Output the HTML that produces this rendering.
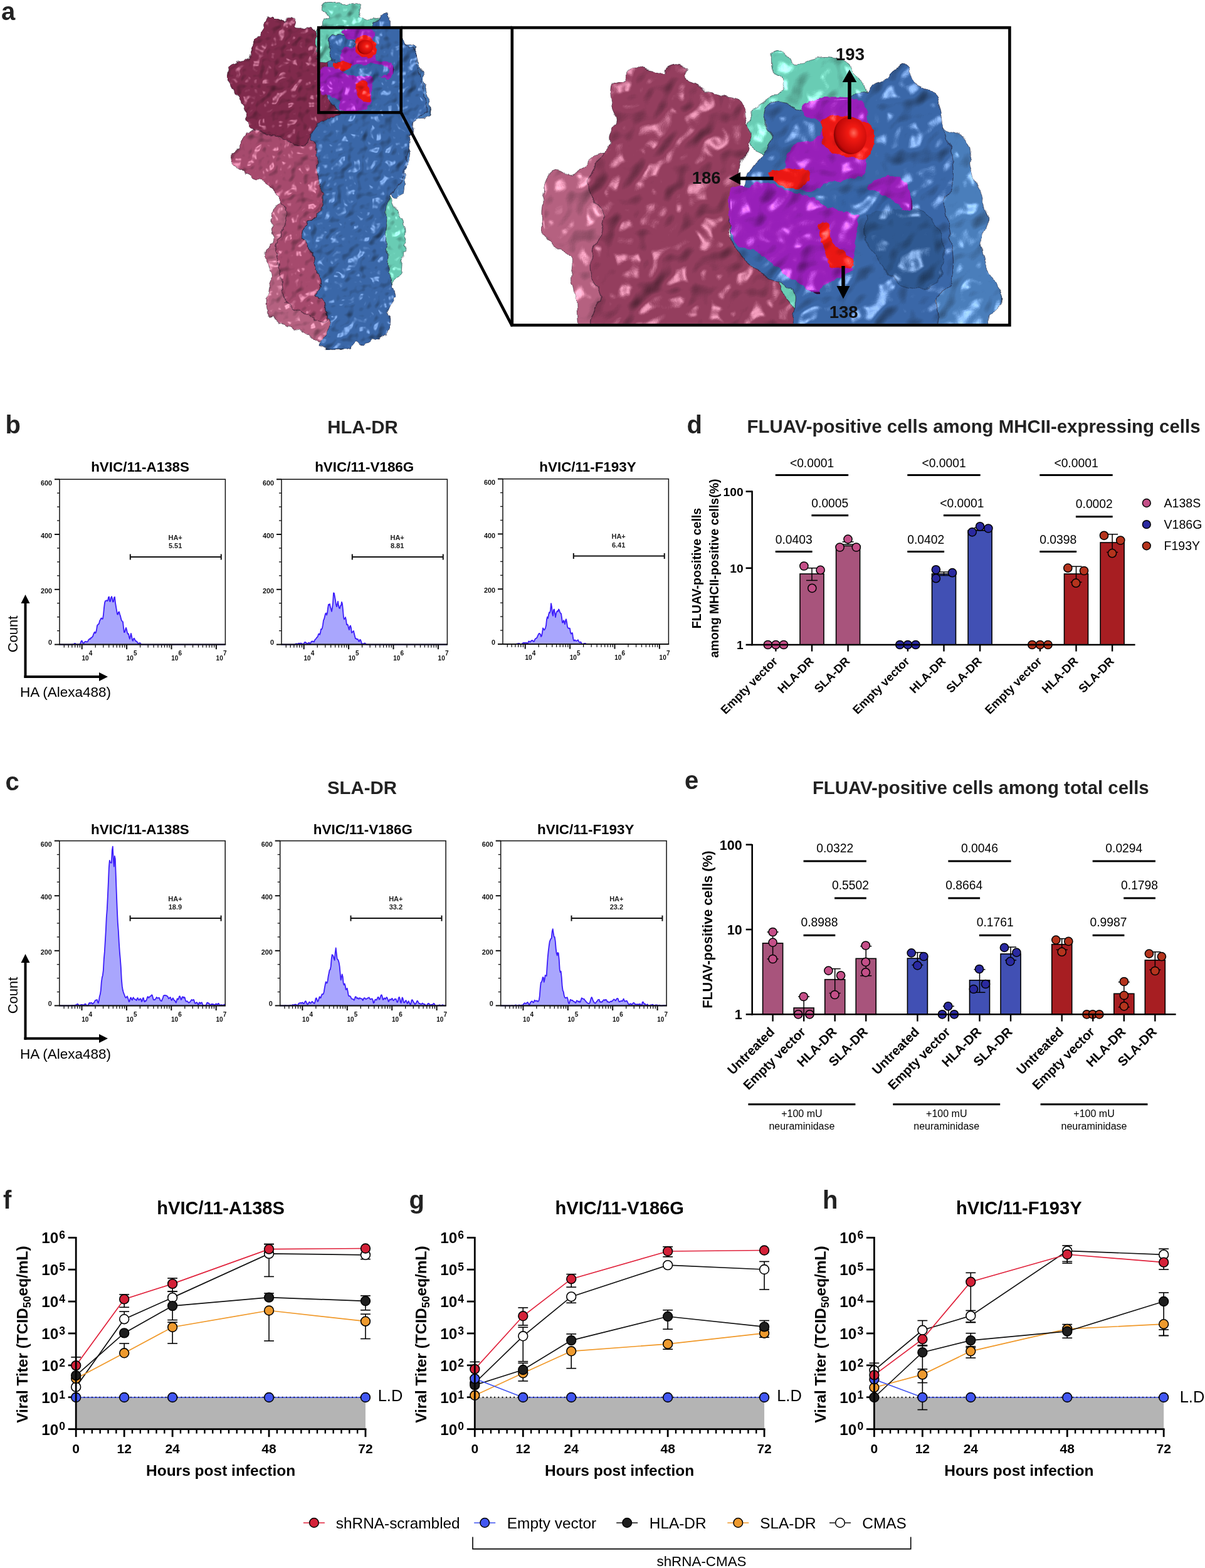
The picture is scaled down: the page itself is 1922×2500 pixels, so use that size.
<!DOCTYPE html>
<html><head><meta charset="utf-8"><title>Figure</title>
<style>html,body{margin:0;padding:0;background:#fff;overflow:hidden}svg{display:block}</style></head>
<body><svg width="1922" height="2500" viewBox="0 0 1922 2500" font-family="'Liberation Sans', sans-serif">
<rect width="1922" height="2500" fill="#fff"/>
<defs>
<filter id="bump" x="-10%" y="-10%" width="120%" height="120%" color-interpolation-filters="sRGB">
  <feTurbulence type="fractalNoise" baseFrequency="0.09" numOctaves="2" seed="4" result="t"/>
  <feDisplacementMap in="SourceGraphic" in2="t" scale="9" xChannelSelector="R" yChannelSelector="G"/>
</filter>
<filter id="bump2" x="-10%" y="-10%" width="120%" height="120%" color-interpolation-filters="sRGB">
  <feTurbulence type="fractalNoise" baseFrequency="0.05" numOctaves="2" seed="7" result="t"/>
  <feDisplacementMap in="SourceGraphic" in2="t" scale="12" xChannelSelector="R" yChannelSelector="G"/>
</filter>
<filter id="shadeS" x="0" y="0" width="100%" height="100%" color-interpolation-filters="sRGB">
  <feTurbulence type="fractalNoise" baseFrequency="0.05" numOctaves="2" seed="11" result="n"/>
  <feGaussianBlur in="n" stdDeviation="1.3" result="nb"/>
  <feDiffuseLighting in="nb" surfaceScale="4.5" diffuseConstant="1.32" lighting-color="#fff" result="diff">
    <feDistantLight azimuth="225" elevation="55"/>
  </feDiffuseLighting>
  <feSpecularLighting in="nb" surfaceScale="4.5" specularConstant="0.9" specularExponent="100" lighting-color="#fff" result="spec">
    <feDistantLight azimuth="225" elevation="55"/>
  </feSpecularLighting>
  <feComposite in="SourceGraphic" in2="diff" operator="arithmetic" k1="0.98" k2="0" k3="0" k4="0" result="lit"/>
  <feComposite in="spec" in2="lit" operator="arithmetic" k1="0" k2="0.38" k3="1" k4="0" result="l2"/>
  <feComposite in="l2" in2="SourceAlpha" operator="in"/>
</filter>
<filter id="shadeL" x="0" y="0" width="100%" height="100%" color-interpolation-filters="sRGB">
  <feTurbulence type="fractalNoise" baseFrequency="0.024" numOctaves="2" seed="12" result="n"/>
  <feGaussianBlur in="n" stdDeviation="2.8" result="nb"/>
  <feDiffuseLighting in="nb" surfaceScale="9" diffuseConstant="1.32" lighting-color="#fff" result="diff">
    <feDistantLight azimuth="225" elevation="55"/>
  </feDiffuseLighting>
  <feSpecularLighting in="nb" surfaceScale="9" specularConstant="0.9" specularExponent="90" lighting-color="#fff" result="spec">
    <feDistantLight azimuth="225" elevation="55"/>
  </feSpecularLighting>
  <feComposite in="SourceGraphic" in2="diff" operator="arithmetic" k1="0.98" k2="0" k3="0" k4="0" result="lit"/>
  <feComposite in="spec" in2="lit" operator="arithmetic" k1="0" k2="0.45" k3="1" k4="0" result="l2"/>
  <feComposite in="l2" in2="SourceAlpha" operator="in"/>
</filter>
<radialGradient id="redball" cx="0.62" cy="0.45" r="0.65">
  <stop offset="0" stop-color="#ff6a5a"/>
  <stop offset="0.25" stop-color="#f21a12"/>
  <stop offset="0.8" stop-color="#c00808"/>
  <stop offset="1" stop-color="#6a0000"/>
</radialGradient>
<clipPath id="insetclip"><rect x="819" y="46.5" width="789" height="469.5"/></clipPath>
</defs>
<text x="2.00" y="31.50" font-size="40" font-weight="bold" fill="#222">a</text>
<g filter="url(#shadeS)">
<path d="M516.7,6.3 C518.8,4.0 521.8,2.9 527.0,3.1 C532.2,3.3 541.7,7.0 548.0,7.3 C554.3,7.6 560.3,5.0 564.6,5.2 C568.9,5.4 572.3,6.0 574.0,8.3 C575.7,10.6 575.5,15.7 575.0,18.8 C574.5,21.9 569.8,25.3 570.8,27.0 C571.8,28.7 577.5,28.3 581.0,29.0 C584.5,29.7 587.5,31.3 591.7,31.3 C595.9,31.3 601.3,27.6 606.0,29.0 C610.7,30.4 621.0,33.2 620.0,40.0 C619.0,46.8 610.0,63.3 600.0,70.0 C590.0,76.7 574.2,75.8 560.0,80.0 C545.8,84.2 523.7,98.3 515.0,95.0 C506.3,91.7 508.1,69.9 508.0,60.0 C507.9,50.1 512.1,41.2 514.6,35.4 C517.1,29.6 523.0,28.1 523.0,25.0 C523.0,21.9 515.6,19.8 514.6,16.7 C513.6,13.6 514.6,8.6 516.7,6.3 Z" fill="#66CBB3" stroke="#1b1020" stroke-width="1.3" filter="url(#bump)" stroke-opacity="0.55"/>
<path d="M600.0,300.0 C603.8,288.7 616.2,307.3 621.0,312.0 C625.8,316.7 625.9,322.5 629.0,328.0 C632.1,333.5 636.8,339.0 639.6,345.0 C642.4,351.0 644.8,357.1 645.8,364.0 C646.8,370.9 645.8,380.9 645.8,386.7 C645.8,392.5 646.5,394.1 645.8,399.0 C645.1,403.9 642.7,409.7 641.7,416.0 C640.7,422.3 641.7,431.9 639.6,436.7 C637.5,441.5 631.4,441.5 629.0,445.0 C626.6,448.5 627.3,453.3 625.0,457.5 C622.7,461.7 619.2,467.9 615.0,470.0 C610.8,472.1 602.8,485.0 600.0,470.0 C597.2,455.0 598.0,408.3 598.0,380.0 C598.0,351.7 596.2,311.3 600.0,300.0 Z" fill="#66CBB3" stroke="#1b1020" stroke-width="1.3" filter="url(#bump)" stroke-opacity="0.55"/>
<path d="M495.0,165.0 C501.7,158.3 519.2,158.3 530.0,160.0 C540.8,161.7 554.2,167.5 560.0,175.0 C565.8,182.5 567.5,197.5 565.0,205.0 C562.5,212.5 555.0,216.7 545.0,220.0 C535.0,223.3 514.2,228.3 505.0,225.0 C495.8,221.7 491.7,210.0 490.0,200.0 C488.3,190.0 488.3,171.7 495.0,165.0 Z" fill="#66CBB3" stroke="#1b1020" stroke-width="1.3" filter="url(#bump)" stroke-opacity="0.55"/>
<path d="M437.5,330.0 C431.3,337.3 433.0,355.2 433.0,364.0 C433.0,372.8 438.8,377.3 437.5,382.5 C436.2,387.7 427.4,390.8 425.0,395.0 C422.6,399.2 422.3,402.3 423.0,407.5 C423.7,412.7 427.3,420.4 429.0,426.0 C430.7,431.6 433.0,435.8 433.0,441.0 C433.0,446.2 430.3,451.3 429.0,457.5 C427.7,463.7 425.3,471.8 425.0,478.0 C424.7,484.2 424.9,489.7 427.0,495.0 C429.1,500.3 432.3,505.4 437.5,509.6 C442.7,513.8 451.8,517.3 458.0,520.0 C464.2,522.7 468.7,523.2 475.0,526.0 C481.3,528.8 489.8,533.5 496.0,536.7 C502.2,539.9 507.7,545.7 512.5,545.0 C517.3,544.3 522.2,538.0 525.0,532.5 C527.8,527.0 529.8,530.5 529.0,511.7 C528.2,492.9 524.8,448.6 520.0,420.0 C515.2,391.4 508.3,356.7 500.0,340.0 C491.7,323.3 480.4,321.7 470.0,320.0 C459.6,318.3 443.7,322.7 437.5,330.0 Z" fill="#B45E7E" stroke="#1b1020" stroke-width="1.3" filter="url(#bump)" stroke-opacity="0.55"/>
<path d="M368.8,245.8 C370.0,241.7 375.1,242.6 379.0,237.5 C382.9,232.4 383.5,221.9 392.0,215.0 C400.5,208.1 417.0,198.8 430.0,196.0 C443.0,193.2 457.5,196.5 470.0,198.0 C482.5,199.5 498.7,191.3 505.0,205.0 C511.3,218.7 506.4,262.6 508.0,280.0 C509.6,297.4 513.9,300.9 514.6,309.6 C515.4,318.4 514.9,325.9 512.5,332.5 C510.1,339.1 504.5,344.5 500.0,349.0 C495.5,353.5 488.2,354.8 485.4,359.6 C482.6,364.4 482.2,372.8 483.3,378.0 C484.4,383.2 488.9,386.1 491.7,391.0 C494.5,395.9 497.9,401.3 500.0,407.5 C502.1,413.7 501.9,421.1 504.0,428.0 C506.1,434.9 512.5,442.0 512.5,449.0 C512.5,456.0 503.6,465.2 504.0,470.0 C504.4,474.8 511.8,473.2 514.6,478.0 C517.4,482.8 519.8,493.3 521.0,499.0 C522.2,504.7 524.7,509.8 522.0,512.0 C519.3,514.2 511.2,514.0 505.0,512.0 C498.8,510.0 491.7,503.7 485.0,500.0 C478.3,496.3 470.5,495.0 465.0,490.0 C459.5,485.0 455.2,480.0 452.0,470.0 C448.8,460.0 448.0,442.5 446.0,430.0 C444.0,417.5 439.0,405.8 440.0,395.0 C441.0,384.2 449.0,374.0 452.0,365.0 C455.0,356.0 458.3,347.8 458.0,341.0 C457.7,334.2 453.4,329.9 450.0,324.0 C446.6,318.1 442.0,310.9 437.5,305.4 C433.0,299.9 428.9,294.8 423.0,291.0 C417.1,287.2 408.3,285.7 402.0,282.5 C395.7,279.3 390.4,275.4 385.4,272.0 C380.4,268.6 374.8,266.4 372.0,262.0 C369.2,257.6 367.6,249.9 368.8,245.8 Z" fill="#A4466A" stroke="#1b1020" stroke-width="1.3" filter="url(#bump)" stroke-opacity="0.55"/>
<path d="M418.8,47.9 C420.2,44.4 421.5,34.6 425.0,31.3 C428.5,28.0 434.7,27.8 439.6,28.1 C444.5,28.4 450.4,33.1 454.2,33.3 C458.0,33.5 459.7,29.2 462.5,29.2 C465.3,29.2 469.4,30.9 470.8,33.3 C472.2,35.7 467.3,41.9 470.8,43.8 C474.3,45.7 486.1,44.1 491.7,44.8 C497.3,45.5 500.3,45.7 504.2,47.9 C508.1,50.1 512.0,51.0 515.0,58.0 C518.0,65.0 519.5,79.7 522.0,90.0 C524.5,100.3 527.8,110.0 530.0,120.0 C532.2,130.0 533.3,141.3 535.0,150.0 C536.7,158.7 538.3,166.2 540.0,172.0 C541.7,177.8 545.4,181.2 545.0,185.0 C544.6,188.8 540.5,192.8 537.5,195.0 C534.5,197.2 530.5,195.8 527.0,198.0 C523.5,200.2 519.9,206.3 516.7,208.0 C513.5,209.7 511.5,206.9 508.0,208.0 C504.5,209.1 498.5,211.8 495.8,214.6 C493.1,217.4 493.8,221.9 491.7,225.0 C489.6,228.1 487.5,232.3 483.3,233.0 C479.1,233.7 472.2,231.0 466.7,229.0 C461.1,227.0 455.6,223.1 450.0,221.0 C444.4,218.9 439.2,218.9 433.0,216.7 C426.8,214.5 418.7,210.8 412.5,208.0 C406.3,205.2 399.3,205.2 395.8,200.0 C392.3,194.8 394.2,184.0 391.7,177.0 C389.2,170.0 385.2,165.3 381.0,158.0 C376.8,150.7 370.1,138.8 366.7,133.0 C363.3,127.2 360.8,127.2 360.4,123.0 C360.0,118.8 361.2,112.2 364.6,108.0 C368.0,103.8 375.4,100.7 381.0,98.0 C386.6,95.3 394.2,96.6 398.0,91.7 C401.8,86.8 400.9,75.4 404.0,68.8 C407.1,62.2 414.2,55.5 416.7,52.0 C419.2,48.5 417.4,51.4 418.8,47.9 Z" fill="#7D2648" stroke="#1b1020" stroke-width="1.3" filter="url(#bump)" stroke-opacity="0.55"/>
<path d="M600.0,120.0 C605.0,88.3 622.4,68.5 630.0,60.0 C637.6,51.5 640.4,66.3 645.8,68.8 C651.2,71.3 659.4,70.8 662.5,75.0 C665.6,79.2 662.5,86.8 664.6,93.8 C666.7,100.8 672.9,110.2 675.0,116.7 C677.1,123.2 674.9,122.6 677.0,133.0 C679.1,143.4 686.8,169.9 687.5,179.0 C688.2,188.1 685.2,185.4 681.0,187.5 C676.8,189.6 666.3,188.3 662.5,191.7 C658.7,195.1 660.1,201.8 658.0,208.0 C655.9,214.2 650.7,222.7 650.0,229.0 C649.3,235.3 654.3,239.5 654.0,245.8 C653.7,252.1 649.4,259.2 648.0,266.7 C646.6,274.2 646.8,283.9 645.8,291.0 C644.8,298.1 645.2,306.1 641.7,309.6 C638.2,313.1 632.0,321.9 625.0,312.0 C618.0,302.1 604.2,282.0 600.0,250.0 C595.8,218.0 595.0,151.7 600.0,120.0 Z" fill="#4275B5" stroke="#1b1020" stroke-width="1.3" filter="url(#bump)" stroke-opacity="0.55"/>
<path d="M531.0,58.0 C534.5,55.5 540.0,55.3 548.0,54.0 C556.0,52.7 571.4,52.0 579.0,50.0 C586.6,48.0 588.6,46.2 593.8,41.7 C599.0,37.2 605.9,25.3 610.4,22.9 C614.9,20.4 618.7,23.9 620.8,27.0 C622.9,30.1 620.2,38.6 623.0,41.7 C625.8,44.8 633.7,41.3 637.5,45.8 C641.3,50.3 641.7,63.1 645.8,68.8 C649.9,74.5 659.0,74.8 662.0,80.0 C665.0,85.2 662.3,92.5 664.0,100.0 C665.7,107.5 670.0,116.7 672.0,125.0 C674.0,133.3 674.7,141.2 676.0,150.0 C677.3,158.8 682.3,171.3 680.0,178.0 C677.7,184.7 666.2,183.8 662.0,190.0 C657.8,196.2 657.3,205.0 655.0,215.0 C652.7,225.0 650.2,238.3 648.0,250.0 C645.8,261.7 646.5,274.3 642.0,285.0 C637.5,295.7 625.6,304.7 621.0,314.0 C616.4,323.3 615.3,333.4 614.6,341.0 C613.9,348.6 616.7,352.7 616.7,359.6 C616.7,366.5 614.2,375.3 614.6,382.5 C615.0,389.7 618.1,395.4 618.8,403.0 C619.5,410.6 617.8,420.3 618.8,428.0 C619.8,435.7 623.0,442.0 625.0,449.0 C627.0,456.0 630.7,465.2 631.0,470.0 C631.3,474.8 629.0,473.2 627.0,478.0 C625.0,482.8 619.5,493.7 618.8,499.0 C618.1,504.3 623.0,504.4 623.0,509.6 C623.0,514.8 622.6,524.8 618.8,530.0 C615.0,535.2 606.6,537.8 600.0,541.0 C593.4,544.2 584.2,548.3 579.0,549.0 C573.8,549.7 572.3,543.9 568.8,545.0 C565.3,546.1 565.0,553.3 558.0,555.4 C551.0,557.5 534.9,558.2 527.0,557.5 C519.1,556.8 512.5,553.8 510.4,551.0 C508.3,548.2 511.8,546.2 514.6,541.0 C517.4,535.8 525.9,527.0 527.0,520.0 C528.1,513.0 523.1,506.0 521.0,499.0 C518.9,492.0 517.4,482.8 514.6,478.0 C511.8,473.2 504.4,474.8 504.0,470.0 C503.6,465.2 512.5,456.0 512.5,449.0 C512.5,442.0 506.1,434.9 504.0,428.0 C501.9,421.1 502.1,413.7 500.0,407.5 C497.9,401.3 494.5,395.9 491.7,391.0 C488.9,386.1 484.4,383.2 483.3,378.0 C482.2,372.8 482.6,364.4 485.4,359.6 C488.2,354.8 495.5,353.5 500.0,349.0 C504.5,344.5 510.1,339.1 512.5,332.5 C514.9,325.9 515.4,316.5 514.6,309.6 C513.9,302.7 509.4,297.6 508.0,291.0 C506.6,284.4 506.7,279.3 506.0,270.0 C505.3,260.7 505.7,243.6 504.0,235.4 C502.3,227.2 496.5,225.4 495.8,220.8 C495.1,216.2 496.5,212.8 500.0,208.0 C503.5,203.2 508.4,196.5 516.7,191.7 C525.0,186.9 546.6,182.1 550.0,179.0 C553.4,175.9 542.5,178.5 537.0,173.0 C531.5,167.5 520.4,152.5 516.7,145.8 C513.0,139.1 513.6,138.6 514.6,133.0 C515.6,127.5 521.6,118.0 523.0,112.5 C524.4,107.0 521.3,104.2 523.0,100.0 C524.7,95.8 532.3,92.7 533.0,87.5 C533.7,82.3 527.3,73.7 527.0,68.8 C526.7,63.9 527.5,60.5 531.0,58.0 Z" fill="#3664A6" stroke="#1b1020" stroke-width="1.3" filter="url(#bump)" stroke-opacity="0.55"/>
</g>
<g filter="url(#shadeS)">
<path d="M506.0,45.0 C510.0,37.0 521.7,42.2 530.0,42.0 C538.3,41.8 551.0,41.0 556.0,44.0 C561.0,47.0 561.3,55.7 560.0,60.0 C558.7,64.3 552.2,66.3 548.0,70.0 C543.8,73.7 538.0,77.8 535.0,82.0 C532.0,86.2 533.3,92.0 530.0,95.0 C526.7,98.0 519.0,100.8 515.0,100.0 C511.0,99.2 507.5,99.2 506.0,90.0 C504.5,80.8 502.0,53.0 506.0,45.0 Z" fill="#66CBB3" stroke="#1b1020" stroke-width="1.3" filter="url(#bump)" stroke-opacity="0.55"/>
<path d="M525.0,62.0 C526.8,57.5 532.8,55.7 538.0,55.0 C543.2,54.3 551.2,55.8 556.0,58.0 C560.8,60.2 566.3,64.7 567.0,68.0 C567.7,71.3 563.2,75.7 560.0,78.0 C556.8,80.3 550.5,78.8 548.0,82.0 C545.5,85.2 548.0,94.5 545.0,97.0 C542.0,99.5 533.0,99.5 530.0,97.0 C527.0,94.5 527.8,87.8 527.0,82.0 C526.2,76.2 523.2,66.5 525.0,62.0 Z" fill="#3664A6" stroke="#1b1020" stroke-width="1.3" filter="url(#bump)" stroke-opacity="0.55"/>
<path d="M549.0,47.0 C552.8,44.2 567.3,44.0 575.0,44.0 C582.7,44.0 591.2,44.7 595.0,47.0 C598.8,49.3 598.8,55.2 598.0,58.0 C597.2,60.8 594.7,63.2 590.0,64.0 C585.3,64.8 576.3,63.5 570.0,63.0 C563.7,62.5 555.5,63.7 552.0,61.0 C548.5,58.3 545.2,49.8 549.0,47.0 Z" fill="#9A1EBA" filter="url(#bump)" stroke-opacity="0.55"/>
<path d="M544.0,80.0 C546.3,75.2 552.3,75.5 560.0,75.0 C567.7,74.5 583.5,74.5 590.0,77.0 C596.5,79.5 597.7,85.3 599.0,90.0 C600.3,94.7 601.2,101.8 598.0,105.0 C594.8,108.2 586.3,108.0 580.0,109.0 C573.7,110.0 565.7,111.8 560.0,111.0 C554.3,110.2 548.7,109.2 546.0,104.0 C543.3,98.8 541.7,84.8 544.0,80.0 Z" fill="#9A1EBA" filter="url(#bump)" stroke-opacity="0.55"/>
<path d="M594.0,100.0 C596.0,96.3 606.5,96.5 612.0,97.0 C617.5,97.5 624.3,99.5 627.0,103.0 C629.7,106.5 629.2,114.3 628.0,118.0 C626.8,121.7 624.7,124.8 620.0,125.0 C615.3,125.2 604.3,123.2 600.0,119.0 C595.7,114.8 592.0,103.7 594.0,100.0 Z" fill="#9A1EBA" filter="url(#bump)" stroke-opacity="0.55"/>
<path d="M511.0,110.0 C514.0,103.0 524.3,105.8 530.0,106.0 C535.7,106.2 540.0,109.3 545.0,111.0 C550.0,112.7 554.5,114.5 560.0,116.0 C565.5,117.5 572.3,119.2 578.0,120.0 C583.7,120.8 591.2,116.0 594.0,121.0 C596.8,126.0 595.7,142.5 595.0,150.0 C594.3,157.5 592.5,161.7 590.0,166.0 C587.5,170.3 585.0,174.0 580.0,176.0 C575.0,178.0 565.8,178.0 560.0,178.0 C554.2,178.0 548.7,179.0 545.0,176.0 C541.3,173.0 541.3,164.0 538.0,160.0 C534.7,156.0 529.3,154.0 525.0,152.0 C520.7,150.0 514.3,155.0 512.0,148.0 C509.7,141.0 508.0,117.0 511.0,110.0 Z" fill="#9A1EBA" filter="url(#bump)" stroke-opacity="0.55"/>
<path d="M550.0,113.0 C552.5,110.3 561.7,105.8 570.0,104.0 C578.3,102.2 591.3,100.7 600.0,102.0 C608.7,103.3 620.0,108.8 622.0,112.0 C624.0,115.2 616.5,119.5 612.0,121.0 C607.5,122.5 601.7,121.0 595.0,121.0 C588.3,121.0 578.7,121.2 572.0,121.0 C565.3,120.8 558.7,121.3 555.0,120.0 C551.3,118.7 547.5,115.7 550.0,113.0 Z" fill="#3664A6" filter="url(#bump)" stroke-opacity="0.55"/>
<path d="M568.0,62.0 C570.8,58.2 580.2,57.7 585.0,58.0 C589.8,58.3 594.5,60.3 597.0,64.0 C599.5,67.7 600.7,75.7 600.0,80.0 C599.3,84.3 597.0,88.2 593.0,90.0 C589.0,91.8 580.2,92.5 576.0,91.0 C571.8,89.5 569.3,85.8 568.0,81.0 C566.7,76.2 565.2,65.8 568.0,62.0 Z" fill="#EE1510" filter="url(#bump)" stroke-opacity="0.55"/>
<path d="M533.0,100.0 C535.3,98.3 544.0,97.7 548.0,98.0 C552.0,98.3 555.7,100.0 557.0,102.0 C558.3,104.0 558.5,108.3 556.0,110.0 C553.5,111.7 545.7,112.3 542.0,112.0 C538.3,111.7 535.5,110.0 534.0,108.0 C532.5,106.0 530.7,101.7 533.0,100.0 Z" fill="#EE1510" filter="url(#bump)" stroke-opacity="0.55"/>
<path d="M568.0,133.0 C569.5,129.5 576.5,129.8 580.0,131.0 C583.5,132.2 587.2,135.5 589.0,140.0 C590.8,144.5 592.5,154.2 591.0,158.0 C589.5,161.8 583.3,164.0 580.0,163.0 C576.7,162.0 573.0,157.0 571.0,152.0 C569.0,147.0 566.5,136.5 568.0,133.0 Z" fill="#EE1510" filter="url(#bump)" stroke-opacity="0.55"/>
</g>
<ellipse cx="582.5" cy="75" rx="12.5" ry="11.5" fill="url(#redball)"/>
<g clip-path="url(#insetclip)"><g filter="url(#shadeL)">
<path d="M866.0,318.0 C867.2,308.8 867.4,294.9 871.0,287.0 C874.6,279.1 880.9,271.7 887.6,270.5 C894.3,269.3 903.5,281.6 911.4,280.0 C919.3,278.4 927.9,266.6 935.0,261.0 C942.1,255.4 948.4,248.4 954.0,246.7 C959.6,245.0 965.1,242.1 968.6,251.0 C972.1,259.9 974.8,278.5 975.0,300.0 C975.2,321.5 972.5,355.0 970.0,380.0 C967.5,405.0 961.3,425.0 960.0,450.0 C958.7,475.0 967.7,516.7 962.0,530.0 C956.3,543.3 932.9,539.5 925.7,530.0 C918.5,520.5 921.0,486.5 918.6,473.0 C916.2,459.5 912.2,459.0 911.4,449.0 C910.6,439.0 915.8,420.9 913.8,413.0 C911.8,405.1 903.9,404.1 899.5,401.4 C895.1,398.7 892.8,400.7 887.6,396.7 C882.5,392.7 872.6,386.7 868.6,377.6 C864.6,368.5 864.2,351.9 863.8,342.0 C863.4,332.1 864.8,327.2 866.0,318.0 Z" fill="#B45E7E" stroke="#1b1020" stroke-width="1.3" filter="url(#bump2)" stroke-opacity="0.55"/>
<path d="M1229.8,88.8 C1231.1,83.6 1235.6,81.4 1240.0,81.0 C1244.4,80.6 1251.2,82.3 1256.0,86.2 C1260.8,90.1 1263.3,102.8 1269.0,104.5 C1274.7,106.2 1282.2,98.9 1290.0,96.7 C1297.8,94.5 1308.2,91.9 1316.0,91.4 C1323.8,91.0 1330.8,92.2 1337.0,94.0 C1343.2,95.8 1349.5,98.9 1353.0,102.0 C1356.5,105.1 1353.7,106.3 1358.0,112.4 C1362.3,118.5 1373.7,127.3 1379.0,138.6 C1384.3,149.9 1398.2,164.8 1390.0,180.0 C1381.8,195.2 1353.3,216.7 1330.0,230.0 C1306.7,243.3 1270.7,258.7 1250.0,260.0 C1229.3,261.3 1215.0,244.3 1206.0,238.0 C1197.0,231.7 1197.9,228.5 1195.7,222.4 C1193.5,216.3 1192.1,209.3 1193.0,201.4 C1193.9,193.5 1195.8,182.4 1201.0,175.0 C1206.2,167.6 1217.1,162.2 1224.5,157.0 C1231.9,151.8 1241.6,148.6 1245.5,143.8 C1249.4,139.0 1250.2,133.2 1248.0,128.0 C1245.8,122.8 1235.0,118.9 1232.0,112.4 C1229.0,105.9 1228.5,94.0 1229.8,88.8 Z" fill="#66CBB3" stroke="#1b1020" stroke-width="1.3" filter="url(#bump2)" stroke-opacity="0.55"/>
<path d="M1230.0,440.0 C1235.8,435.0 1250.0,436.7 1260.0,440.0 C1270.0,443.3 1284.2,445.0 1290.0,460.0 C1295.8,475.0 1303.3,518.3 1295.0,530.0 C1286.7,541.7 1251.7,540.0 1240.0,530.0 C1228.3,520.0 1226.7,485.0 1225.0,470.0 C1223.3,455.0 1224.2,445.0 1230.0,440.0 Z" fill="#66CBB3" stroke="#1b1020" stroke-width="1.3" filter="url(#bump2)" stroke-opacity="0.55"/>
<path d="M973.0,139.5 C974.2,133.2 979.0,134.4 983.0,132.4 C987.0,130.4 994.2,130.8 997.0,127.6 C999.8,124.4 996.7,116.9 999.5,113.3 C1002.3,109.7 1005.5,105.6 1013.8,106.0 C1022.1,106.4 1042.0,113.7 1049.5,115.7 C1057.0,117.7 1057.0,119.2 1059.0,118.0 C1061.0,116.8 1058.2,111.2 1061.4,108.6 C1064.6,106.0 1072.4,102.6 1078.0,102.6 C1083.6,102.6 1092.0,104.4 1094.8,108.6 C1097.6,112.8 1092.4,123.2 1094.8,127.6 C1097.2,132.0 1100.7,130.8 1109.0,134.8 C1117.3,138.8 1136.8,148.2 1144.8,151.4 C1152.8,154.6 1151.2,152.6 1156.7,153.8 C1162.2,155.0 1173.3,156.6 1178.0,158.6 C1182.7,160.6 1183.0,161.0 1185.0,165.7 C1187.0,170.4 1188.0,179.1 1190.0,187.0 C1192.0,194.9 1196.7,203.1 1197.0,213.0 C1197.3,222.9 1194.8,239.1 1192.0,246.7 C1189.2,254.3 1182.8,251.5 1180.5,258.6 C1178.2,265.7 1177.2,279.6 1178.0,289.5 C1178.8,299.4 1184.2,309.2 1185.0,318.0 C1185.8,326.8 1186.5,334.1 1183.0,342.0 C1179.5,349.9 1166.2,359.0 1163.8,365.7 C1161.4,372.4 1164.2,376.4 1168.6,382.4 C1173.0,388.3 1183.3,394.3 1190.0,401.4 C1196.7,408.5 1202.2,419.1 1209.0,425.0 C1215.8,430.9 1224.5,431.2 1230.5,437.0 C1236.5,442.8 1240.9,444.5 1245.0,460.0 C1249.1,475.5 1301.8,518.3 1255.0,530.0 C1208.2,541.7 1013.3,539.5 964.0,530.0 C914.7,520.5 962.2,488.5 959.0,473.0 C955.8,457.5 947.2,448.9 944.8,437.0 C942.4,425.1 943.3,409.7 944.8,401.4 C946.3,393.1 951.6,392.9 954.0,387.0 C956.4,381.1 957.3,373.2 959.0,365.7 C960.7,358.2 965.2,348.8 964.0,342.0 C962.8,335.2 956.0,331.0 952.0,325.0 C948.0,319.0 941.7,313.9 940.0,306.0 C938.3,298.1 938.7,286.9 942.0,277.6 C945.3,268.3 954.8,257.5 960.0,250.0 C965.2,242.5 970.8,238.6 973.0,232.4 C975.2,226.2 971.3,219.7 973.0,213.0 C974.7,206.3 982.5,199.1 983.0,192.0 C983.5,184.9 977.4,179.2 975.7,170.5 C974.0,161.8 971.8,145.8 973.0,139.5 Z" fill="#923A5B" stroke="#1b1020" stroke-width="1.3" filter="url(#bump2)" stroke-opacity="0.55"/>
<path d="M1489.0,206.7 C1491.7,162.1 1501.3,204.1 1510.0,206.7 C1518.7,209.3 1534.9,216.3 1541.4,222.4 C1548.0,228.5 1548.0,235.2 1549.3,243.0 C1550.6,250.8 1545.8,256.3 1549.3,269.5 C1552.8,282.7 1565.2,308.9 1570.0,322.0 C1574.8,335.1 1577.5,341.5 1578.0,348.0 C1578.5,354.5 1575.2,354.0 1573.0,361.0 C1570.8,368.0 1565.0,379.1 1565.0,390.0 C1565.0,400.9 1567.8,414.0 1573.0,426.7 C1578.2,439.4 1592.6,456.4 1596.5,466.0 C1600.4,475.6 1599.6,477.5 1596.5,484.0 C1593.4,490.5 1582.8,497.3 1578.0,505.0 C1573.2,512.7 1583.9,525.8 1567.6,530.0 C1551.3,534.2 1492.3,539.3 1480.0,530.0 C1467.7,520.7 1492.5,527.9 1494.0,474.0 C1495.5,420.1 1486.3,251.2 1489.0,206.7 Z" fill="#467BBA" stroke="#1b1020" stroke-width="1.3" filter="url(#bump2)" stroke-opacity="0.55"/>
<path d="M1222.0,170.0 C1225.1,164.3 1230.2,162.4 1237.6,162.0 C1245.0,161.6 1258.5,165.2 1266.4,167.4 C1274.3,169.6 1274.2,176.2 1284.8,175.0 C1295.4,173.8 1314.3,164.8 1330.0,160.0 C1345.7,155.2 1369.1,150.4 1379.0,146.4 C1388.9,142.4 1383.4,139.5 1389.5,136.0 C1395.6,132.5 1410.5,129.0 1415.7,125.5 C1421.0,122.0 1417.1,118.9 1421.0,115.0 C1424.9,111.1 1433.8,102.9 1439.0,102.0 C1444.2,101.1 1449.7,105.0 1452.4,109.8 C1455.1,114.6 1448.9,124.2 1455.0,130.7 C1461.1,137.2 1481.6,142.4 1489.0,149.0 C1496.4,155.6 1496.8,160.8 1499.5,170.0 C1502.2,179.2 1501.9,191.8 1505.0,204.0 C1508.1,216.2 1515.4,228.6 1518.0,243.0 C1520.6,257.4 1522.3,277.3 1520.5,290.5 C1518.7,303.7 1508.7,310.2 1507.4,322.0 C1506.1,333.8 1510.4,345.7 1512.6,361.0 C1514.8,376.3 1520.1,398.3 1520.5,413.6 C1520.9,428.9 1519.4,442.9 1515.0,453.0 C1510.6,463.1 1500.5,461.2 1494.0,474.0 C1487.5,486.8 1511.7,520.7 1476.0,530.0 C1440.3,539.3 1314.3,540.0 1280.0,530.0 C1245.7,520.0 1278.3,484.2 1270.0,470.0 C1261.7,455.8 1243.3,453.3 1230.0,445.0 C1216.7,436.7 1200.8,432.5 1190.0,420.0 C1179.2,407.5 1168.3,385.0 1165.0,370.0 C1161.7,355.0 1166.7,340.2 1170.0,330.0 C1173.3,319.8 1181.6,316.7 1185.0,308.8 C1188.4,300.9 1187.0,290.9 1190.5,282.6 C1194.0,274.3 1200.3,266.4 1206.0,259.0 C1211.7,251.6 1220.1,245.0 1224.5,238.0 C1228.9,231.0 1233.3,224.0 1232.4,217.0 C1231.5,210.0 1220.7,203.8 1219.0,196.0 C1217.3,188.2 1218.9,175.7 1222.0,170.0 Z" fill="#3664A6" stroke="#1b1020" stroke-width="1.3" filter="url(#bump2)" stroke-opacity="0.55"/>
<path d="M1385.0,335.0 C1391.7,325.0 1407.5,320.8 1420.0,320.0 C1432.5,319.2 1447.5,323.3 1460.0,330.0 C1472.5,336.7 1487.5,348.3 1495.0,360.0 C1502.5,371.7 1504.2,386.7 1505.0,400.0 C1505.8,413.3 1504.2,430.0 1500.0,440.0 C1495.8,450.0 1490.0,457.5 1480.0,460.0 C1470.0,462.5 1450.0,458.3 1440.0,455.0 C1430.0,451.7 1426.7,447.5 1420.0,440.0 C1413.3,432.5 1406.7,420.0 1400.0,410.0 C1393.3,400.0 1382.5,392.5 1380.0,380.0 C1377.5,367.5 1378.3,345.0 1385.0,335.0 Z" fill="#2B5690" stroke="#101828" stroke-width="1.3" filter="url(#bump2)" stroke-opacity="0.35"/>
</g>
<g filter="url(#shadeL)">
<path d="M1279.5,170.0 C1281.7,165.6 1290.1,162.1 1298.0,159.5 C1305.9,156.9 1315.9,154.7 1326.7,154.3 C1337.5,153.9 1353.8,154.4 1363.0,157.0 C1372.2,159.6 1378.2,165.2 1381.7,170.0 C1385.2,174.8 1382.7,179.6 1384.0,185.7 C1385.3,191.8 1388.2,199.7 1389.5,206.7 C1390.8,213.7 1392.9,220.6 1392.0,227.6 C1391.1,234.6 1386.2,240.3 1384.0,248.6 C1381.8,256.9 1385.1,270.8 1379.0,277.4 C1372.9,284.0 1357.2,285.8 1347.6,288.0 C1338.0,290.2 1328.4,288.3 1321.4,290.5 C1314.4,292.7 1310.9,298.4 1305.7,301.0 C1300.5,303.6 1295.7,306.2 1290.0,306.2 C1284.3,306.2 1276.9,303.6 1271.7,301.0 C1266.5,298.4 1261.7,295.8 1258.6,290.5 C1255.5,285.2 1253.7,277.4 1253.3,269.5 C1252.9,261.6 1252.9,250.3 1256.0,243.3 C1259.1,236.3 1264.7,231.1 1271.7,227.6 C1278.7,224.1 1291.5,225.9 1298.0,222.4 C1304.5,218.9 1309.7,211.9 1311.0,206.7 C1312.3,201.5 1310.1,194.5 1305.7,191.0 C1301.3,187.5 1289.2,189.2 1284.8,185.7 C1280.4,182.2 1277.3,174.4 1279.5,170.0 Z" fill="#9A1EBA" filter="url(#bump)" stroke-opacity="0.55"/>
<path d="M1165.0,300.0 C1169.6,291.3 1182.8,299.6 1190.5,298.0 C1198.2,296.4 1204.4,291.3 1211.4,290.5 C1218.4,289.7 1224.5,290.4 1232.4,293.0 C1240.3,295.6 1249.0,303.1 1258.6,306.2 C1268.2,309.3 1281.3,308.8 1290.0,311.4 C1298.7,314.0 1304.9,318.5 1311.0,322.0 C1317.1,325.5 1317.1,332.4 1326.7,332.4 C1336.3,332.4 1361.6,319.4 1368.6,322.0 C1375.6,324.6 1369.5,334.9 1368.6,348.0 C1367.7,361.1 1364.8,386.5 1363.0,400.5 C1361.2,414.5 1364.0,424.1 1358.0,432.0 C1352.0,439.9 1334.5,443.3 1326.7,447.6 C1318.9,451.9 1315.0,454.5 1311.0,458.0 C1307.0,461.5 1307.4,468.6 1303.0,468.6 C1298.6,468.6 1292.2,462.4 1284.8,458.0 C1277.4,453.6 1267.3,448.5 1258.6,442.4 C1249.9,436.3 1241.2,428.4 1232.4,421.4 C1223.6,414.4 1215.6,405.7 1206.0,400.5 C1196.4,395.3 1182.2,398.4 1175.0,390.0 C1167.8,381.6 1164.7,365.0 1163.0,350.0 C1161.3,335.0 1160.4,308.7 1165.0,300.0 Z" fill="#9A1EBA" filter="url(#bump)" stroke-opacity="0.55"/>
<path d="M1384.0,295.7 C1388.4,290.5 1406.0,281.3 1415.7,280.0 C1425.4,278.7 1435.5,281.0 1442.0,288.0 C1448.5,295.0 1453.3,313.7 1455.0,322.0 C1456.7,330.3 1455.5,335.9 1452.4,337.6 C1449.4,339.3 1442.8,335.9 1436.7,332.4 C1430.6,328.9 1423.6,320.2 1415.7,316.7 C1407.8,313.2 1394.8,314.9 1389.5,311.4 C1384.2,307.9 1379.6,300.9 1384.0,295.7 Z" fill="#9A1EBA" filter="url(#bump)" stroke-opacity="0.55"/>
<path d="M1300.0,318.0 C1301.7,314.7 1326.7,315.0 1340.0,312.0 C1353.3,309.0 1366.7,299.0 1380.0,300.0 C1393.3,301.0 1410.0,312.7 1420.0,318.0 C1430.0,323.3 1443.3,328.7 1440.0,332.0 C1436.7,335.3 1411.3,336.3 1400.0,338.0 C1388.7,339.7 1383.7,343.0 1372.0,342.0 C1360.3,341.0 1342.0,336.0 1330.0,332.0 C1318.0,328.0 1298.3,321.3 1300.0,318.0 Z" fill="#3664A6" filter="url(#bump)" stroke-opacity="0.55"/>
<path d="M1313.6,190.0 C1319.1,185.2 1332.3,184.3 1345.0,186.0 C1357.7,187.7 1381.7,191.8 1389.5,200.0 C1397.3,208.2 1393.6,226.0 1392.0,235.0 C1390.4,244.0 1387.0,251.3 1380.0,253.8 C1373.0,256.3 1360.3,252.6 1350.0,250.0 C1339.7,247.4 1324.3,243.8 1318.0,238.0 C1311.7,232.2 1312.7,223.0 1312.0,215.0 C1311.3,207.0 1308.1,194.8 1313.6,190.0 Z" fill="#EE1510" filter="url(#bump)" stroke-opacity="0.55"/>
<path d="M1227.0,274.8 C1230.5,271.3 1248.1,270.0 1258.6,269.5 C1269.1,269.0 1285.6,267.6 1290.0,272.0 C1294.4,276.4 1290.0,290.9 1284.8,295.7 C1279.6,300.5 1266.5,301.9 1258.6,301.0 C1250.7,300.1 1242.9,294.9 1237.6,290.5 C1232.3,286.1 1223.5,278.3 1227.0,274.8 Z" fill="#EE1510" filter="url(#bump)" stroke-opacity="0.55"/>
<path d="M1305.7,358.6 C1307.9,354.7 1317.9,351.2 1321.4,356.0 C1324.9,360.8 1322.3,380.0 1326.7,387.4 C1331.1,394.8 1341.5,394.8 1347.6,400.5 C1353.7,406.2 1362.9,417.0 1363.3,421.4 C1363.7,425.8 1356.1,425.8 1350.0,426.7 C1343.9,427.6 1332.3,431.1 1326.7,426.7 C1321.1,422.3 1319.3,408.4 1316.2,400.5 C1313.1,392.6 1310.0,386.5 1308.3,379.5 C1306.5,372.5 1303.5,362.5 1305.7,358.6 Z" fill="#EE1510" filter="url(#bump)" stroke-opacity="0.55"/>
</g></g>
<ellipse cx="1356" cy="216" rx="26" ry="30" fill="url(#redball)" transform="rotate(-10 1356 216)"/>
<line x1="1355.00" y1="190.00" x2="1355.00" y2="128.00" stroke="#000" stroke-width="5.5"/>
<path d="M1343.7,131 L1355,111 L1366.3,131 Z" fill="#000" stroke="none" stroke-width="1.5"/>
<text x="1356.00" y="95.50" font-size="27.5" font-weight="bold" text-anchor="middle" fill="#111">193</text>
<line x1="1345.00" y1="424.00" x2="1345.00" y2="458.00" stroke="#000" stroke-width="5.5"/>
<path d="M1334.5,456 L1345,476.4 L1355.5,456 Z" fill="#000" stroke="none" stroke-width="1.5"/>
<text x="1345.60" y="506.60" font-size="27.5" font-weight="bold" text-anchor="middle" fill="#111">138</text>
<line x1="1233.70" y1="284.50" x2="1178.00" y2="284.50" stroke="#000" stroke-width="5.5"/>
<path d="M1181,274.5 L1162.5,284.5 L1181,294.5 Z" fill="#000" stroke="none" stroke-width="1.5"/>
<text x="1126.60" y="292.50" font-size="27.5" font-weight="bold" text-anchor="middle" fill="#111">186</text>
<rect x="508.20" y="44.10" width="131.50" height="135.30" fill="none" stroke="#000" stroke-width="4.6"/>
<rect x="816.80" y="44.10" width="793.60" height="474.30" fill="none" stroke="#000" stroke-width="4.6"/>
<line x1="639.70" y1="44.10" x2="816.80" y2="44.10" stroke="#000" stroke-width="4.6"/>
<line x1="639.70" y1="179.40" x2="816.20" y2="518.40" stroke="#000" stroke-width="4.6" stroke-linecap="round"/>
<text x="8.50" y="691.00" font-size="40" font-weight="bold" fill="#222">b</text>
<text x="578.50" y="690.50" font-size="29.4" font-weight="bold" text-anchor="middle" fill="#222">HLA-DR</text>
<text x="223.60" y="752.00" font-size="22.4" font-weight="bold" text-anchor="middle">hVIC/11-A138S</text>
<path d="M95.0,1027.6 L95.0,1027.6 L96.0,1027.6 L97.0,1027.6 L98.0,1027.6 L99.0,1027.6 L100.0,1027.6 L101.0,1027.6 L102.0,1027.6 L103.0,1027.6 L104.0,1027.6 L105.0,1027.6 L106.0,1027.6 L107.0,1027.6 L108.0,1027.6 L109.0,1027.6 L110.0,1027.6 L111.0,1027.6 L112.0,1027.6 L113.0,1027.6 L114.0,1027.6 L115.0,1027.3 L116.0,1027.4 L117.0,1027.2 L118.0,1026.7 L119.0,1026.0 L120.0,1025.8 L121.0,1027.0 L122.0,1027.5 L123.0,1027.6 L124.0,1027.2 L125.0,1027.6 L126.0,1027.4 L127.0,1027.2 L128.0,1026.2 L129.0,1023.5 L130.0,1021.6 L131.0,1022.0 L132.0,1024.8 L133.0,1025.6 L134.0,1025.1 L135.0,1023.4 L136.0,1022.8 L137.0,1022.8 L138.0,1023.4 L139.0,1023.3 L140.0,1023.0 L141.0,1020.3 L142.0,1019.4 L143.0,1018.4 L144.0,1019.1 L145.0,1016.9 L146.0,1016.9 L147.0,1015.5 L148.0,1014.7 L149.0,1011.4 L150.0,1009.3 L151.0,1007.6 L152.0,1009.5 L153.0,1008.2 L154.0,1004.1 L155.0,997.5 L156.0,996.0 L157.0,995.3 L158.0,994.1 L159.0,989.9 L160.0,988.1 L161.0,986.1 L162.0,985.5 L163.0,986.9 L164.0,986.4 L165.0,979.8 L166.0,968.9 L167.0,961.1 L168.0,958.1 L169.0,957.9 L170.0,957.1 L171.0,958.2 L172.0,957.6 L173.0,952.3 L174.0,951.6 L175.0,958.9 L176.0,958.8 L177.0,953.1 L178.0,951.1 L179.0,954.1 L180.0,959.5 L181.0,959.4 L182.0,952.9 L183.0,951.8 L184.0,961.1 L185.0,967.1 L186.0,973.2 L187.0,979.2 L188.0,979.7 L189.0,976.0 L190.0,975.4 L191.0,979.3 L192.0,982.0 L193.0,986.4 L194.0,989.5 L195.0,990.6 L196.0,991.4 L197.0,1000.6 L198.0,1008.1 L199.0,1007.8 L200.0,1003.9 L201.0,1000.8 L202.0,1003.9 L203.0,1008.7 L204.0,1010.8 L205.0,1010.4 L206.0,1016.0 L207.0,1018.6 L208.0,1014.1 L209.0,1010.0 L210.0,1014.5 L211.0,1020.2 L212.0,1021.7 L213.0,1018.7 L214.0,1017.6 L215.0,1019.7 L216.0,1021.7 L217.0,1022.4 L218.0,1022.5 L219.0,1024.0 L220.0,1025.6 L221.0,1026.5 L222.0,1025.4 L223.0,1025.0 L224.0,1025.7 L225.0,1027.3 L226.0,1027.6 L227.0,1027.6 L228.0,1027.6 L229.0,1027.6 L230.0,1027.6 L231.0,1027.6 L232.0,1027.6 L233.0,1027.6 L234.0,1027.6 L235.0,1027.6 L236.0,1027.6 L237.0,1027.6 L238.0,1027.6 L239.0,1027.6 L240.0,1027.6 L241.0,1027.6 L242.0,1027.6 L243.0,1027.6 L244.0,1027.6 L245.0,1027.6 L246.0,1027.6 L247.0,1027.6 L248.0,1027.6 L249.0,1027.6 L250.0,1027.6 L251.0,1027.6 L252.0,1027.6 L253.0,1027.6 L254.0,1027.6 L255.0,1027.6 L256.0,1027.6 L257.0,1027.6 L258.0,1027.6 L259.0,1027.6 L260.0,1027.6 L261.0,1027.6 L262.0,1027.6 L263.0,1027.6 L264.0,1027.6 L265.0,1027.6 L266.0,1027.6 L267.0,1027.6 L268.0,1027.6 L269.0,1027.6 L270.0,1027.6 L271.0,1027.6 L272.0,1027.6 L273.0,1027.6 L274.0,1027.6 L275.0,1027.6 L276.0,1027.6 L277.0,1027.6 L278.0,1027.6 L279.0,1027.6 L280.0,1027.6 L281.0,1027.6 L282.0,1027.6 L283.0,1027.6 L284.0,1027.6 L285.0,1027.6 L286.0,1027.6 L287.0,1027.6 L288.0,1027.6 L289.0,1027.6 L290.0,1027.6 L291.0,1027.6 L292.0,1027.6 L293.0,1027.6 L294.0,1027.6 L295.0,1027.6 L296.0,1027.6 L297.0,1027.6 L298.0,1027.6 L299.0,1027.6 L300.0,1027.6 L301.0,1027.6 L302.0,1027.6 L303.0,1027.6 L304.0,1027.6 L305.0,1027.6 L306.0,1027.6 L307.0,1027.6 L308.0,1027.6 L309.0,1027.6 L310.0,1027.6 L311.0,1027.6 L312.0,1027.6 L313.0,1027.6 L314.0,1027.6 L315.0,1027.6 L316.0,1027.6 L317.0,1027.6 L318.0,1027.6 L319.0,1027.6 L320.0,1027.6 L321.0,1027.6 L322.0,1027.6 L323.0,1027.6 L324.0,1027.6 L325.0,1027.6 L326.0,1027.6 L327.0,1027.6 L328.0,1027.6 L329.0,1027.6 L330.0,1027.6 L331.0,1027.6 L332.0,1027.6 L333.0,1027.6 L334.0,1027.6 L335.0,1027.6 L336.0,1027.6 L337.0,1027.6 L338.0,1027.6 L339.0,1027.6 L340.0,1027.6 L341.0,1027.6 L342.0,1027.6 L343.0,1027.6 L344.0,1027.6 L345.0,1027.6 L346.0,1027.6 L347.0,1027.6 L348.0,1027.6 L349.0,1027.6 L350.0,1027.6 L351.0,1027.6 L352.0,1027.6 L353.0,1027.6 L354.0,1027.6 L355.0,1027.6 L356.0,1027.6 L357.0,1027.6 L358.0,1027.6 L359.0,1027.6 L359.4,1027.6 Z" fill="#A9A6FD" stroke="none" stroke-width="1.5"/>
<path d="M95.0,1027.6 L96.0,1027.6 L97.0,1027.6 L98.0,1027.6 L99.0,1027.6 L100.0,1027.6 L101.0,1027.6 L102.0,1027.6 L103.0,1027.6 L104.0,1027.6 L105.0,1027.6 L106.0,1027.6 L107.0,1027.6 L108.0,1027.6 L109.0,1027.6 L110.0,1027.6 L111.0,1027.6 L112.0,1027.6 L113.0,1027.6 L114.0,1027.6 L115.0,1027.3 L116.0,1027.4 L117.0,1027.2 L118.0,1026.7 L119.0,1026.0 L120.0,1025.8 L121.0,1027.0 L122.0,1027.5 L123.0,1027.6 L124.0,1027.2 L125.0,1027.6 L126.0,1027.4 L127.0,1027.2 L128.0,1026.2 L129.0,1023.5 L130.0,1021.6 L131.0,1022.0 L132.0,1024.8 L133.0,1025.6 L134.0,1025.1 L135.0,1023.4 L136.0,1022.8 L137.0,1022.8 L138.0,1023.4 L139.0,1023.3 L140.0,1023.0 L141.0,1020.3 L142.0,1019.4 L143.0,1018.4 L144.0,1019.1 L145.0,1016.9 L146.0,1016.9 L147.0,1015.5 L148.0,1014.7 L149.0,1011.4 L150.0,1009.3 L151.0,1007.6 L152.0,1009.5 L153.0,1008.2 L154.0,1004.1 L155.0,997.5 L156.0,996.0 L157.0,995.3 L158.0,994.1 L159.0,989.9 L160.0,988.1 L161.0,986.1 L162.0,985.5 L163.0,986.9 L164.0,986.4 L165.0,979.8 L166.0,968.9 L167.0,961.1 L168.0,958.1 L169.0,957.9 L170.0,957.1 L171.0,958.2 L172.0,957.6 L173.0,952.3 L174.0,951.6 L175.0,958.9 L176.0,958.8 L177.0,953.1 L178.0,951.1 L179.0,954.1 L180.0,959.5 L181.0,959.4 L182.0,952.9 L183.0,951.8 L184.0,961.1 L185.0,967.1 L186.0,973.2 L187.0,979.2 L188.0,979.7 L189.0,976.0 L190.0,975.4 L191.0,979.3 L192.0,982.0 L193.0,986.4 L194.0,989.5 L195.0,990.6 L196.0,991.4 L197.0,1000.6 L198.0,1008.1 L199.0,1007.8 L200.0,1003.9 L201.0,1000.8 L202.0,1003.9 L203.0,1008.7 L204.0,1010.8 L205.0,1010.4 L206.0,1016.0 L207.0,1018.6 L208.0,1014.1 L209.0,1010.0 L210.0,1014.5 L211.0,1020.2 L212.0,1021.7 L213.0,1018.7 L214.0,1017.6 L215.0,1019.7 L216.0,1021.7 L217.0,1022.4 L218.0,1022.5 L219.0,1024.0 L220.0,1025.6 L221.0,1026.5 L222.0,1025.4 L223.0,1025.0 L224.0,1025.7 L225.0,1027.3 L226.0,1027.6 L227.0,1027.6 L228.0,1027.6 L229.0,1027.6 L230.0,1027.6 L231.0,1027.6 L232.0,1027.6 L233.0,1027.6 L234.0,1027.6 L235.0,1027.6 L236.0,1027.6 L237.0,1027.6 L238.0,1027.6 L239.0,1027.6 L240.0,1027.6 L241.0,1027.6 L242.0,1027.6 L243.0,1027.6 L244.0,1027.6 L245.0,1027.6 L246.0,1027.6 L247.0,1027.6 L248.0,1027.6 L249.0,1027.6 L250.0,1027.6 L251.0,1027.6 L252.0,1027.6 L253.0,1027.6 L254.0,1027.6 L255.0,1027.6 L256.0,1027.6 L257.0,1027.6 L258.0,1027.6 L259.0,1027.6 L260.0,1027.6 L261.0,1027.6 L262.0,1027.6 L263.0,1027.6 L264.0,1027.6 L265.0,1027.6 L266.0,1027.6 L267.0,1027.6 L268.0,1027.6 L269.0,1027.6 L270.0,1027.6 L271.0,1027.6 L272.0,1027.6 L273.0,1027.6 L274.0,1027.6 L275.0,1027.6 L276.0,1027.6 L277.0,1027.6 L278.0,1027.6 L279.0,1027.6 L280.0,1027.6 L281.0,1027.6 L282.0,1027.6 L283.0,1027.6 L284.0,1027.6 L285.0,1027.6 L286.0,1027.6 L287.0,1027.6 L288.0,1027.6 L289.0,1027.6 L290.0,1027.6 L291.0,1027.6 L292.0,1027.6 L293.0,1027.6 L294.0,1027.6 L295.0,1027.6 L296.0,1027.6 L297.0,1027.6 L298.0,1027.6 L299.0,1027.6 L300.0,1027.6 L301.0,1027.6 L302.0,1027.6 L303.0,1027.6 L304.0,1027.6 L305.0,1027.6 L306.0,1027.6 L307.0,1027.6 L308.0,1027.6 L309.0,1027.6 L310.0,1027.6 L311.0,1027.6 L312.0,1027.6 L313.0,1027.6 L314.0,1027.6 L315.0,1027.6 L316.0,1027.6 L317.0,1027.6 L318.0,1027.6 L319.0,1027.6 L320.0,1027.6 L321.0,1027.6 L322.0,1027.6 L323.0,1027.6 L324.0,1027.6 L325.0,1027.6 L326.0,1027.6 L327.0,1027.6 L328.0,1027.6 L329.0,1027.6 L330.0,1027.6 L331.0,1027.6 L332.0,1027.6 L333.0,1027.6 L334.0,1027.6 L335.0,1027.6 L336.0,1027.6 L337.0,1027.6 L338.0,1027.6 L339.0,1027.6 L340.0,1027.6 L341.0,1027.6 L342.0,1027.6 L343.0,1027.6 L344.0,1027.6 L345.0,1027.6 L346.0,1027.6 L347.0,1027.6 L348.0,1027.6 L349.0,1027.6 L350.0,1027.6 L351.0,1027.6 L352.0,1027.6 L353.0,1027.6 L354.0,1027.6 L355.0,1027.6 L356.0,1027.6 L357.0,1027.6 L358.0,1027.6 L359.0,1027.6" fill="none" stroke="#3C1EFA" stroke-width="1.8" stroke-linejoin="round"/>
<rect x="95.00" y="764.20" width="264.40" height="263.40" fill="none" stroke="#111" stroke-width="1.5"/>
<line x1="94.25" y1="1027.60" x2="360.15" y2="1027.60" stroke="#111" stroke-width="2.0"/>
<line x1="87.00" y1="1027.60" x2="95.00" y2="1027.60" stroke="#111" stroke-width="2.0"/>
<line x1="91.00" y1="1005.65" x2="95.00" y2="1005.65" stroke="#111" stroke-width="1.3"/>
<line x1="91.00" y1="983.70" x2="95.00" y2="983.70" stroke="#111" stroke-width="1.3"/>
<line x1="91.00" y1="961.75" x2="95.00" y2="961.75" stroke="#111" stroke-width="1.3"/>
<line x1="87.00" y1="939.80" x2="95.00" y2="939.80" stroke="#111" stroke-width="2.0"/>
<line x1="91.00" y1="917.85" x2="95.00" y2="917.85" stroke="#111" stroke-width="1.3"/>
<line x1="91.00" y1="895.90" x2="95.00" y2="895.90" stroke="#111" stroke-width="1.3"/>
<line x1="91.00" y1="873.95" x2="95.00" y2="873.95" stroke="#111" stroke-width="1.3"/>
<line x1="87.00" y1="852.00" x2="95.00" y2="852.00" stroke="#111" stroke-width="2.0"/>
<line x1="91.00" y1="830.05" x2="95.00" y2="830.05" stroke="#111" stroke-width="1.3"/>
<line x1="91.00" y1="808.10" x2="95.00" y2="808.10" stroke="#111" stroke-width="1.3"/>
<line x1="91.00" y1="786.15" x2="95.00" y2="786.15" stroke="#111" stroke-width="1.3"/>
<line x1="87.00" y1="764.20" x2="95.00" y2="764.20" stroke="#111" stroke-width="2.0"/>
<text x="83.00" y="1028.40" font-size="10.8" font-weight="bold" text-anchor="end" fill="#111">0</text>
<text x="83.00" y="945.90" font-size="10.8" font-weight="bold" text-anchor="end" fill="#111">200</text>
<text x="83.00" y="858.10" font-size="10.8" font-weight="bold" text-anchor="end" fill="#111">400</text>
<text x="83.00" y="773.80" font-size="10.8" font-weight="bold" text-anchor="end" fill="#111">600</text>
<line x1="102.29" y1="1027.60" x2="102.29" y2="1032.40" stroke="#111" stroke-width="1.3"/>
<line x1="109.21" y1="1027.60" x2="109.21" y2="1032.40" stroke="#111" stroke-width="1.3"/>
<line x1="114.86" y1="1027.60" x2="114.86" y2="1032.40" stroke="#111" stroke-width="1.3"/>
<line x1="119.64" y1="1027.60" x2="119.64" y2="1032.40" stroke="#111" stroke-width="1.3"/>
<line x1="123.78" y1="1027.60" x2="123.78" y2="1032.40" stroke="#111" stroke-width="1.3"/>
<line x1="127.43" y1="1027.60" x2="127.43" y2="1032.40" stroke="#111" stroke-width="1.3"/>
<line x1="130.70" y1="1027.60" x2="130.70" y2="1035.20" stroke="#111" stroke-width="2.0"/>
<line x1="152.19" y1="1027.60" x2="152.19" y2="1032.40" stroke="#111" stroke-width="1.3"/>
<line x1="164.77" y1="1027.60" x2="164.77" y2="1032.40" stroke="#111" stroke-width="1.3"/>
<line x1="173.69" y1="1027.60" x2="173.69" y2="1032.40" stroke="#111" stroke-width="1.3"/>
<line x1="180.61" y1="1027.60" x2="180.61" y2="1032.40" stroke="#111" stroke-width="1.3"/>
<line x1="186.26" y1="1027.60" x2="186.26" y2="1032.40" stroke="#111" stroke-width="1.3"/>
<line x1="191.04" y1="1027.60" x2="191.04" y2="1032.40" stroke="#111" stroke-width="1.3"/>
<line x1="195.18" y1="1027.60" x2="195.18" y2="1032.40" stroke="#111" stroke-width="1.3"/>
<line x1="198.83" y1="1027.60" x2="198.83" y2="1032.40" stroke="#111" stroke-width="1.3"/>
<line x1="202.10" y1="1027.60" x2="202.10" y2="1035.20" stroke="#111" stroke-width="2.0"/>
<line x1="223.59" y1="1027.60" x2="223.59" y2="1032.40" stroke="#111" stroke-width="1.3"/>
<line x1="236.17" y1="1027.60" x2="236.17" y2="1032.40" stroke="#111" stroke-width="1.3"/>
<line x1="245.09" y1="1027.60" x2="245.09" y2="1032.40" stroke="#111" stroke-width="1.3"/>
<line x1="252.01" y1="1027.60" x2="252.01" y2="1032.40" stroke="#111" stroke-width="1.3"/>
<line x1="257.66" y1="1027.60" x2="257.66" y2="1032.40" stroke="#111" stroke-width="1.3"/>
<line x1="262.44" y1="1027.60" x2="262.44" y2="1032.40" stroke="#111" stroke-width="1.3"/>
<line x1="266.58" y1="1027.60" x2="266.58" y2="1032.40" stroke="#111" stroke-width="1.3"/>
<line x1="270.23" y1="1027.60" x2="270.23" y2="1032.40" stroke="#111" stroke-width="1.3"/>
<line x1="273.50" y1="1027.60" x2="273.50" y2="1035.20" stroke="#111" stroke-width="2.0"/>
<line x1="294.99" y1="1027.60" x2="294.99" y2="1032.40" stroke="#111" stroke-width="1.3"/>
<line x1="307.57" y1="1027.60" x2="307.57" y2="1032.40" stroke="#111" stroke-width="1.3"/>
<line x1="316.49" y1="1027.60" x2="316.49" y2="1032.40" stroke="#111" stroke-width="1.3"/>
<line x1="323.41" y1="1027.60" x2="323.41" y2="1032.40" stroke="#111" stroke-width="1.3"/>
<line x1="329.06" y1="1027.60" x2="329.06" y2="1032.40" stroke="#111" stroke-width="1.3"/>
<line x1="333.84" y1="1027.60" x2="333.84" y2="1032.40" stroke="#111" stroke-width="1.3"/>
<line x1="337.98" y1="1027.60" x2="337.98" y2="1032.40" stroke="#111" stroke-width="1.3"/>
<line x1="341.63" y1="1027.60" x2="341.63" y2="1032.40" stroke="#111" stroke-width="1.3"/>
<line x1="344.90" y1="1027.60" x2="344.90" y2="1035.20" stroke="#111" stroke-width="2.0"/>
<text x="130.40" y="1052.90" font-size="10" font-weight="bold" fill="#111">10</text>
<text x="141.70" y="1045.20" font-size="10" font-weight="bold" fill="#111">4</text>
<text x="201.80" y="1052.90" font-size="10" font-weight="bold" fill="#111">10</text>
<text x="213.10" y="1045.20" font-size="10" font-weight="bold" fill="#111">5</text>
<text x="273.20" y="1052.90" font-size="10" font-weight="bold" fill="#111">10</text>
<text x="284.50" y="1045.20" font-size="10" font-weight="bold" fill="#111">6</text>
<text x="344.60" y="1052.90" font-size="10" font-weight="bold" fill="#111">10</text>
<text x="355.90" y="1045.20" font-size="10" font-weight="bold" fill="#111">7</text>
<line x1="207.81" y1="888.00" x2="352.75" y2="888.00" stroke="#111" stroke-width="2.0"/>
<line x1="207.81" y1="883.50" x2="207.81" y2="892.50" stroke="#111" stroke-width="2.0"/>
<line x1="352.75" y1="883.50" x2="352.75" y2="892.50" stroke="#111" stroke-width="2.0"/>
<text x="279.64" y="860.50" font-size="11" font-weight="bold" text-anchor="middle" fill="#222">HA+</text>
<text x="279.64" y="874.20" font-size="11" font-weight="bold" text-anchor="middle" fill="#222">5.51</text>
<text x="581.20" y="752.00" font-size="22.4" font-weight="bold" text-anchor="middle">hVIC/11-V186G</text>
<path d="M449.0,1027.6 L449.0,1027.6 L450.0,1027.6 L451.0,1027.6 L452.0,1027.6 L453.0,1027.6 L454.0,1027.6 L455.0,1027.6 L456.0,1027.6 L457.0,1027.6 L458.0,1027.6 L459.0,1027.6 L460.0,1027.6 L461.0,1027.6 L462.0,1027.6 L463.0,1027.6 L464.0,1027.6 L465.0,1027.6 L466.0,1027.6 L467.0,1027.6 L468.0,1027.6 L469.0,1027.6 L470.0,1027.6 L471.0,1027.6 L472.0,1026.2 L473.0,1026.4 L474.0,1027.2 L475.0,1026.4 L476.0,1025.7 L477.0,1025.8 L478.0,1026.1 L479.0,1025.6 L480.0,1025.6 L481.0,1025.9 L482.0,1026.6 L483.0,1026.8 L484.0,1026.5 L485.0,1025.6 L486.0,1024.0 L487.0,1023.8 L488.0,1024.6 L489.0,1025.7 L490.0,1025.9 L491.0,1026.2 L492.0,1025.0 L493.0,1024.4 L494.0,1026.4 L495.0,1026.1 L496.0,1023.9 L497.0,1022.5 L498.0,1023.0 L499.0,1022.3 L500.0,1023.2 L501.0,1023.4 L502.0,1020.6 L503.0,1019.2 L504.0,1018.6 L505.0,1016.6 L506.0,1016.1 L507.0,1014.6 L508.0,1011.1 L509.0,1010.5 L510.0,1011.9 L511.0,1008.9 L512.0,1003.2 L513.0,1003.3 L514.0,1001.3 L515.0,996.2 L516.0,988.9 L517.0,987.0 L518.0,983.0 L519.0,978.8 L520.0,977.4 L521.0,980.6 L522.0,977.8 L523.0,969.7 L524.0,963.6 L525.0,964.6 L526.0,963.0 L527.0,968.3 L528.0,970.9 L529.0,974.9 L530.0,969.3 L531.0,961.6 L532.0,945.4 L533.0,945.8 L534.0,951.6 L535.0,956.8 L536.0,963.8 L537.0,967.2 L538.0,963.5 L539.0,959.0 L540.0,965.8 L541.0,969.4 L542.0,970.1 L543.0,965.6 L544.0,965.4 L545.0,959.8 L546.0,962.9 L547.0,972.5 L548.0,984.2 L549.0,987.4 L550.0,986.2 L551.0,984.1 L552.0,988.6 L553.0,996.2 L554.0,995.5 L555.0,996.7 L556.0,1001.1 L557.0,1004.1 L558.0,998.7 L559.0,997.5 L560.0,1001.3 L561.0,1008.8 L562.0,1007.7 L563.0,1007.2 L564.0,1005.9 L565.0,1010.6 L566.0,1014.4 L567.0,1018.2 L568.0,1018.0 L569.0,1019.4 L570.0,1018.9 L571.0,1019.3 L572.0,1022.3 L573.0,1022.8 L574.0,1020.0 L575.0,1020.1 L576.0,1022.8 L577.0,1026.3 L578.0,1026.5 L579.0,1026.7 L580.0,1026.4 L581.0,1025.8 L582.0,1025.3 L583.0,1026.2 L584.0,1027.6 L585.0,1027.6 L586.0,1027.6 L587.0,1027.6 L588.0,1027.6 L589.0,1027.6 L590.0,1027.6 L591.0,1027.6 L592.0,1027.6 L593.0,1027.6 L594.0,1027.6 L595.0,1027.6 L596.0,1027.6 L597.0,1027.6 L598.0,1027.6 L599.0,1027.6 L600.0,1027.6 L601.0,1027.6 L602.0,1027.6 L603.0,1027.6 L604.0,1027.6 L605.0,1027.6 L606.0,1027.6 L607.0,1027.6 L608.0,1027.6 L609.0,1027.6 L610.0,1027.6 L611.0,1027.6 L612.0,1027.6 L613.0,1027.6 L614.0,1027.6 L615.0,1027.6 L616.0,1027.6 L617.0,1027.6 L618.0,1027.6 L619.0,1027.6 L620.0,1027.6 L621.0,1027.6 L622.0,1027.6 L623.0,1027.6 L624.0,1027.6 L625.0,1027.6 L626.0,1027.6 L627.0,1027.6 L628.0,1027.6 L629.0,1027.6 L630.0,1027.6 L631.0,1027.6 L632.0,1027.6 L633.0,1027.6 L634.0,1027.6 L635.0,1027.6 L636.0,1027.6 L637.0,1027.6 L638.0,1027.6 L639.0,1027.6 L640.0,1027.6 L641.0,1027.6 L642.0,1027.6 L643.0,1027.6 L644.0,1027.6 L645.0,1027.6 L646.0,1027.6 L647.0,1027.6 L648.0,1027.6 L649.0,1027.6 L650.0,1027.6 L651.0,1027.6 L652.0,1027.6 L653.0,1027.6 L654.0,1027.6 L655.0,1027.6 L656.0,1027.6 L657.0,1027.6 L658.0,1027.6 L659.0,1027.6 L660.0,1027.6 L661.0,1027.6 L662.0,1027.6 L663.0,1027.6 L664.0,1027.6 L665.0,1027.6 L666.0,1027.6 L667.0,1027.6 L668.0,1027.6 L669.0,1027.6 L670.0,1027.6 L671.0,1027.6 L672.0,1027.6 L673.0,1027.6 L674.0,1027.6 L675.0,1027.6 L676.0,1027.6 L677.0,1027.6 L678.0,1027.6 L679.0,1027.6 L680.0,1027.6 L681.0,1027.6 L682.0,1027.6 L683.0,1027.6 L684.0,1027.6 L685.0,1027.6 L686.0,1027.6 L687.0,1027.6 L688.0,1027.6 L689.0,1027.6 L690.0,1027.6 L691.0,1027.6 L692.0,1027.6 L693.0,1027.6 L694.0,1027.6 L695.0,1027.6 L696.0,1027.6 L697.0,1027.6 L698.0,1027.6 L699.0,1027.6 L700.0,1027.6 L701.0,1027.6 L702.0,1027.6 L703.0,1027.6 L704.0,1027.6 L705.0,1027.6 L706.0,1027.6 L707.0,1027.6 L708.0,1027.6 L709.0,1027.6 L710.0,1027.6 L711.0,1027.6 L712.0,1027.6 L713.0,1027.6 L713.4,1027.6 Z" fill="#A9A6FD" stroke="none" stroke-width="1.5"/>
<path d="M449.0,1027.6 L450.0,1027.6 L451.0,1027.6 L452.0,1027.6 L453.0,1027.6 L454.0,1027.6 L455.0,1027.6 L456.0,1027.6 L457.0,1027.6 L458.0,1027.6 L459.0,1027.6 L460.0,1027.6 L461.0,1027.6 L462.0,1027.6 L463.0,1027.6 L464.0,1027.6 L465.0,1027.6 L466.0,1027.6 L467.0,1027.6 L468.0,1027.6 L469.0,1027.6 L470.0,1027.6 L471.0,1027.6 L472.0,1026.2 L473.0,1026.4 L474.0,1027.2 L475.0,1026.4 L476.0,1025.7 L477.0,1025.8 L478.0,1026.1 L479.0,1025.6 L480.0,1025.6 L481.0,1025.9 L482.0,1026.6 L483.0,1026.8 L484.0,1026.5 L485.0,1025.6 L486.0,1024.0 L487.0,1023.8 L488.0,1024.6 L489.0,1025.7 L490.0,1025.9 L491.0,1026.2 L492.0,1025.0 L493.0,1024.4 L494.0,1026.4 L495.0,1026.1 L496.0,1023.9 L497.0,1022.5 L498.0,1023.0 L499.0,1022.3 L500.0,1023.2 L501.0,1023.4 L502.0,1020.6 L503.0,1019.2 L504.0,1018.6 L505.0,1016.6 L506.0,1016.1 L507.0,1014.6 L508.0,1011.1 L509.0,1010.5 L510.0,1011.9 L511.0,1008.9 L512.0,1003.2 L513.0,1003.3 L514.0,1001.3 L515.0,996.2 L516.0,988.9 L517.0,987.0 L518.0,983.0 L519.0,978.8 L520.0,977.4 L521.0,980.6 L522.0,977.8 L523.0,969.7 L524.0,963.6 L525.0,964.6 L526.0,963.0 L527.0,968.3 L528.0,970.9 L529.0,974.9 L530.0,969.3 L531.0,961.6 L532.0,945.4 L533.0,945.8 L534.0,951.6 L535.0,956.8 L536.0,963.8 L537.0,967.2 L538.0,963.5 L539.0,959.0 L540.0,965.8 L541.0,969.4 L542.0,970.1 L543.0,965.6 L544.0,965.4 L545.0,959.8 L546.0,962.9 L547.0,972.5 L548.0,984.2 L549.0,987.4 L550.0,986.2 L551.0,984.1 L552.0,988.6 L553.0,996.2 L554.0,995.5 L555.0,996.7 L556.0,1001.1 L557.0,1004.1 L558.0,998.7 L559.0,997.5 L560.0,1001.3 L561.0,1008.8 L562.0,1007.7 L563.0,1007.2 L564.0,1005.9 L565.0,1010.6 L566.0,1014.4 L567.0,1018.2 L568.0,1018.0 L569.0,1019.4 L570.0,1018.9 L571.0,1019.3 L572.0,1022.3 L573.0,1022.8 L574.0,1020.0 L575.0,1020.1 L576.0,1022.8 L577.0,1026.3 L578.0,1026.5 L579.0,1026.7 L580.0,1026.4 L581.0,1025.8 L582.0,1025.3 L583.0,1026.2 L584.0,1027.6 L585.0,1027.6 L586.0,1027.6 L587.0,1027.6 L588.0,1027.6 L589.0,1027.6 L590.0,1027.6 L591.0,1027.6 L592.0,1027.6 L593.0,1027.6 L594.0,1027.6 L595.0,1027.6 L596.0,1027.6 L597.0,1027.6 L598.0,1027.6 L599.0,1027.6 L600.0,1027.6 L601.0,1027.6 L602.0,1027.6 L603.0,1027.6 L604.0,1027.6 L605.0,1027.6 L606.0,1027.6 L607.0,1027.6 L608.0,1027.6 L609.0,1027.6 L610.0,1027.6 L611.0,1027.6 L612.0,1027.6 L613.0,1027.6 L614.0,1027.6 L615.0,1027.6 L616.0,1027.6 L617.0,1027.6 L618.0,1027.6 L619.0,1027.6 L620.0,1027.6 L621.0,1027.6 L622.0,1027.6 L623.0,1027.6 L624.0,1027.6 L625.0,1027.6 L626.0,1027.6 L627.0,1027.6 L628.0,1027.6 L629.0,1027.6 L630.0,1027.6 L631.0,1027.6 L632.0,1027.6 L633.0,1027.6 L634.0,1027.6 L635.0,1027.6 L636.0,1027.6 L637.0,1027.6 L638.0,1027.6 L639.0,1027.6 L640.0,1027.6 L641.0,1027.6 L642.0,1027.6 L643.0,1027.6 L644.0,1027.6 L645.0,1027.6 L646.0,1027.6 L647.0,1027.6 L648.0,1027.6 L649.0,1027.6 L650.0,1027.6 L651.0,1027.6 L652.0,1027.6 L653.0,1027.6 L654.0,1027.6 L655.0,1027.6 L656.0,1027.6 L657.0,1027.6 L658.0,1027.6 L659.0,1027.6 L660.0,1027.6 L661.0,1027.6 L662.0,1027.6 L663.0,1027.6 L664.0,1027.6 L665.0,1027.6 L666.0,1027.6 L667.0,1027.6 L668.0,1027.6 L669.0,1027.6 L670.0,1027.6 L671.0,1027.6 L672.0,1027.6 L673.0,1027.6 L674.0,1027.6 L675.0,1027.6 L676.0,1027.6 L677.0,1027.6 L678.0,1027.6 L679.0,1027.6 L680.0,1027.6 L681.0,1027.6 L682.0,1027.6 L683.0,1027.6 L684.0,1027.6 L685.0,1027.6 L686.0,1027.6 L687.0,1027.6 L688.0,1027.6 L689.0,1027.6 L690.0,1027.6 L691.0,1027.6 L692.0,1027.6 L693.0,1027.6 L694.0,1027.6 L695.0,1027.6 L696.0,1027.6 L697.0,1027.6 L698.0,1027.6 L699.0,1027.6 L700.0,1027.6 L701.0,1027.6 L702.0,1027.6 L703.0,1027.6 L704.0,1027.6 L705.0,1027.6 L706.0,1027.6 L707.0,1027.6 L708.0,1027.6 L709.0,1027.6 L710.0,1027.6 L711.0,1027.6 L712.0,1027.6 L713.0,1027.6" fill="none" stroke="#3C1EFA" stroke-width="1.8" stroke-linejoin="round"/>
<rect x="449.00" y="764.20" width="264.40" height="263.40" fill="none" stroke="#111" stroke-width="1.5"/>
<line x1="448.25" y1="1027.60" x2="714.15" y2="1027.60" stroke="#111" stroke-width="2.0"/>
<line x1="441.00" y1="1027.60" x2="449.00" y2="1027.60" stroke="#111" stroke-width="2.0"/>
<line x1="445.00" y1="1005.65" x2="449.00" y2="1005.65" stroke="#111" stroke-width="1.3"/>
<line x1="445.00" y1="983.70" x2="449.00" y2="983.70" stroke="#111" stroke-width="1.3"/>
<line x1="445.00" y1="961.75" x2="449.00" y2="961.75" stroke="#111" stroke-width="1.3"/>
<line x1="441.00" y1="939.80" x2="449.00" y2="939.80" stroke="#111" stroke-width="2.0"/>
<line x1="445.00" y1="917.85" x2="449.00" y2="917.85" stroke="#111" stroke-width="1.3"/>
<line x1="445.00" y1="895.90" x2="449.00" y2="895.90" stroke="#111" stroke-width="1.3"/>
<line x1="445.00" y1="873.95" x2="449.00" y2="873.95" stroke="#111" stroke-width="1.3"/>
<line x1="441.00" y1="852.00" x2="449.00" y2="852.00" stroke="#111" stroke-width="2.0"/>
<line x1="445.00" y1="830.05" x2="449.00" y2="830.05" stroke="#111" stroke-width="1.3"/>
<line x1="445.00" y1="808.10" x2="449.00" y2="808.10" stroke="#111" stroke-width="1.3"/>
<line x1="445.00" y1="786.15" x2="449.00" y2="786.15" stroke="#111" stroke-width="1.3"/>
<line x1="441.00" y1="764.20" x2="449.00" y2="764.20" stroke="#111" stroke-width="2.0"/>
<text x="437.00" y="1028.40" font-size="10.8" font-weight="bold" text-anchor="end" fill="#111">0</text>
<text x="437.00" y="945.90" font-size="10.8" font-weight="bold" text-anchor="end" fill="#111">200</text>
<text x="437.00" y="858.10" font-size="10.8" font-weight="bold" text-anchor="end" fill="#111">400</text>
<text x="437.00" y="773.80" font-size="10.8" font-weight="bold" text-anchor="end" fill="#111">600</text>
<line x1="456.29" y1="1027.60" x2="456.29" y2="1032.40" stroke="#111" stroke-width="1.3"/>
<line x1="463.21" y1="1027.60" x2="463.21" y2="1032.40" stroke="#111" stroke-width="1.3"/>
<line x1="468.86" y1="1027.60" x2="468.86" y2="1032.40" stroke="#111" stroke-width="1.3"/>
<line x1="473.64" y1="1027.60" x2="473.64" y2="1032.40" stroke="#111" stroke-width="1.3"/>
<line x1="477.78" y1="1027.60" x2="477.78" y2="1032.40" stroke="#111" stroke-width="1.3"/>
<line x1="481.43" y1="1027.60" x2="481.43" y2="1032.40" stroke="#111" stroke-width="1.3"/>
<line x1="484.70" y1="1027.60" x2="484.70" y2="1035.20" stroke="#111" stroke-width="2.0"/>
<line x1="506.19" y1="1027.60" x2="506.19" y2="1032.40" stroke="#111" stroke-width="1.3"/>
<line x1="518.77" y1="1027.60" x2="518.77" y2="1032.40" stroke="#111" stroke-width="1.3"/>
<line x1="527.69" y1="1027.60" x2="527.69" y2="1032.40" stroke="#111" stroke-width="1.3"/>
<line x1="534.61" y1="1027.60" x2="534.61" y2="1032.40" stroke="#111" stroke-width="1.3"/>
<line x1="540.26" y1="1027.60" x2="540.26" y2="1032.40" stroke="#111" stroke-width="1.3"/>
<line x1="545.04" y1="1027.60" x2="545.04" y2="1032.40" stroke="#111" stroke-width="1.3"/>
<line x1="549.18" y1="1027.60" x2="549.18" y2="1032.40" stroke="#111" stroke-width="1.3"/>
<line x1="552.83" y1="1027.60" x2="552.83" y2="1032.40" stroke="#111" stroke-width="1.3"/>
<line x1="556.10" y1="1027.60" x2="556.10" y2="1035.20" stroke="#111" stroke-width="2.0"/>
<line x1="577.59" y1="1027.60" x2="577.59" y2="1032.40" stroke="#111" stroke-width="1.3"/>
<line x1="590.17" y1="1027.60" x2="590.17" y2="1032.40" stroke="#111" stroke-width="1.3"/>
<line x1="599.09" y1="1027.60" x2="599.09" y2="1032.40" stroke="#111" stroke-width="1.3"/>
<line x1="606.01" y1="1027.60" x2="606.01" y2="1032.40" stroke="#111" stroke-width="1.3"/>
<line x1="611.66" y1="1027.60" x2="611.66" y2="1032.40" stroke="#111" stroke-width="1.3"/>
<line x1="616.44" y1="1027.60" x2="616.44" y2="1032.40" stroke="#111" stroke-width="1.3"/>
<line x1="620.58" y1="1027.60" x2="620.58" y2="1032.40" stroke="#111" stroke-width="1.3"/>
<line x1="624.23" y1="1027.60" x2="624.23" y2="1032.40" stroke="#111" stroke-width="1.3"/>
<line x1="627.50" y1="1027.60" x2="627.50" y2="1035.20" stroke="#111" stroke-width="2.0"/>
<line x1="648.99" y1="1027.60" x2="648.99" y2="1032.40" stroke="#111" stroke-width="1.3"/>
<line x1="661.57" y1="1027.60" x2="661.57" y2="1032.40" stroke="#111" stroke-width="1.3"/>
<line x1="670.49" y1="1027.60" x2="670.49" y2="1032.40" stroke="#111" stroke-width="1.3"/>
<line x1="677.41" y1="1027.60" x2="677.41" y2="1032.40" stroke="#111" stroke-width="1.3"/>
<line x1="683.06" y1="1027.60" x2="683.06" y2="1032.40" stroke="#111" stroke-width="1.3"/>
<line x1="687.84" y1="1027.60" x2="687.84" y2="1032.40" stroke="#111" stroke-width="1.3"/>
<line x1="691.98" y1="1027.60" x2="691.98" y2="1032.40" stroke="#111" stroke-width="1.3"/>
<line x1="695.63" y1="1027.60" x2="695.63" y2="1032.40" stroke="#111" stroke-width="1.3"/>
<line x1="698.90" y1="1027.60" x2="698.90" y2="1035.20" stroke="#111" stroke-width="2.0"/>
<text x="484.40" y="1052.90" font-size="10" font-weight="bold" fill="#111">10</text>
<text x="495.70" y="1045.20" font-size="10" font-weight="bold" fill="#111">4</text>
<text x="555.80" y="1052.90" font-size="10" font-weight="bold" fill="#111">10</text>
<text x="567.10" y="1045.20" font-size="10" font-weight="bold" fill="#111">5</text>
<text x="627.20" y="1052.90" font-size="10" font-weight="bold" fill="#111">10</text>
<text x="638.50" y="1045.20" font-size="10" font-weight="bold" fill="#111">6</text>
<text x="698.60" y="1052.90" font-size="10" font-weight="bold" fill="#111">10</text>
<text x="709.90" y="1045.20" font-size="10" font-weight="bold" fill="#111">7</text>
<line x1="561.81" y1="888.00" x2="706.75" y2="888.00" stroke="#111" stroke-width="2.0"/>
<line x1="561.81" y1="883.50" x2="561.81" y2="892.50" stroke="#111" stroke-width="2.0"/>
<line x1="706.75" y1="883.50" x2="706.75" y2="892.50" stroke="#111" stroke-width="2.0"/>
<text x="633.64" y="860.50" font-size="11" font-weight="bold" text-anchor="middle" fill="#222">HA+</text>
<text x="633.64" y="874.20" font-size="11" font-weight="bold" text-anchor="middle" fill="#222">8.81</text>
<text x="937.50" y="752.00" font-size="22.4" font-weight="bold" text-anchor="middle">hVIC/11-F193Y</text>
<path d="M802.0,1027.0 L802.0,1027.0 L803.0,1027.0 L804.0,1027.0 L805.0,1027.0 L806.0,1027.0 L807.0,1027.0 L808.0,1027.0 L809.0,1027.0 L810.0,1027.0 L811.0,1027.0 L812.0,1027.0 L813.0,1027.0 L814.0,1027.0 L815.0,1027.0 L816.0,1027.0 L817.0,1027.0 L818.0,1027.0 L819.0,1027.0 L820.0,1027.0 L821.0,1027.0 L822.0,1027.0 L823.0,1027.0 L824.0,1026.6 L825.0,1026.4 L826.0,1026.2 L827.0,1025.9 L828.0,1025.9 L829.0,1026.4 L830.0,1027.0 L831.0,1026.9 L832.0,1027.0 L833.0,1026.1 L834.0,1025.4 L835.0,1024.9 L836.0,1024.6 L837.0,1025.2 L838.0,1025.1 L839.0,1024.5 L840.0,1024.9 L841.0,1026.7 L842.0,1025.4 L843.0,1022.7 L844.0,1022.5 L845.0,1023.5 L846.0,1023.6 L847.0,1021.9 L848.0,1021.4 L849.0,1020.9 L850.0,1021.8 L851.0,1022.8 L852.0,1022.6 L853.0,1019.7 L854.0,1018.3 L855.0,1017.9 L856.0,1017.3 L857.0,1015.5 L858.0,1013.2 L859.0,1011.1 L860.0,1009.9 L861.0,1010.4 L862.0,1011.3 L863.0,1015.1 L864.0,1013.7 L865.0,1008.4 L866.0,1001.3 L867.0,1003.1 L868.0,1004.5 L869.0,1003.3 L870.0,1001.1 L871.0,997.3 L872.0,987.7 L873.0,983.7 L874.0,985.8 L875.0,980.2 L876.0,976.4 L877.0,977.1 L878.0,972.9 L879.0,962.2 L880.0,967.1 L881.0,978.1 L882.0,981.8 L883.0,972.4 L884.0,971.5 L885.0,977.9 L886.0,984.0 L887.0,978.4 L888.0,975.5 L889.0,974.1 L890.0,974.9 L891.0,971.4 L892.0,972.6 L893.0,975.9 L894.0,977.7 L895.0,978.2 L896.0,984.8 L897.0,992.7 L898.0,992.5 L899.0,989.2 L900.0,991.4 L901.0,995.2 L902.0,989.3 L903.0,987.2 L904.0,992.1 L905.0,999.1 L906.0,1001.1 L907.0,1002.0 L908.0,1001.5 L909.0,1002.1 L910.0,1008.4 L911.0,1010.6 L912.0,1009.3 L913.0,1009.2 L914.0,1017.0 L915.0,1021.1 L916.0,1021.8 L917.0,1020.3 L918.0,1021.3 L919.0,1021.9 L920.0,1021.6 L921.0,1020.9 L922.0,1020.3 L923.0,1022.4 L924.0,1024.1 L925.0,1024.3 L926.0,1023.4 L927.0,1024.5 L928.0,1026.5 L929.0,1027.0 L930.0,1026.9 L931.0,1026.2 L932.0,1025.9 L933.0,1025.9 L934.0,1025.9 L935.0,1027.0 L936.0,1027.0 L937.0,1027.0 L938.0,1027.0 L939.0,1027.0 L940.0,1027.0 L941.0,1027.0 L942.0,1027.0 L943.0,1027.0 L944.0,1027.0 L945.0,1027.0 L946.0,1027.0 L947.0,1027.0 L948.0,1027.0 L949.0,1027.0 L950.0,1027.0 L951.0,1027.0 L952.0,1027.0 L953.0,1027.0 L954.0,1027.0 L955.0,1027.0 L956.0,1027.0 L957.0,1027.0 L958.0,1027.0 L959.0,1027.0 L960.0,1027.0 L961.0,1027.0 L962.0,1027.0 L963.0,1027.0 L964.0,1027.0 L965.0,1027.0 L966.0,1027.0 L967.0,1027.0 L968.0,1027.0 L969.0,1027.0 L970.0,1027.0 L971.0,1027.0 L972.0,1027.0 L973.0,1027.0 L974.0,1027.0 L975.0,1027.0 L976.0,1027.0 L977.0,1027.0 L978.0,1027.0 L979.0,1027.0 L980.0,1027.0 L981.0,1027.0 L982.0,1027.0 L983.0,1027.0 L984.0,1027.0 L985.0,1027.0 L986.0,1027.0 L987.0,1027.0 L988.0,1027.0 L989.0,1027.0 L990.0,1027.0 L991.0,1027.0 L992.0,1027.0 L993.0,1027.0 L994.0,1027.0 L995.0,1027.0 L996.0,1027.0 L997.0,1027.0 L998.0,1027.0 L999.0,1027.0 L1000.0,1027.0 L1001.0,1027.0 L1002.0,1027.0 L1003.0,1027.0 L1004.0,1027.0 L1005.0,1027.0 L1006.0,1027.0 L1007.0,1027.0 L1008.0,1027.0 L1009.0,1027.0 L1010.0,1027.0 L1011.0,1027.0 L1012.0,1027.0 L1013.0,1027.0 L1014.0,1027.0 L1015.0,1027.0 L1016.0,1027.0 L1017.0,1027.0 L1018.0,1027.0 L1019.0,1027.0 L1020.0,1027.0 L1021.0,1027.0 L1022.0,1027.0 L1023.0,1027.0 L1024.0,1027.0 L1025.0,1027.0 L1026.0,1027.0 L1027.0,1027.0 L1028.0,1027.0 L1029.0,1027.0 L1030.0,1027.0 L1031.0,1027.0 L1032.0,1027.0 L1033.0,1027.0 L1034.0,1027.0 L1035.0,1027.0 L1036.0,1027.0 L1037.0,1027.0 L1038.0,1027.0 L1039.0,1027.0 L1040.0,1027.0 L1041.0,1027.0 L1042.0,1027.0 L1043.0,1027.0 L1044.0,1027.0 L1045.0,1027.0 L1046.0,1027.0 L1047.0,1027.0 L1048.0,1027.0 L1049.0,1027.0 L1050.0,1027.0 L1051.0,1027.0 L1052.0,1027.0 L1053.0,1027.0 L1054.0,1027.0 L1055.0,1027.0 L1056.0,1027.0 L1057.0,1027.0 L1058.0,1027.0 L1059.0,1027.0 L1060.0,1027.0 L1061.0,1027.0 L1062.0,1027.0 L1063.0,1027.0 L1064.0,1027.0 L1065.0,1027.0 L1066.0,1027.0 L1066.4,1027.0 Z" fill="#A9A6FD" stroke="none" stroke-width="1.5"/>
<path d="M802.0,1027.0 L803.0,1027.0 L804.0,1027.0 L805.0,1027.0 L806.0,1027.0 L807.0,1027.0 L808.0,1027.0 L809.0,1027.0 L810.0,1027.0 L811.0,1027.0 L812.0,1027.0 L813.0,1027.0 L814.0,1027.0 L815.0,1027.0 L816.0,1027.0 L817.0,1027.0 L818.0,1027.0 L819.0,1027.0 L820.0,1027.0 L821.0,1027.0 L822.0,1027.0 L823.0,1027.0 L824.0,1026.6 L825.0,1026.4 L826.0,1026.2 L827.0,1025.9 L828.0,1025.9 L829.0,1026.4 L830.0,1027.0 L831.0,1026.9 L832.0,1027.0 L833.0,1026.1 L834.0,1025.4 L835.0,1024.9 L836.0,1024.6 L837.0,1025.2 L838.0,1025.1 L839.0,1024.5 L840.0,1024.9 L841.0,1026.7 L842.0,1025.4 L843.0,1022.7 L844.0,1022.5 L845.0,1023.5 L846.0,1023.6 L847.0,1021.9 L848.0,1021.4 L849.0,1020.9 L850.0,1021.8 L851.0,1022.8 L852.0,1022.6 L853.0,1019.7 L854.0,1018.3 L855.0,1017.9 L856.0,1017.3 L857.0,1015.5 L858.0,1013.2 L859.0,1011.1 L860.0,1009.9 L861.0,1010.4 L862.0,1011.3 L863.0,1015.1 L864.0,1013.7 L865.0,1008.4 L866.0,1001.3 L867.0,1003.1 L868.0,1004.5 L869.0,1003.3 L870.0,1001.1 L871.0,997.3 L872.0,987.7 L873.0,983.7 L874.0,985.8 L875.0,980.2 L876.0,976.4 L877.0,977.1 L878.0,972.9 L879.0,962.2 L880.0,967.1 L881.0,978.1 L882.0,981.8 L883.0,972.4 L884.0,971.5 L885.0,977.9 L886.0,984.0 L887.0,978.4 L888.0,975.5 L889.0,974.1 L890.0,974.9 L891.0,971.4 L892.0,972.6 L893.0,975.9 L894.0,977.7 L895.0,978.2 L896.0,984.8 L897.0,992.7 L898.0,992.5 L899.0,989.2 L900.0,991.4 L901.0,995.2 L902.0,989.3 L903.0,987.2 L904.0,992.1 L905.0,999.1 L906.0,1001.1 L907.0,1002.0 L908.0,1001.5 L909.0,1002.1 L910.0,1008.4 L911.0,1010.6 L912.0,1009.3 L913.0,1009.2 L914.0,1017.0 L915.0,1021.1 L916.0,1021.8 L917.0,1020.3 L918.0,1021.3 L919.0,1021.9 L920.0,1021.6 L921.0,1020.9 L922.0,1020.3 L923.0,1022.4 L924.0,1024.1 L925.0,1024.3 L926.0,1023.4 L927.0,1024.5 L928.0,1026.5 L929.0,1027.0 L930.0,1026.9 L931.0,1026.2 L932.0,1025.9 L933.0,1025.9 L934.0,1025.9 L935.0,1027.0 L936.0,1027.0 L937.0,1027.0 L938.0,1027.0 L939.0,1027.0 L940.0,1027.0 L941.0,1027.0 L942.0,1027.0 L943.0,1027.0 L944.0,1027.0 L945.0,1027.0 L946.0,1027.0 L947.0,1027.0 L948.0,1027.0 L949.0,1027.0 L950.0,1027.0 L951.0,1027.0 L952.0,1027.0 L953.0,1027.0 L954.0,1027.0 L955.0,1027.0 L956.0,1027.0 L957.0,1027.0 L958.0,1027.0 L959.0,1027.0 L960.0,1027.0 L961.0,1027.0 L962.0,1027.0 L963.0,1027.0 L964.0,1027.0 L965.0,1027.0 L966.0,1027.0 L967.0,1027.0 L968.0,1027.0 L969.0,1027.0 L970.0,1027.0 L971.0,1027.0 L972.0,1027.0 L973.0,1027.0 L974.0,1027.0 L975.0,1027.0 L976.0,1027.0 L977.0,1027.0 L978.0,1027.0 L979.0,1027.0 L980.0,1027.0 L981.0,1027.0 L982.0,1027.0 L983.0,1027.0 L984.0,1027.0 L985.0,1027.0 L986.0,1027.0 L987.0,1027.0 L988.0,1027.0 L989.0,1027.0 L990.0,1027.0 L991.0,1027.0 L992.0,1027.0 L993.0,1027.0 L994.0,1027.0 L995.0,1027.0 L996.0,1027.0 L997.0,1027.0 L998.0,1027.0 L999.0,1027.0 L1000.0,1027.0 L1001.0,1027.0 L1002.0,1027.0 L1003.0,1027.0 L1004.0,1027.0 L1005.0,1027.0 L1006.0,1027.0 L1007.0,1027.0 L1008.0,1027.0 L1009.0,1027.0 L1010.0,1027.0 L1011.0,1027.0 L1012.0,1027.0 L1013.0,1027.0 L1014.0,1027.0 L1015.0,1027.0 L1016.0,1027.0 L1017.0,1027.0 L1018.0,1027.0 L1019.0,1027.0 L1020.0,1027.0 L1021.0,1027.0 L1022.0,1027.0 L1023.0,1027.0 L1024.0,1027.0 L1025.0,1027.0 L1026.0,1027.0 L1027.0,1027.0 L1028.0,1027.0 L1029.0,1027.0 L1030.0,1027.0 L1031.0,1027.0 L1032.0,1027.0 L1033.0,1027.0 L1034.0,1027.0 L1035.0,1027.0 L1036.0,1027.0 L1037.0,1027.0 L1038.0,1027.0 L1039.0,1027.0 L1040.0,1027.0 L1041.0,1027.0 L1042.0,1027.0 L1043.0,1027.0 L1044.0,1027.0 L1045.0,1027.0 L1046.0,1027.0 L1047.0,1027.0 L1048.0,1027.0 L1049.0,1027.0 L1050.0,1027.0 L1051.0,1027.0 L1052.0,1027.0 L1053.0,1027.0 L1054.0,1027.0 L1055.0,1027.0 L1056.0,1027.0 L1057.0,1027.0 L1058.0,1027.0 L1059.0,1027.0 L1060.0,1027.0 L1061.0,1027.0 L1062.0,1027.0 L1063.0,1027.0 L1064.0,1027.0 L1065.0,1027.0 L1066.0,1027.0" fill="none" stroke="#3C1EFA" stroke-width="1.8" stroke-linejoin="round"/>
<rect x="802.00" y="763.60" width="264.40" height="263.40" fill="none" stroke="#111" stroke-width="1.5"/>
<line x1="801.25" y1="1027.00" x2="1067.15" y2="1027.00" stroke="#111" stroke-width="2.0"/>
<line x1="794.00" y1="1027.00" x2="802.00" y2="1027.00" stroke="#111" stroke-width="2.0"/>
<line x1="798.00" y1="1005.05" x2="802.00" y2="1005.05" stroke="#111" stroke-width="1.3"/>
<line x1="798.00" y1="983.10" x2="802.00" y2="983.10" stroke="#111" stroke-width="1.3"/>
<line x1="798.00" y1="961.15" x2="802.00" y2="961.15" stroke="#111" stroke-width="1.3"/>
<line x1="794.00" y1="939.20" x2="802.00" y2="939.20" stroke="#111" stroke-width="2.0"/>
<line x1="798.00" y1="917.25" x2="802.00" y2="917.25" stroke="#111" stroke-width="1.3"/>
<line x1="798.00" y1="895.30" x2="802.00" y2="895.30" stroke="#111" stroke-width="1.3"/>
<line x1="798.00" y1="873.35" x2="802.00" y2="873.35" stroke="#111" stroke-width="1.3"/>
<line x1="794.00" y1="851.40" x2="802.00" y2="851.40" stroke="#111" stroke-width="2.0"/>
<line x1="798.00" y1="829.45" x2="802.00" y2="829.45" stroke="#111" stroke-width="1.3"/>
<line x1="798.00" y1="807.50" x2="802.00" y2="807.50" stroke="#111" stroke-width="1.3"/>
<line x1="798.00" y1="785.55" x2="802.00" y2="785.55" stroke="#111" stroke-width="1.3"/>
<line x1="794.00" y1="763.60" x2="802.00" y2="763.60" stroke="#111" stroke-width="2.0"/>
<text x="790.00" y="1027.80" font-size="10.8" font-weight="bold" text-anchor="end" fill="#111">0</text>
<text x="790.00" y="945.30" font-size="10.8" font-weight="bold" text-anchor="end" fill="#111">200</text>
<text x="790.00" y="857.50" font-size="10.8" font-weight="bold" text-anchor="end" fill="#111">400</text>
<text x="790.00" y="773.20" font-size="10.8" font-weight="bold" text-anchor="end" fill="#111">600</text>
<line x1="809.29" y1="1027.00" x2="809.29" y2="1031.80" stroke="#111" stroke-width="1.3"/>
<line x1="816.21" y1="1027.00" x2="816.21" y2="1031.80" stroke="#111" stroke-width="1.3"/>
<line x1="821.86" y1="1027.00" x2="821.86" y2="1031.80" stroke="#111" stroke-width="1.3"/>
<line x1="826.64" y1="1027.00" x2="826.64" y2="1031.80" stroke="#111" stroke-width="1.3"/>
<line x1="830.78" y1="1027.00" x2="830.78" y2="1031.80" stroke="#111" stroke-width="1.3"/>
<line x1="834.43" y1="1027.00" x2="834.43" y2="1031.80" stroke="#111" stroke-width="1.3"/>
<line x1="837.70" y1="1027.00" x2="837.70" y2="1034.60" stroke="#111" stroke-width="2.0"/>
<line x1="859.19" y1="1027.00" x2="859.19" y2="1031.80" stroke="#111" stroke-width="1.3"/>
<line x1="871.77" y1="1027.00" x2="871.77" y2="1031.80" stroke="#111" stroke-width="1.3"/>
<line x1="880.69" y1="1027.00" x2="880.69" y2="1031.80" stroke="#111" stroke-width="1.3"/>
<line x1="887.61" y1="1027.00" x2="887.61" y2="1031.80" stroke="#111" stroke-width="1.3"/>
<line x1="893.26" y1="1027.00" x2="893.26" y2="1031.80" stroke="#111" stroke-width="1.3"/>
<line x1="898.04" y1="1027.00" x2="898.04" y2="1031.80" stroke="#111" stroke-width="1.3"/>
<line x1="902.18" y1="1027.00" x2="902.18" y2="1031.80" stroke="#111" stroke-width="1.3"/>
<line x1="905.83" y1="1027.00" x2="905.83" y2="1031.80" stroke="#111" stroke-width="1.3"/>
<line x1="909.10" y1="1027.00" x2="909.10" y2="1034.60" stroke="#111" stroke-width="2.0"/>
<line x1="930.59" y1="1027.00" x2="930.59" y2="1031.80" stroke="#111" stroke-width="1.3"/>
<line x1="943.17" y1="1027.00" x2="943.17" y2="1031.80" stroke="#111" stroke-width="1.3"/>
<line x1="952.09" y1="1027.00" x2="952.09" y2="1031.80" stroke="#111" stroke-width="1.3"/>
<line x1="959.01" y1="1027.00" x2="959.01" y2="1031.80" stroke="#111" stroke-width="1.3"/>
<line x1="964.66" y1="1027.00" x2="964.66" y2="1031.80" stroke="#111" stroke-width="1.3"/>
<line x1="969.44" y1="1027.00" x2="969.44" y2="1031.80" stroke="#111" stroke-width="1.3"/>
<line x1="973.58" y1="1027.00" x2="973.58" y2="1031.80" stroke="#111" stroke-width="1.3"/>
<line x1="977.23" y1="1027.00" x2="977.23" y2="1031.80" stroke="#111" stroke-width="1.3"/>
<line x1="980.50" y1="1027.00" x2="980.50" y2="1034.60" stroke="#111" stroke-width="2.0"/>
<line x1="1001.99" y1="1027.00" x2="1001.99" y2="1031.80" stroke="#111" stroke-width="1.3"/>
<line x1="1014.57" y1="1027.00" x2="1014.57" y2="1031.80" stroke="#111" stroke-width="1.3"/>
<line x1="1023.49" y1="1027.00" x2="1023.49" y2="1031.80" stroke="#111" stroke-width="1.3"/>
<line x1="1030.41" y1="1027.00" x2="1030.41" y2="1031.80" stroke="#111" stroke-width="1.3"/>
<line x1="1036.06" y1="1027.00" x2="1036.06" y2="1031.80" stroke="#111" stroke-width="1.3"/>
<line x1="1040.84" y1="1027.00" x2="1040.84" y2="1031.80" stroke="#111" stroke-width="1.3"/>
<line x1="1044.98" y1="1027.00" x2="1044.98" y2="1031.80" stroke="#111" stroke-width="1.3"/>
<line x1="1048.63" y1="1027.00" x2="1048.63" y2="1031.80" stroke="#111" stroke-width="1.3"/>
<line x1="1051.90" y1="1027.00" x2="1051.90" y2="1034.60" stroke="#111" stroke-width="2.0"/>
<text x="837.40" y="1052.30" font-size="10" font-weight="bold" fill="#111">10</text>
<text x="848.70" y="1044.60" font-size="10" font-weight="bold" fill="#111">4</text>
<text x="908.80" y="1052.30" font-size="10" font-weight="bold" fill="#111">10</text>
<text x="920.10" y="1044.60" font-size="10" font-weight="bold" fill="#111">5</text>
<text x="980.20" y="1052.30" font-size="10" font-weight="bold" fill="#111">10</text>
<text x="991.50" y="1044.60" font-size="10" font-weight="bold" fill="#111">6</text>
<text x="1051.60" y="1052.30" font-size="10" font-weight="bold" fill="#111">10</text>
<text x="1062.90" y="1044.60" font-size="10" font-weight="bold" fill="#111">7</text>
<line x1="914.81" y1="886.52" x2="1059.75" y2="886.52" stroke="#111" stroke-width="2.0"/>
<line x1="914.81" y1="882.02" x2="914.81" y2="891.02" stroke="#111" stroke-width="2.0"/>
<line x1="1059.75" y1="882.02" x2="1059.75" y2="891.02" stroke="#111" stroke-width="2.0"/>
<text x="986.64" y="859.02" font-size="11" font-weight="bold" text-anchor="middle" fill="#222">HA+</text>
<text x="986.64" y="872.72" font-size="11" font-weight="bold" text-anchor="middle" fill="#222">6.41</text>
<line x1="40.50" y1="1081.00" x2="40.50" y2="960.00" stroke="#000" stroke-width="4"/>
<path d="M33.5,962.0 L40.5,948.0 L47.5,962.0 Z" fill="#000" stroke="none" stroke-width="1.5"/>
<line x1="38.50" y1="1079.00" x2="160.00" y2="1079.00" stroke="#000" stroke-width="4"/>
<path d="M158.0,1072.0 L172.0,1079.0 L158.0,1086.0 Z" fill="#000" stroke="none" stroke-width="1.5"/>
<text x="28.00" y="1011.00" font-size="22" text-anchor="middle" transform="rotate(-90 28.00 1011.00)">Count</text>
<text x="32.00" y="1111.00" font-size="22.5">HA (Alexa488)</text>
<text x="8.50" y="1259.50" font-size="40" font-weight="bold" fill="#222">c</text>
<text x="577.50" y="1265.50" font-size="29.4" font-weight="bold" text-anchor="middle" fill="#222">SLA-DR</text>
<text x="223.40" y="1329.50" font-size="22.4" font-weight="bold" text-anchor="middle">hVIC/11-A138S</text>
<path d="M94.8,1603.4 L94.8,1603.4 L95.8,1603.4 L96.8,1603.4 L97.8,1603.4 L98.8,1603.4 L99.8,1603.4 L100.8,1603.4 L101.8,1603.4 L102.8,1603.4 L103.8,1603.4 L104.8,1603.4 L105.8,1603.4 L106.8,1603.4 L107.8,1603.4 L108.8,1603.4 L109.8,1603.4 L110.8,1603.4 L111.8,1603.4 L112.8,1603.4 L113.8,1603.0 L114.8,1603.0 L115.8,1603.0 L116.8,1602.9 L117.8,1603.3 L118.8,1602.9 L119.8,1602.7 L120.8,1602.5 L121.8,1601.9 L122.8,1601.1 L123.8,1600.7 L124.8,1601.7 L125.8,1602.7 L126.8,1603.3 L127.8,1602.5 L128.8,1602.2 L129.8,1601.9 L130.8,1602.0 L131.8,1602.1 L132.8,1602.3 L133.8,1602.7 L134.8,1601.3 L135.8,1600.7 L136.8,1600.8 L137.8,1602.8 L138.8,1603.4 L139.8,1603.4 L140.8,1602.2 L141.8,1599.9 L142.8,1598.8 L143.8,1599.8 L144.8,1599.0 L145.8,1598.7 L146.8,1599.8 L147.8,1600.5 L148.8,1599.6 L149.8,1598.8 L150.8,1597.1 L151.8,1595.1 L152.8,1594.6 L153.8,1594.3 L154.8,1593.9 L155.8,1597.5 L156.8,1599.4 L157.8,1595.0 L158.8,1588.7 L159.8,1585.3 L160.8,1579.1 L161.8,1565.8 L162.8,1558.6 L163.8,1555.2 L164.8,1547.3 L165.8,1528.8 L166.8,1517.9 L167.8,1501.0 L168.8,1484.1 L169.8,1462.5 L170.8,1449.9 L171.8,1429.7 L172.8,1408.0 L173.8,1383.3 L174.8,1371.9 L175.8,1375.0 L176.8,1375.5 L177.8,1375.8 L178.8,1356.0 L179.8,1349.7 L180.8,1369.5 L181.8,1381.6 L182.8,1365.0 L183.8,1369.4 L184.8,1396.4 L185.8,1424.0 L186.8,1449.6 L187.8,1471.0 L188.8,1483.7 L189.8,1502.4 L190.8,1517.3 L191.8,1528.5 L192.8,1541.7 L193.8,1561.0 L194.8,1572.4 L195.8,1578.6 L196.8,1582.1 L197.8,1584.7 L198.8,1587.3 L199.8,1589.9 L200.8,1590.8 L201.8,1590.1 L202.8,1588.4 L203.8,1590.7 L204.8,1593.9 L205.8,1597.2 L206.8,1595.8 L207.8,1591.6 L208.8,1590.4 L209.8,1593.2 L210.8,1594.6 L211.8,1591.6 L212.8,1590.3 L213.8,1592.5 L214.8,1592.9 L215.8,1593.6 L216.8,1594.3 L217.8,1595.0 L218.8,1591.8 L219.8,1591.1 L220.8,1593.7 L221.8,1594.6 L222.8,1593.2 L223.8,1592.1 L224.8,1593.3 L225.8,1597.0 L226.8,1595.8 L227.8,1591.6 L228.8,1590.9 L229.8,1595.8 L230.8,1597.3 L231.8,1595.5 L232.8,1596.1 L233.8,1594.3 L234.8,1590.7 L235.8,1588.9 L236.8,1590.9 L237.8,1590.7 L238.8,1588.8 L239.8,1588.5 L240.8,1587.7 L241.8,1586.3 L242.8,1586.7 L243.8,1590.4 L244.8,1593.9 L245.8,1594.0 L246.8,1594.0 L247.8,1593.1 L248.8,1591.8 L249.8,1589.9 L250.8,1591.3 L251.8,1591.4 L252.8,1591.0 L253.8,1590.6 L254.8,1592.6 L255.8,1595.3 L256.8,1595.8 L257.8,1596.0 L258.8,1593.1 L259.8,1591.4 L260.8,1587.5 L261.8,1587.1 L262.8,1586.8 L263.8,1587.0 L264.8,1587.5 L265.8,1587.4 L266.8,1588.4 L267.8,1589.2 L268.8,1592.0 L269.8,1591.8 L270.8,1590.4 L271.8,1590.1 L272.8,1593.5 L273.8,1595.0 L274.8,1593.0 L275.8,1591.2 L276.8,1593.0 L277.8,1595.2 L278.8,1595.2 L279.8,1597.2 L280.8,1598.7 L281.8,1595.2 L282.8,1592.1 L283.8,1593.6 L284.8,1592.7 L285.8,1589.0 L286.8,1588.3 L287.8,1590.7 L288.8,1594.1 L289.8,1592.5 L290.8,1589.5 L291.8,1589.3 L292.8,1591.1 L293.8,1589.8 L294.8,1590.7 L295.8,1594.7 L296.8,1596.7 L297.8,1596.6 L298.8,1596.2 L299.8,1597.5 L300.8,1598.8 L301.8,1598.4 L302.8,1597.7 L303.8,1596.6 L304.8,1594.9 L305.8,1593.8 L306.8,1594.8 L307.8,1594.6 L308.8,1593.6 L309.8,1595.9 L310.8,1599.5 L311.8,1599.8 L312.8,1598.8 L313.8,1598.1 L314.8,1599.3 L315.8,1601.7 L316.8,1601.7 L317.8,1598.3 L318.8,1598.3 L319.8,1600.3 L320.8,1599.0 L321.8,1598.2 L322.8,1600.5 L323.8,1602.9 L324.8,1602.9 L325.8,1603.3 L326.8,1603.1 L327.8,1603.1 L328.8,1602.1 L329.8,1599.5 L330.8,1598.5 L331.8,1599.3 L332.8,1599.5 L333.8,1600.5 L334.8,1602.4 L335.8,1602.4 L336.8,1601.2 L337.8,1601.0 L338.8,1601.0 L339.8,1601.0 L340.8,1601.6 L341.8,1601.8 L342.8,1602.5 L343.8,1601.1 L344.8,1600.3 L345.8,1601.3 L346.8,1601.8 L347.8,1600.2 L348.8,1599.9 L349.8,1601.8 L350.8,1603.2 L351.8,1602.6 L352.8,1602.0 L353.8,1602.4 L354.8,1602.7 L355.8,1602.4 L356.8,1602.4 L357.8,1601.9 L358.8,1601.0 L359.2,1603.4 Z" fill="#A9A6FD" stroke="none" stroke-width="1.5"/>
<path d="M94.8,1603.4 L95.8,1603.4 L96.8,1603.4 L97.8,1603.4 L98.8,1603.4 L99.8,1603.4 L100.8,1603.4 L101.8,1603.4 L102.8,1603.4 L103.8,1603.4 L104.8,1603.4 L105.8,1603.4 L106.8,1603.4 L107.8,1603.4 L108.8,1603.4 L109.8,1603.4 L110.8,1603.4 L111.8,1603.4 L112.8,1603.4 L113.8,1603.0 L114.8,1603.0 L115.8,1603.0 L116.8,1602.9 L117.8,1603.3 L118.8,1602.9 L119.8,1602.7 L120.8,1602.5 L121.8,1601.9 L122.8,1601.1 L123.8,1600.7 L124.8,1601.7 L125.8,1602.7 L126.8,1603.3 L127.8,1602.5 L128.8,1602.2 L129.8,1601.9 L130.8,1602.0 L131.8,1602.1 L132.8,1602.3 L133.8,1602.7 L134.8,1601.3 L135.8,1600.7 L136.8,1600.8 L137.8,1602.8 L138.8,1603.4 L139.8,1603.4 L140.8,1602.2 L141.8,1599.9 L142.8,1598.8 L143.8,1599.8 L144.8,1599.0 L145.8,1598.7 L146.8,1599.8 L147.8,1600.5 L148.8,1599.6 L149.8,1598.8 L150.8,1597.1 L151.8,1595.1 L152.8,1594.6 L153.8,1594.3 L154.8,1593.9 L155.8,1597.5 L156.8,1599.4 L157.8,1595.0 L158.8,1588.7 L159.8,1585.3 L160.8,1579.1 L161.8,1565.8 L162.8,1558.6 L163.8,1555.2 L164.8,1547.3 L165.8,1528.8 L166.8,1517.9 L167.8,1501.0 L168.8,1484.1 L169.8,1462.5 L170.8,1449.9 L171.8,1429.7 L172.8,1408.0 L173.8,1383.3 L174.8,1371.9 L175.8,1375.0 L176.8,1375.5 L177.8,1375.8 L178.8,1356.0 L179.8,1349.7 L180.8,1369.5 L181.8,1381.6 L182.8,1365.0 L183.8,1369.4 L184.8,1396.4 L185.8,1424.0 L186.8,1449.6 L187.8,1471.0 L188.8,1483.7 L189.8,1502.4 L190.8,1517.3 L191.8,1528.5 L192.8,1541.7 L193.8,1561.0 L194.8,1572.4 L195.8,1578.6 L196.8,1582.1 L197.8,1584.7 L198.8,1587.3 L199.8,1589.9 L200.8,1590.8 L201.8,1590.1 L202.8,1588.4 L203.8,1590.7 L204.8,1593.9 L205.8,1597.2 L206.8,1595.8 L207.8,1591.6 L208.8,1590.4 L209.8,1593.2 L210.8,1594.6 L211.8,1591.6 L212.8,1590.3 L213.8,1592.5 L214.8,1592.9 L215.8,1593.6 L216.8,1594.3 L217.8,1595.0 L218.8,1591.8 L219.8,1591.1 L220.8,1593.7 L221.8,1594.6 L222.8,1593.2 L223.8,1592.1 L224.8,1593.3 L225.8,1597.0 L226.8,1595.8 L227.8,1591.6 L228.8,1590.9 L229.8,1595.8 L230.8,1597.3 L231.8,1595.5 L232.8,1596.1 L233.8,1594.3 L234.8,1590.7 L235.8,1588.9 L236.8,1590.9 L237.8,1590.7 L238.8,1588.8 L239.8,1588.5 L240.8,1587.7 L241.8,1586.3 L242.8,1586.7 L243.8,1590.4 L244.8,1593.9 L245.8,1594.0 L246.8,1594.0 L247.8,1593.1 L248.8,1591.8 L249.8,1589.9 L250.8,1591.3 L251.8,1591.4 L252.8,1591.0 L253.8,1590.6 L254.8,1592.6 L255.8,1595.3 L256.8,1595.8 L257.8,1596.0 L258.8,1593.1 L259.8,1591.4 L260.8,1587.5 L261.8,1587.1 L262.8,1586.8 L263.8,1587.0 L264.8,1587.5 L265.8,1587.4 L266.8,1588.4 L267.8,1589.2 L268.8,1592.0 L269.8,1591.8 L270.8,1590.4 L271.8,1590.1 L272.8,1593.5 L273.8,1595.0 L274.8,1593.0 L275.8,1591.2 L276.8,1593.0 L277.8,1595.2 L278.8,1595.2 L279.8,1597.2 L280.8,1598.7 L281.8,1595.2 L282.8,1592.1 L283.8,1593.6 L284.8,1592.7 L285.8,1589.0 L286.8,1588.3 L287.8,1590.7 L288.8,1594.1 L289.8,1592.5 L290.8,1589.5 L291.8,1589.3 L292.8,1591.1 L293.8,1589.8 L294.8,1590.7 L295.8,1594.7 L296.8,1596.7 L297.8,1596.6 L298.8,1596.2 L299.8,1597.5 L300.8,1598.8 L301.8,1598.4 L302.8,1597.7 L303.8,1596.6 L304.8,1594.9 L305.8,1593.8 L306.8,1594.8 L307.8,1594.6 L308.8,1593.6 L309.8,1595.9 L310.8,1599.5 L311.8,1599.8 L312.8,1598.8 L313.8,1598.1 L314.8,1599.3 L315.8,1601.7 L316.8,1601.7 L317.8,1598.3 L318.8,1598.3 L319.8,1600.3 L320.8,1599.0 L321.8,1598.2 L322.8,1600.5 L323.8,1602.9 L324.8,1602.9 L325.8,1603.3 L326.8,1603.1 L327.8,1603.1 L328.8,1602.1 L329.8,1599.5 L330.8,1598.5 L331.8,1599.3 L332.8,1599.5 L333.8,1600.5 L334.8,1602.4 L335.8,1602.4 L336.8,1601.2 L337.8,1601.0 L338.8,1601.0 L339.8,1601.0 L340.8,1601.6 L341.8,1601.8 L342.8,1602.5 L343.8,1601.1 L344.8,1600.3 L345.8,1601.3 L346.8,1601.8 L347.8,1600.2 L348.8,1599.9 L349.8,1601.8 L350.8,1603.2 L351.8,1602.6 L352.8,1602.0 L353.8,1602.4 L354.8,1602.7 L355.8,1602.4 L356.8,1602.4 L357.8,1601.9 L358.8,1601.0" fill="none" stroke="#3C1EFA" stroke-width="1.8" stroke-linejoin="round"/>
<rect x="94.80" y="1340.60" width="264.40" height="262.80" fill="none" stroke="#111" stroke-width="1.5"/>
<line x1="94.05" y1="1603.40" x2="359.95" y2="1603.40" stroke="#111" stroke-width="2.0"/>
<line x1="86.80" y1="1603.40" x2="94.80" y2="1603.40" stroke="#111" stroke-width="2.0"/>
<line x1="90.80" y1="1581.50" x2="94.80" y2="1581.50" stroke="#111" stroke-width="1.3"/>
<line x1="90.80" y1="1559.60" x2="94.80" y2="1559.60" stroke="#111" stroke-width="1.3"/>
<line x1="90.80" y1="1537.70" x2="94.80" y2="1537.70" stroke="#111" stroke-width="1.3"/>
<line x1="86.80" y1="1515.80" x2="94.80" y2="1515.80" stroke="#111" stroke-width="2.0"/>
<line x1="90.80" y1="1493.90" x2="94.80" y2="1493.90" stroke="#111" stroke-width="1.3"/>
<line x1="90.80" y1="1472.00" x2="94.80" y2="1472.00" stroke="#111" stroke-width="1.3"/>
<line x1="90.80" y1="1450.10" x2="94.80" y2="1450.10" stroke="#111" stroke-width="1.3"/>
<line x1="86.80" y1="1428.20" x2="94.80" y2="1428.20" stroke="#111" stroke-width="2.0"/>
<line x1="90.80" y1="1406.30" x2="94.80" y2="1406.30" stroke="#111" stroke-width="1.3"/>
<line x1="90.80" y1="1384.40" x2="94.80" y2="1384.40" stroke="#111" stroke-width="1.3"/>
<line x1="90.80" y1="1362.50" x2="94.80" y2="1362.50" stroke="#111" stroke-width="1.3"/>
<line x1="86.80" y1="1340.60" x2="94.80" y2="1340.60" stroke="#111" stroke-width="2.0"/>
<text x="82.80" y="1604.20" font-size="10.8" font-weight="bold" text-anchor="end" fill="#111">0</text>
<text x="82.80" y="1521.90" font-size="10.8" font-weight="bold" text-anchor="end" fill="#111">200</text>
<text x="82.80" y="1434.30" font-size="10.8" font-weight="bold" text-anchor="end" fill="#111">400</text>
<text x="82.80" y="1350.20" font-size="10.8" font-weight="bold" text-anchor="end" fill="#111">600</text>
<line x1="102.09" y1="1603.40" x2="102.09" y2="1608.20" stroke="#111" stroke-width="1.3"/>
<line x1="109.01" y1="1603.40" x2="109.01" y2="1608.20" stroke="#111" stroke-width="1.3"/>
<line x1="114.66" y1="1603.40" x2="114.66" y2="1608.20" stroke="#111" stroke-width="1.3"/>
<line x1="119.44" y1="1603.40" x2="119.44" y2="1608.20" stroke="#111" stroke-width="1.3"/>
<line x1="123.58" y1="1603.40" x2="123.58" y2="1608.20" stroke="#111" stroke-width="1.3"/>
<line x1="127.23" y1="1603.40" x2="127.23" y2="1608.20" stroke="#111" stroke-width="1.3"/>
<line x1="130.50" y1="1603.40" x2="130.50" y2="1611.00" stroke="#111" stroke-width="2.0"/>
<line x1="151.99" y1="1603.40" x2="151.99" y2="1608.20" stroke="#111" stroke-width="1.3"/>
<line x1="164.57" y1="1603.40" x2="164.57" y2="1608.20" stroke="#111" stroke-width="1.3"/>
<line x1="173.49" y1="1603.40" x2="173.49" y2="1608.20" stroke="#111" stroke-width="1.3"/>
<line x1="180.41" y1="1603.40" x2="180.41" y2="1608.20" stroke="#111" stroke-width="1.3"/>
<line x1="186.06" y1="1603.40" x2="186.06" y2="1608.20" stroke="#111" stroke-width="1.3"/>
<line x1="190.84" y1="1603.40" x2="190.84" y2="1608.20" stroke="#111" stroke-width="1.3"/>
<line x1="194.98" y1="1603.40" x2="194.98" y2="1608.20" stroke="#111" stroke-width="1.3"/>
<line x1="198.63" y1="1603.40" x2="198.63" y2="1608.20" stroke="#111" stroke-width="1.3"/>
<line x1="201.90" y1="1603.40" x2="201.90" y2="1611.00" stroke="#111" stroke-width="2.0"/>
<line x1="223.39" y1="1603.40" x2="223.39" y2="1608.20" stroke="#111" stroke-width="1.3"/>
<line x1="235.97" y1="1603.40" x2="235.97" y2="1608.20" stroke="#111" stroke-width="1.3"/>
<line x1="244.89" y1="1603.40" x2="244.89" y2="1608.20" stroke="#111" stroke-width="1.3"/>
<line x1="251.81" y1="1603.40" x2="251.81" y2="1608.20" stroke="#111" stroke-width="1.3"/>
<line x1="257.46" y1="1603.40" x2="257.46" y2="1608.20" stroke="#111" stroke-width="1.3"/>
<line x1="262.24" y1="1603.40" x2="262.24" y2="1608.20" stroke="#111" stroke-width="1.3"/>
<line x1="266.38" y1="1603.40" x2="266.38" y2="1608.20" stroke="#111" stroke-width="1.3"/>
<line x1="270.03" y1="1603.40" x2="270.03" y2="1608.20" stroke="#111" stroke-width="1.3"/>
<line x1="273.30" y1="1603.40" x2="273.30" y2="1611.00" stroke="#111" stroke-width="2.0"/>
<line x1="294.79" y1="1603.40" x2="294.79" y2="1608.20" stroke="#111" stroke-width="1.3"/>
<line x1="307.37" y1="1603.40" x2="307.37" y2="1608.20" stroke="#111" stroke-width="1.3"/>
<line x1="316.29" y1="1603.40" x2="316.29" y2="1608.20" stroke="#111" stroke-width="1.3"/>
<line x1="323.21" y1="1603.40" x2="323.21" y2="1608.20" stroke="#111" stroke-width="1.3"/>
<line x1="328.86" y1="1603.40" x2="328.86" y2="1608.20" stroke="#111" stroke-width="1.3"/>
<line x1="333.64" y1="1603.40" x2="333.64" y2="1608.20" stroke="#111" stroke-width="1.3"/>
<line x1="337.78" y1="1603.40" x2="337.78" y2="1608.20" stroke="#111" stroke-width="1.3"/>
<line x1="341.43" y1="1603.40" x2="341.43" y2="1608.20" stroke="#111" stroke-width="1.3"/>
<line x1="344.70" y1="1603.40" x2="344.70" y2="1611.00" stroke="#111" stroke-width="2.0"/>
<text x="130.20" y="1628.70" font-size="10" font-weight="bold" fill="#111">10</text>
<text x="141.50" y="1621.00" font-size="10" font-weight="bold" fill="#111">4</text>
<text x="201.60" y="1628.70" font-size="10" font-weight="bold" fill="#111">10</text>
<text x="212.90" y="1621.00" font-size="10" font-weight="bold" fill="#111">5</text>
<text x="273.00" y="1628.70" font-size="10" font-weight="bold" fill="#111">10</text>
<text x="284.30" y="1621.00" font-size="10" font-weight="bold" fill="#111">6</text>
<text x="344.40" y="1628.70" font-size="10" font-weight="bold" fill="#111">10</text>
<text x="355.70" y="1621.00" font-size="10" font-weight="bold" fill="#111">7</text>
<line x1="207.61" y1="1464.12" x2="352.55" y2="1464.12" stroke="#111" stroke-width="2.0"/>
<line x1="207.61" y1="1459.62" x2="207.61" y2="1468.62" stroke="#111" stroke-width="2.0"/>
<line x1="352.55" y1="1459.62" x2="352.55" y2="1468.62" stroke="#111" stroke-width="2.0"/>
<text x="279.44" y="1436.62" font-size="11" font-weight="bold" text-anchor="middle" fill="#222">HA+</text>
<text x="279.44" y="1450.32" font-size="11" font-weight="bold" text-anchor="middle" fill="#222">18.9</text>
<text x="578.90" y="1329.50" font-size="22.4" font-weight="bold" text-anchor="middle">hVIC/11-V186G</text>
<path d="M446.7,1603.4 L446.7,1603.4 L447.7,1603.4 L448.7,1603.4 L449.7,1603.4 L450.7,1603.4 L451.7,1603.4 L452.7,1603.4 L453.7,1603.3 L454.7,1602.9 L455.7,1603.0 L456.7,1603.4 L457.7,1603.4 L458.7,1603.4 L459.7,1603.4 L460.7,1603.4 L461.7,1603.4 L462.7,1602.7 L463.7,1602.8 L464.7,1603.1 L465.7,1603.0 L466.7,1602.0 L467.7,1602.3 L468.7,1602.2 L469.7,1602.1 L470.7,1601.4 L471.7,1601.7 L472.7,1601.9 L473.7,1603.3 L474.7,1603.3 L475.7,1601.1 L476.7,1599.7 L477.7,1599.4 L478.7,1599.1 L479.7,1598.8 L480.7,1599.5 L481.7,1598.7 L482.7,1598.3 L483.7,1600.0 L484.7,1600.2 L485.7,1598.7 L486.7,1596.6 L487.7,1596.2 L488.7,1598.1 L489.7,1600.6 L490.7,1601.4 L491.7,1600.1 L492.7,1598.3 L493.7,1597.5 L494.7,1599.4 L495.7,1599.4 L496.7,1598.3 L497.7,1596.7 L498.7,1597.7 L499.7,1598.5 L500.7,1599.8 L501.7,1599.8 L502.7,1596.6 L503.7,1591.8 L504.7,1591.3 L505.7,1594.3 L506.7,1596.9 L507.7,1595.5 L508.7,1592.2 L509.7,1589.1 L510.7,1591.0 L511.7,1590.8 L512.7,1587.3 L513.7,1585.0 L514.7,1585.4 L515.7,1584.8 L516.7,1581.7 L517.7,1575.4 L518.7,1569.9 L519.7,1565.4 L520.7,1567.4 L521.7,1567.3 L522.7,1563.4 L523.7,1556.2 L524.7,1551.5 L525.7,1546.5 L526.7,1546.0 L527.7,1540.8 L528.7,1529.0 L529.7,1522.2 L530.7,1522.9 L531.7,1524.9 L532.7,1528.5 L533.7,1530.8 L534.7,1519.1 L535.7,1511.5 L536.7,1520.1 L537.7,1529.0 L538.7,1529.8 L539.7,1531.4 L540.7,1535.0 L541.7,1541.2 L542.7,1552.4 L543.7,1562.5 L544.7,1557.9 L545.7,1553.5 L546.7,1557.4 L547.7,1567.5 L548.7,1570.4 L549.7,1568.4 L550.7,1571.6 L551.7,1577.8 L552.7,1577.5 L553.7,1575.7 L554.7,1580.7 L555.7,1586.7 L556.7,1588.3 L557.7,1588.0 L558.7,1588.5 L559.7,1590.3 L560.7,1592.5 L561.7,1592.6 L562.7,1592.8 L563.7,1593.4 L564.7,1594.7 L565.7,1592.8 L566.7,1589.3 L567.7,1589.1 L568.7,1591.2 L569.7,1591.9 L570.7,1591.0 L571.7,1592.5 L572.7,1592.6 L573.7,1590.9 L574.7,1591.7 L575.7,1592.2 L576.7,1592.3 L577.7,1593.0 L578.7,1595.0 L579.7,1593.0 L580.7,1591.1 L581.7,1591.1 L582.7,1592.1 L583.7,1593.2 L584.7,1592.3 L585.7,1592.0 L586.7,1591.2 L587.7,1590.8 L588.7,1590.3 L589.7,1592.4 L590.7,1593.3 L591.7,1592.9 L592.7,1592.5 L593.7,1592.3 L594.7,1595.0 L595.7,1599.2 L596.7,1598.6 L597.7,1595.0 L598.7,1593.5 L599.7,1594.1 L600.7,1594.5 L601.7,1592.2 L602.7,1590.0 L603.7,1589.8 L604.7,1593.6 L605.7,1592.9 L606.7,1590.3 L607.7,1586.8 L608.7,1586.2 L609.7,1588.8 L610.7,1593.9 L611.7,1593.6 L612.7,1591.5 L613.7,1591.3 L614.7,1593.0 L615.7,1591.4 L616.7,1590.0 L617.7,1591.2 L618.7,1594.0 L619.7,1597.0 L620.7,1595.5 L621.7,1593.2 L622.7,1593.7 L623.7,1594.2 L624.7,1592.1 L625.7,1592.0 L626.7,1594.8 L627.7,1595.3 L628.7,1594.0 L629.7,1592.7 L630.7,1592.8 L631.7,1593.0 L632.7,1596.2 L633.7,1598.1 L634.7,1596.4 L635.7,1591.2 L636.7,1589.7 L637.7,1592.2 L638.7,1597.0 L639.7,1599.0 L640.7,1594.2 L641.7,1590.3 L642.7,1592.3 L643.7,1597.9 L644.7,1598.8 L645.7,1597.6 L646.7,1595.5 L647.7,1595.2 L648.7,1597.7 L649.7,1600.1 L650.7,1598.3 L651.7,1596.1 L652.7,1598.2 L653.7,1600.8 L654.7,1601.7 L655.7,1598.5 L656.7,1594.3 L657.7,1594.2 L658.7,1596.3 L659.7,1597.9 L660.7,1599.2 L661.7,1601.2 L662.7,1600.6 L663.7,1599.4 L664.7,1596.8 L665.7,1595.6 L666.7,1597.1 L667.7,1599.2 L668.7,1600.1 L669.7,1600.0 L670.7,1600.7 L671.7,1601.0 L672.7,1600.6 L673.7,1599.4 L674.7,1600.1 L675.7,1600.9 L676.7,1601.1 L677.7,1601.2 L678.7,1603.3 L679.7,1603.4 L680.7,1602.8 L681.7,1601.4 L682.7,1600.2 L683.7,1599.8 L684.7,1600.6 L685.7,1602.4 L686.7,1602.4 L687.7,1601.7 L688.7,1601.8 L689.7,1602.1 L690.7,1600.8 L691.7,1599.8 L692.7,1600.5 L693.7,1602.3 L694.7,1603.4 L695.7,1603.4 L696.7,1603.4 L697.7,1603.0 L698.7,1603.3 L699.7,1602.9 L700.7,1602.3 L701.7,1602.4 L702.7,1603.4 L703.7,1603.4 L704.7,1602.9 L705.7,1602.2 L706.7,1602.3 L707.7,1603.2 L708.7,1603.4 L709.7,1603.4 L710.7,1603.4 L711.1,1603.4 Z" fill="#A9A6FD" stroke="none" stroke-width="1.5"/>
<path d="M446.7,1603.4 L447.7,1603.4 L448.7,1603.4 L449.7,1603.4 L450.7,1603.4 L451.7,1603.4 L452.7,1603.4 L453.7,1603.3 L454.7,1602.9 L455.7,1603.0 L456.7,1603.4 L457.7,1603.4 L458.7,1603.4 L459.7,1603.4 L460.7,1603.4 L461.7,1603.4 L462.7,1602.7 L463.7,1602.8 L464.7,1603.1 L465.7,1603.0 L466.7,1602.0 L467.7,1602.3 L468.7,1602.2 L469.7,1602.1 L470.7,1601.4 L471.7,1601.7 L472.7,1601.9 L473.7,1603.3 L474.7,1603.3 L475.7,1601.1 L476.7,1599.7 L477.7,1599.4 L478.7,1599.1 L479.7,1598.8 L480.7,1599.5 L481.7,1598.7 L482.7,1598.3 L483.7,1600.0 L484.7,1600.2 L485.7,1598.7 L486.7,1596.6 L487.7,1596.2 L488.7,1598.1 L489.7,1600.6 L490.7,1601.4 L491.7,1600.1 L492.7,1598.3 L493.7,1597.5 L494.7,1599.4 L495.7,1599.4 L496.7,1598.3 L497.7,1596.7 L498.7,1597.7 L499.7,1598.5 L500.7,1599.8 L501.7,1599.8 L502.7,1596.6 L503.7,1591.8 L504.7,1591.3 L505.7,1594.3 L506.7,1596.9 L507.7,1595.5 L508.7,1592.2 L509.7,1589.1 L510.7,1591.0 L511.7,1590.8 L512.7,1587.3 L513.7,1585.0 L514.7,1585.4 L515.7,1584.8 L516.7,1581.7 L517.7,1575.4 L518.7,1569.9 L519.7,1565.4 L520.7,1567.4 L521.7,1567.3 L522.7,1563.4 L523.7,1556.2 L524.7,1551.5 L525.7,1546.5 L526.7,1546.0 L527.7,1540.8 L528.7,1529.0 L529.7,1522.2 L530.7,1522.9 L531.7,1524.9 L532.7,1528.5 L533.7,1530.8 L534.7,1519.1 L535.7,1511.5 L536.7,1520.1 L537.7,1529.0 L538.7,1529.8 L539.7,1531.4 L540.7,1535.0 L541.7,1541.2 L542.7,1552.4 L543.7,1562.5 L544.7,1557.9 L545.7,1553.5 L546.7,1557.4 L547.7,1567.5 L548.7,1570.4 L549.7,1568.4 L550.7,1571.6 L551.7,1577.8 L552.7,1577.5 L553.7,1575.7 L554.7,1580.7 L555.7,1586.7 L556.7,1588.3 L557.7,1588.0 L558.7,1588.5 L559.7,1590.3 L560.7,1592.5 L561.7,1592.6 L562.7,1592.8 L563.7,1593.4 L564.7,1594.7 L565.7,1592.8 L566.7,1589.3 L567.7,1589.1 L568.7,1591.2 L569.7,1591.9 L570.7,1591.0 L571.7,1592.5 L572.7,1592.6 L573.7,1590.9 L574.7,1591.7 L575.7,1592.2 L576.7,1592.3 L577.7,1593.0 L578.7,1595.0 L579.7,1593.0 L580.7,1591.1 L581.7,1591.1 L582.7,1592.1 L583.7,1593.2 L584.7,1592.3 L585.7,1592.0 L586.7,1591.2 L587.7,1590.8 L588.7,1590.3 L589.7,1592.4 L590.7,1593.3 L591.7,1592.9 L592.7,1592.5 L593.7,1592.3 L594.7,1595.0 L595.7,1599.2 L596.7,1598.6 L597.7,1595.0 L598.7,1593.5 L599.7,1594.1 L600.7,1594.5 L601.7,1592.2 L602.7,1590.0 L603.7,1589.8 L604.7,1593.6 L605.7,1592.9 L606.7,1590.3 L607.7,1586.8 L608.7,1586.2 L609.7,1588.8 L610.7,1593.9 L611.7,1593.6 L612.7,1591.5 L613.7,1591.3 L614.7,1593.0 L615.7,1591.4 L616.7,1590.0 L617.7,1591.2 L618.7,1594.0 L619.7,1597.0 L620.7,1595.5 L621.7,1593.2 L622.7,1593.7 L623.7,1594.2 L624.7,1592.1 L625.7,1592.0 L626.7,1594.8 L627.7,1595.3 L628.7,1594.0 L629.7,1592.7 L630.7,1592.8 L631.7,1593.0 L632.7,1596.2 L633.7,1598.1 L634.7,1596.4 L635.7,1591.2 L636.7,1589.7 L637.7,1592.2 L638.7,1597.0 L639.7,1599.0 L640.7,1594.2 L641.7,1590.3 L642.7,1592.3 L643.7,1597.9 L644.7,1598.8 L645.7,1597.6 L646.7,1595.5 L647.7,1595.2 L648.7,1597.7 L649.7,1600.1 L650.7,1598.3 L651.7,1596.1 L652.7,1598.2 L653.7,1600.8 L654.7,1601.7 L655.7,1598.5 L656.7,1594.3 L657.7,1594.2 L658.7,1596.3 L659.7,1597.9 L660.7,1599.2 L661.7,1601.2 L662.7,1600.6 L663.7,1599.4 L664.7,1596.8 L665.7,1595.6 L666.7,1597.1 L667.7,1599.2 L668.7,1600.1 L669.7,1600.0 L670.7,1600.7 L671.7,1601.0 L672.7,1600.6 L673.7,1599.4 L674.7,1600.1 L675.7,1600.9 L676.7,1601.1 L677.7,1601.2 L678.7,1603.3 L679.7,1603.4 L680.7,1602.8 L681.7,1601.4 L682.7,1600.2 L683.7,1599.8 L684.7,1600.6 L685.7,1602.4 L686.7,1602.4 L687.7,1601.7 L688.7,1601.8 L689.7,1602.1 L690.7,1600.8 L691.7,1599.8 L692.7,1600.5 L693.7,1602.3 L694.7,1603.4 L695.7,1603.4 L696.7,1603.4 L697.7,1603.0 L698.7,1603.3 L699.7,1602.9 L700.7,1602.3 L701.7,1602.4 L702.7,1603.4 L703.7,1603.4 L704.7,1602.9 L705.7,1602.2 L706.7,1602.3 L707.7,1603.2 L708.7,1603.4 L709.7,1603.4 L710.7,1603.4" fill="none" stroke="#3C1EFA" stroke-width="1.8" stroke-linejoin="round"/>
<rect x="446.70" y="1340.60" width="264.40" height="262.80" fill="none" stroke="#111" stroke-width="1.5"/>
<line x1="445.95" y1="1603.40" x2="711.85" y2="1603.40" stroke="#111" stroke-width="2.0"/>
<line x1="438.70" y1="1603.40" x2="446.70" y2="1603.40" stroke="#111" stroke-width="2.0"/>
<line x1="442.70" y1="1581.50" x2="446.70" y2="1581.50" stroke="#111" stroke-width="1.3"/>
<line x1="442.70" y1="1559.60" x2="446.70" y2="1559.60" stroke="#111" stroke-width="1.3"/>
<line x1="442.70" y1="1537.70" x2="446.70" y2="1537.70" stroke="#111" stroke-width="1.3"/>
<line x1="438.70" y1="1515.80" x2="446.70" y2="1515.80" stroke="#111" stroke-width="2.0"/>
<line x1="442.70" y1="1493.90" x2="446.70" y2="1493.90" stroke="#111" stroke-width="1.3"/>
<line x1="442.70" y1="1472.00" x2="446.70" y2="1472.00" stroke="#111" stroke-width="1.3"/>
<line x1="442.70" y1="1450.10" x2="446.70" y2="1450.10" stroke="#111" stroke-width="1.3"/>
<line x1="438.70" y1="1428.20" x2="446.70" y2="1428.20" stroke="#111" stroke-width="2.0"/>
<line x1="442.70" y1="1406.30" x2="446.70" y2="1406.30" stroke="#111" stroke-width="1.3"/>
<line x1="442.70" y1="1384.40" x2="446.70" y2="1384.40" stroke="#111" stroke-width="1.3"/>
<line x1="442.70" y1="1362.50" x2="446.70" y2="1362.50" stroke="#111" stroke-width="1.3"/>
<line x1="438.70" y1="1340.60" x2="446.70" y2="1340.60" stroke="#111" stroke-width="2.0"/>
<text x="434.70" y="1604.20" font-size="10.8" font-weight="bold" text-anchor="end" fill="#111">0</text>
<text x="434.70" y="1521.90" font-size="10.8" font-weight="bold" text-anchor="end" fill="#111">200</text>
<text x="434.70" y="1434.30" font-size="10.8" font-weight="bold" text-anchor="end" fill="#111">400</text>
<text x="434.70" y="1350.20" font-size="10.8" font-weight="bold" text-anchor="end" fill="#111">600</text>
<line x1="453.99" y1="1603.40" x2="453.99" y2="1608.20" stroke="#111" stroke-width="1.3"/>
<line x1="460.91" y1="1603.40" x2="460.91" y2="1608.20" stroke="#111" stroke-width="1.3"/>
<line x1="466.56" y1="1603.40" x2="466.56" y2="1608.20" stroke="#111" stroke-width="1.3"/>
<line x1="471.34" y1="1603.40" x2="471.34" y2="1608.20" stroke="#111" stroke-width="1.3"/>
<line x1="475.48" y1="1603.40" x2="475.48" y2="1608.20" stroke="#111" stroke-width="1.3"/>
<line x1="479.13" y1="1603.40" x2="479.13" y2="1608.20" stroke="#111" stroke-width="1.3"/>
<line x1="482.40" y1="1603.40" x2="482.40" y2="1611.00" stroke="#111" stroke-width="2.0"/>
<line x1="503.89" y1="1603.40" x2="503.89" y2="1608.20" stroke="#111" stroke-width="1.3"/>
<line x1="516.47" y1="1603.40" x2="516.47" y2="1608.20" stroke="#111" stroke-width="1.3"/>
<line x1="525.39" y1="1603.40" x2="525.39" y2="1608.20" stroke="#111" stroke-width="1.3"/>
<line x1="532.31" y1="1603.40" x2="532.31" y2="1608.20" stroke="#111" stroke-width="1.3"/>
<line x1="537.96" y1="1603.40" x2="537.96" y2="1608.20" stroke="#111" stroke-width="1.3"/>
<line x1="542.74" y1="1603.40" x2="542.74" y2="1608.20" stroke="#111" stroke-width="1.3"/>
<line x1="546.88" y1="1603.40" x2="546.88" y2="1608.20" stroke="#111" stroke-width="1.3"/>
<line x1="550.53" y1="1603.40" x2="550.53" y2="1608.20" stroke="#111" stroke-width="1.3"/>
<line x1="553.80" y1="1603.40" x2="553.80" y2="1611.00" stroke="#111" stroke-width="2.0"/>
<line x1="575.29" y1="1603.40" x2="575.29" y2="1608.20" stroke="#111" stroke-width="1.3"/>
<line x1="587.87" y1="1603.40" x2="587.87" y2="1608.20" stroke="#111" stroke-width="1.3"/>
<line x1="596.79" y1="1603.40" x2="596.79" y2="1608.20" stroke="#111" stroke-width="1.3"/>
<line x1="603.71" y1="1603.40" x2="603.71" y2="1608.20" stroke="#111" stroke-width="1.3"/>
<line x1="609.36" y1="1603.40" x2="609.36" y2="1608.20" stroke="#111" stroke-width="1.3"/>
<line x1="614.14" y1="1603.40" x2="614.14" y2="1608.20" stroke="#111" stroke-width="1.3"/>
<line x1="618.28" y1="1603.40" x2="618.28" y2="1608.20" stroke="#111" stroke-width="1.3"/>
<line x1="621.93" y1="1603.40" x2="621.93" y2="1608.20" stroke="#111" stroke-width="1.3"/>
<line x1="625.20" y1="1603.40" x2="625.20" y2="1611.00" stroke="#111" stroke-width="2.0"/>
<line x1="646.69" y1="1603.40" x2="646.69" y2="1608.20" stroke="#111" stroke-width="1.3"/>
<line x1="659.27" y1="1603.40" x2="659.27" y2="1608.20" stroke="#111" stroke-width="1.3"/>
<line x1="668.19" y1="1603.40" x2="668.19" y2="1608.20" stroke="#111" stroke-width="1.3"/>
<line x1="675.11" y1="1603.40" x2="675.11" y2="1608.20" stroke="#111" stroke-width="1.3"/>
<line x1="680.76" y1="1603.40" x2="680.76" y2="1608.20" stroke="#111" stroke-width="1.3"/>
<line x1="685.54" y1="1603.40" x2="685.54" y2="1608.20" stroke="#111" stroke-width="1.3"/>
<line x1="689.68" y1="1603.40" x2="689.68" y2="1608.20" stroke="#111" stroke-width="1.3"/>
<line x1="693.33" y1="1603.40" x2="693.33" y2="1608.20" stroke="#111" stroke-width="1.3"/>
<line x1="696.60" y1="1603.40" x2="696.60" y2="1611.00" stroke="#111" stroke-width="2.0"/>
<text x="482.10" y="1628.70" font-size="10" font-weight="bold" fill="#111">10</text>
<text x="493.40" y="1621.00" font-size="10" font-weight="bold" fill="#111">4</text>
<text x="553.50" y="1628.70" font-size="10" font-weight="bold" fill="#111">10</text>
<text x="564.80" y="1621.00" font-size="10" font-weight="bold" fill="#111">5</text>
<text x="624.90" y="1628.70" font-size="10" font-weight="bold" fill="#111">10</text>
<text x="636.20" y="1621.00" font-size="10" font-weight="bold" fill="#111">6</text>
<text x="696.30" y="1628.70" font-size="10" font-weight="bold" fill="#111">10</text>
<text x="707.60" y="1621.00" font-size="10" font-weight="bold" fill="#111">7</text>
<line x1="559.51" y1="1464.12" x2="704.45" y2="1464.12" stroke="#111" stroke-width="2.0"/>
<line x1="559.51" y1="1459.62" x2="559.51" y2="1468.62" stroke="#111" stroke-width="2.0"/>
<line x1="704.45" y1="1459.62" x2="704.45" y2="1468.62" stroke="#111" stroke-width="2.0"/>
<text x="631.34" y="1436.62" font-size="11" font-weight="bold" text-anchor="middle" fill="#222">HA+</text>
<text x="631.34" y="1450.32" font-size="11" font-weight="bold" text-anchor="middle" fill="#222">33.2</text>
<text x="934.20" y="1329.50" font-size="22.4" font-weight="bold" text-anchor="middle">hVIC/11-F193Y</text>
<path d="M798.7,1603.4 L798.7,1603.4 L799.7,1603.4 L800.7,1603.4 L801.7,1603.4 L802.7,1603.4 L803.7,1603.4 L804.7,1603.4 L805.7,1603.4 L806.7,1603.4 L807.7,1603.4 L808.7,1603.4 L809.7,1603.4 L810.7,1603.4 L811.7,1603.4 L812.7,1603.4 L813.7,1603.4 L814.7,1603.4 L815.7,1603.1 L816.7,1602.8 L817.7,1603.2 L818.7,1603.4 L819.7,1603.4 L820.7,1603.4 L821.7,1602.7 L822.7,1602.3 L823.7,1603.0 L824.7,1603.4 L825.7,1603.4 L826.7,1603.4 L827.7,1602.4 L828.7,1602.6 L829.7,1602.8 L830.7,1602.9 L831.7,1602.6 L832.7,1602.7 L833.7,1602.3 L834.7,1601.4 L835.7,1600.1 L836.7,1599.1 L837.7,1599.8 L838.7,1600.3 L839.7,1599.7 L840.7,1598.3 L841.7,1598.0 L842.7,1599.7 L843.7,1601.8 L844.7,1601.8 L845.7,1599.1 L846.7,1597.6 L847.7,1596.6 L848.7,1596.3 L849.7,1597.3 L850.7,1598.6 L851.7,1597.2 L852.7,1594.6 L853.7,1595.7 L854.7,1596.2 L855.7,1595.3 L856.7,1595.7 L857.7,1596.9 L858.7,1596.4 L859.7,1594.6 L860.7,1588.7 L861.7,1575.7 L862.7,1566.6 L863.7,1565.8 L864.7,1563.1 L865.7,1558.2 L866.7,1558.3 L867.7,1565.9 L868.7,1561.4 L869.7,1555.0 L870.7,1555.5 L871.7,1556.0 L872.7,1539.7 L873.7,1526.2 L874.7,1516.4 L875.7,1508.2 L876.7,1501.4 L877.7,1498.8 L878.7,1496.7 L879.7,1495.9 L880.7,1485.0 L881.7,1481.2 L882.7,1487.8 L883.7,1493.9 L884.7,1494.0 L885.7,1500.4 L886.7,1512.3 L887.7,1520.1 L888.7,1523.3 L889.7,1519.0 L890.7,1519.7 L891.7,1529.3 L892.7,1545.4 L893.7,1550.2 L894.7,1548.8 L895.7,1558.4 L896.7,1572.5 L897.7,1579.3 L898.7,1581.2 L899.7,1587.0 L900.7,1590.0 L901.7,1591.2 L902.7,1591.0 L903.7,1590.5 L904.7,1590.2 L905.7,1593.3 L906.7,1598.5 L907.7,1600.3 L908.7,1597.3 L909.7,1593.7 L910.7,1594.2 L911.7,1595.2 L912.7,1594.9 L913.7,1595.4 L914.7,1596.8 L915.7,1596.8 L916.7,1597.6 L917.7,1599.1 L918.7,1598.5 L919.7,1595.5 L920.7,1595.5 L921.7,1596.6 L922.7,1597.3 L923.7,1596.3 L924.7,1597.9 L925.7,1597.2 L926.7,1594.3 L927.7,1591.2 L928.7,1591.9 L929.7,1592.3 L930.7,1592.9 L931.7,1592.8 L932.7,1594.6 L933.7,1595.6 L934.7,1596.8 L935.7,1597.9 L936.7,1599.0 L937.7,1599.5 L938.7,1600.0 L939.7,1599.9 L940.7,1599.0 L941.7,1595.6 L942.7,1591.7 L943.7,1590.0 L944.7,1591.8 L945.7,1594.9 L946.7,1596.7 L947.7,1598.5 L948.7,1599.2 L949.7,1599.6 L950.7,1598.3 L951.7,1596.6 L952.7,1596.3 L953.7,1594.1 L954.7,1593.8 L955.7,1593.6 L956.7,1597.3 L957.7,1597.1 L958.7,1598.0 L959.7,1597.2 L960.7,1597.4 L961.7,1595.3 L962.7,1594.3 L963.7,1594.0 L964.7,1595.2 L965.7,1594.0 L966.7,1593.8 L967.7,1595.0 L968.7,1597.4 L969.7,1597.0 L970.7,1597.8 L971.7,1598.3 L972.7,1597.6 L973.7,1596.7 L974.7,1596.4 L975.7,1597.0 L976.7,1595.5 L977.7,1595.1 L978.7,1593.4 L979.7,1593.4 L980.7,1594.2 L981.7,1595.5 L982.7,1594.2 L983.7,1592.4 L984.7,1591.9 L985.7,1592.3 L986.7,1595.5 L987.7,1597.2 L988.7,1597.2 L989.7,1596.2 L990.7,1595.7 L991.7,1596.0 L992.7,1596.2 L993.7,1594.2 L994.7,1592.5 L995.7,1595.2 L996.7,1596.7 L997.7,1596.4 L998.7,1595.8 L999.7,1595.6 L1000.7,1597.3 L1001.7,1599.4 L1002.7,1601.2 L1003.7,1601.4 L1004.7,1600.9 L1005.7,1600.1 L1006.7,1601.0 L1007.7,1601.8 L1008.7,1600.5 L1009.7,1599.4 L1010.7,1598.7 L1011.7,1599.5 L1012.7,1600.9 L1013.7,1601.1 L1014.7,1601.1 L1015.7,1601.7 L1016.7,1601.5 L1017.7,1601.0 L1018.7,1601.7 L1019.7,1601.6 L1020.7,1600.4 L1021.7,1601.8 L1022.7,1603.4 L1023.7,1602.2 L1024.7,1597.9 L1025.7,1597.5 L1026.7,1599.5 L1027.7,1600.6 L1028.7,1600.3 L1029.7,1602.1 L1030.7,1602.7 L1031.7,1601.9 L1032.7,1601.3 L1033.7,1603.0 L1034.7,1603.4 L1035.7,1603.4 L1036.7,1602.8 L1037.7,1602.4 L1038.7,1602.5 L1039.7,1602.1 L1040.7,1601.6 L1041.7,1602.1 L1042.7,1603.4 L1043.7,1603.4 L1044.7,1602.9 L1045.7,1602.3 L1046.7,1602.3 L1047.7,1602.4 L1048.7,1602.7 L1049.7,1602.9 L1050.7,1602.8 L1051.7,1602.7 L1052.7,1602.9 L1053.7,1603.4 L1054.7,1603.4 L1055.7,1603.4 L1056.7,1603.4 L1057.7,1602.8 L1058.7,1602.8 L1059.7,1603.3 L1060.7,1603.0 L1061.7,1603.1 L1062.7,1603.4 L1063.1,1603.4 Z" fill="#A9A6FD" stroke="none" stroke-width="1.5"/>
<path d="M798.7,1603.4 L799.7,1603.4 L800.7,1603.4 L801.7,1603.4 L802.7,1603.4 L803.7,1603.4 L804.7,1603.4 L805.7,1603.4 L806.7,1603.4 L807.7,1603.4 L808.7,1603.4 L809.7,1603.4 L810.7,1603.4 L811.7,1603.4 L812.7,1603.4 L813.7,1603.4 L814.7,1603.4 L815.7,1603.1 L816.7,1602.8 L817.7,1603.2 L818.7,1603.4 L819.7,1603.4 L820.7,1603.4 L821.7,1602.7 L822.7,1602.3 L823.7,1603.0 L824.7,1603.4 L825.7,1603.4 L826.7,1603.4 L827.7,1602.4 L828.7,1602.6 L829.7,1602.8 L830.7,1602.9 L831.7,1602.6 L832.7,1602.7 L833.7,1602.3 L834.7,1601.4 L835.7,1600.1 L836.7,1599.1 L837.7,1599.8 L838.7,1600.3 L839.7,1599.7 L840.7,1598.3 L841.7,1598.0 L842.7,1599.7 L843.7,1601.8 L844.7,1601.8 L845.7,1599.1 L846.7,1597.6 L847.7,1596.6 L848.7,1596.3 L849.7,1597.3 L850.7,1598.6 L851.7,1597.2 L852.7,1594.6 L853.7,1595.7 L854.7,1596.2 L855.7,1595.3 L856.7,1595.7 L857.7,1596.9 L858.7,1596.4 L859.7,1594.6 L860.7,1588.7 L861.7,1575.7 L862.7,1566.6 L863.7,1565.8 L864.7,1563.1 L865.7,1558.2 L866.7,1558.3 L867.7,1565.9 L868.7,1561.4 L869.7,1555.0 L870.7,1555.5 L871.7,1556.0 L872.7,1539.7 L873.7,1526.2 L874.7,1516.4 L875.7,1508.2 L876.7,1501.4 L877.7,1498.8 L878.7,1496.7 L879.7,1495.9 L880.7,1485.0 L881.7,1481.2 L882.7,1487.8 L883.7,1493.9 L884.7,1494.0 L885.7,1500.4 L886.7,1512.3 L887.7,1520.1 L888.7,1523.3 L889.7,1519.0 L890.7,1519.7 L891.7,1529.3 L892.7,1545.4 L893.7,1550.2 L894.7,1548.8 L895.7,1558.4 L896.7,1572.5 L897.7,1579.3 L898.7,1581.2 L899.7,1587.0 L900.7,1590.0 L901.7,1591.2 L902.7,1591.0 L903.7,1590.5 L904.7,1590.2 L905.7,1593.3 L906.7,1598.5 L907.7,1600.3 L908.7,1597.3 L909.7,1593.7 L910.7,1594.2 L911.7,1595.2 L912.7,1594.9 L913.7,1595.4 L914.7,1596.8 L915.7,1596.8 L916.7,1597.6 L917.7,1599.1 L918.7,1598.5 L919.7,1595.5 L920.7,1595.5 L921.7,1596.6 L922.7,1597.3 L923.7,1596.3 L924.7,1597.9 L925.7,1597.2 L926.7,1594.3 L927.7,1591.2 L928.7,1591.9 L929.7,1592.3 L930.7,1592.9 L931.7,1592.8 L932.7,1594.6 L933.7,1595.6 L934.7,1596.8 L935.7,1597.9 L936.7,1599.0 L937.7,1599.5 L938.7,1600.0 L939.7,1599.9 L940.7,1599.0 L941.7,1595.6 L942.7,1591.7 L943.7,1590.0 L944.7,1591.8 L945.7,1594.9 L946.7,1596.7 L947.7,1598.5 L948.7,1599.2 L949.7,1599.6 L950.7,1598.3 L951.7,1596.6 L952.7,1596.3 L953.7,1594.1 L954.7,1593.8 L955.7,1593.6 L956.7,1597.3 L957.7,1597.1 L958.7,1598.0 L959.7,1597.2 L960.7,1597.4 L961.7,1595.3 L962.7,1594.3 L963.7,1594.0 L964.7,1595.2 L965.7,1594.0 L966.7,1593.8 L967.7,1595.0 L968.7,1597.4 L969.7,1597.0 L970.7,1597.8 L971.7,1598.3 L972.7,1597.6 L973.7,1596.7 L974.7,1596.4 L975.7,1597.0 L976.7,1595.5 L977.7,1595.1 L978.7,1593.4 L979.7,1593.4 L980.7,1594.2 L981.7,1595.5 L982.7,1594.2 L983.7,1592.4 L984.7,1591.9 L985.7,1592.3 L986.7,1595.5 L987.7,1597.2 L988.7,1597.2 L989.7,1596.2 L990.7,1595.7 L991.7,1596.0 L992.7,1596.2 L993.7,1594.2 L994.7,1592.5 L995.7,1595.2 L996.7,1596.7 L997.7,1596.4 L998.7,1595.8 L999.7,1595.6 L1000.7,1597.3 L1001.7,1599.4 L1002.7,1601.2 L1003.7,1601.4 L1004.7,1600.9 L1005.7,1600.1 L1006.7,1601.0 L1007.7,1601.8 L1008.7,1600.5 L1009.7,1599.4 L1010.7,1598.7 L1011.7,1599.5 L1012.7,1600.9 L1013.7,1601.1 L1014.7,1601.1 L1015.7,1601.7 L1016.7,1601.5 L1017.7,1601.0 L1018.7,1601.7 L1019.7,1601.6 L1020.7,1600.4 L1021.7,1601.8 L1022.7,1603.4 L1023.7,1602.2 L1024.7,1597.9 L1025.7,1597.5 L1026.7,1599.5 L1027.7,1600.6 L1028.7,1600.3 L1029.7,1602.1 L1030.7,1602.7 L1031.7,1601.9 L1032.7,1601.3 L1033.7,1603.0 L1034.7,1603.4 L1035.7,1603.4 L1036.7,1602.8 L1037.7,1602.4 L1038.7,1602.5 L1039.7,1602.1 L1040.7,1601.6 L1041.7,1602.1 L1042.7,1603.4 L1043.7,1603.4 L1044.7,1602.9 L1045.7,1602.3 L1046.7,1602.3 L1047.7,1602.4 L1048.7,1602.7 L1049.7,1602.9 L1050.7,1602.8 L1051.7,1602.7 L1052.7,1602.9 L1053.7,1603.4 L1054.7,1603.4 L1055.7,1603.4 L1056.7,1603.4 L1057.7,1602.8 L1058.7,1602.8 L1059.7,1603.3 L1060.7,1603.0 L1061.7,1603.1 L1062.7,1603.4" fill="none" stroke="#3C1EFA" stroke-width="1.8" stroke-linejoin="round"/>
<rect x="798.70" y="1340.60" width="264.40" height="262.80" fill="none" stroke="#111" stroke-width="1.5"/>
<line x1="797.95" y1="1603.40" x2="1063.85" y2="1603.40" stroke="#111" stroke-width="2.0"/>
<line x1="790.70" y1="1603.40" x2="798.70" y2="1603.40" stroke="#111" stroke-width="2.0"/>
<line x1="794.70" y1="1581.50" x2="798.70" y2="1581.50" stroke="#111" stroke-width="1.3"/>
<line x1="794.70" y1="1559.60" x2="798.70" y2="1559.60" stroke="#111" stroke-width="1.3"/>
<line x1="794.70" y1="1537.70" x2="798.70" y2="1537.70" stroke="#111" stroke-width="1.3"/>
<line x1="790.70" y1="1515.80" x2="798.70" y2="1515.80" stroke="#111" stroke-width="2.0"/>
<line x1="794.70" y1="1493.90" x2="798.70" y2="1493.90" stroke="#111" stroke-width="1.3"/>
<line x1="794.70" y1="1472.00" x2="798.70" y2="1472.00" stroke="#111" stroke-width="1.3"/>
<line x1="794.70" y1="1450.10" x2="798.70" y2="1450.10" stroke="#111" stroke-width="1.3"/>
<line x1="790.70" y1="1428.20" x2="798.70" y2="1428.20" stroke="#111" stroke-width="2.0"/>
<line x1="794.70" y1="1406.30" x2="798.70" y2="1406.30" stroke="#111" stroke-width="1.3"/>
<line x1="794.70" y1="1384.40" x2="798.70" y2="1384.40" stroke="#111" stroke-width="1.3"/>
<line x1="794.70" y1="1362.50" x2="798.70" y2="1362.50" stroke="#111" stroke-width="1.3"/>
<line x1="790.70" y1="1340.60" x2="798.70" y2="1340.60" stroke="#111" stroke-width="2.0"/>
<text x="786.70" y="1604.20" font-size="10.8" font-weight="bold" text-anchor="end" fill="#111">0</text>
<text x="786.70" y="1521.90" font-size="10.8" font-weight="bold" text-anchor="end" fill="#111">200</text>
<text x="786.70" y="1434.30" font-size="10.8" font-weight="bold" text-anchor="end" fill="#111">400</text>
<text x="786.70" y="1350.20" font-size="10.8" font-weight="bold" text-anchor="end" fill="#111">600</text>
<line x1="805.99" y1="1603.40" x2="805.99" y2="1608.20" stroke="#111" stroke-width="1.3"/>
<line x1="812.91" y1="1603.40" x2="812.91" y2="1608.20" stroke="#111" stroke-width="1.3"/>
<line x1="818.56" y1="1603.40" x2="818.56" y2="1608.20" stroke="#111" stroke-width="1.3"/>
<line x1="823.34" y1="1603.40" x2="823.34" y2="1608.20" stroke="#111" stroke-width="1.3"/>
<line x1="827.48" y1="1603.40" x2="827.48" y2="1608.20" stroke="#111" stroke-width="1.3"/>
<line x1="831.13" y1="1603.40" x2="831.13" y2="1608.20" stroke="#111" stroke-width="1.3"/>
<line x1="834.40" y1="1603.40" x2="834.40" y2="1611.00" stroke="#111" stroke-width="2.0"/>
<line x1="855.89" y1="1603.40" x2="855.89" y2="1608.20" stroke="#111" stroke-width="1.3"/>
<line x1="868.47" y1="1603.40" x2="868.47" y2="1608.20" stroke="#111" stroke-width="1.3"/>
<line x1="877.39" y1="1603.40" x2="877.39" y2="1608.20" stroke="#111" stroke-width="1.3"/>
<line x1="884.31" y1="1603.40" x2="884.31" y2="1608.20" stroke="#111" stroke-width="1.3"/>
<line x1="889.96" y1="1603.40" x2="889.96" y2="1608.20" stroke="#111" stroke-width="1.3"/>
<line x1="894.74" y1="1603.40" x2="894.74" y2="1608.20" stroke="#111" stroke-width="1.3"/>
<line x1="898.88" y1="1603.40" x2="898.88" y2="1608.20" stroke="#111" stroke-width="1.3"/>
<line x1="902.53" y1="1603.40" x2="902.53" y2="1608.20" stroke="#111" stroke-width="1.3"/>
<line x1="905.80" y1="1603.40" x2="905.80" y2="1611.00" stroke="#111" stroke-width="2.0"/>
<line x1="927.29" y1="1603.40" x2="927.29" y2="1608.20" stroke="#111" stroke-width="1.3"/>
<line x1="939.87" y1="1603.40" x2="939.87" y2="1608.20" stroke="#111" stroke-width="1.3"/>
<line x1="948.79" y1="1603.40" x2="948.79" y2="1608.20" stroke="#111" stroke-width="1.3"/>
<line x1="955.71" y1="1603.40" x2="955.71" y2="1608.20" stroke="#111" stroke-width="1.3"/>
<line x1="961.36" y1="1603.40" x2="961.36" y2="1608.20" stroke="#111" stroke-width="1.3"/>
<line x1="966.14" y1="1603.40" x2="966.14" y2="1608.20" stroke="#111" stroke-width="1.3"/>
<line x1="970.28" y1="1603.40" x2="970.28" y2="1608.20" stroke="#111" stroke-width="1.3"/>
<line x1="973.93" y1="1603.40" x2="973.93" y2="1608.20" stroke="#111" stroke-width="1.3"/>
<line x1="977.20" y1="1603.40" x2="977.20" y2="1611.00" stroke="#111" stroke-width="2.0"/>
<line x1="998.69" y1="1603.40" x2="998.69" y2="1608.20" stroke="#111" stroke-width="1.3"/>
<line x1="1011.27" y1="1603.40" x2="1011.27" y2="1608.20" stroke="#111" stroke-width="1.3"/>
<line x1="1020.19" y1="1603.40" x2="1020.19" y2="1608.20" stroke="#111" stroke-width="1.3"/>
<line x1="1027.11" y1="1603.40" x2="1027.11" y2="1608.20" stroke="#111" stroke-width="1.3"/>
<line x1="1032.76" y1="1603.40" x2="1032.76" y2="1608.20" stroke="#111" stroke-width="1.3"/>
<line x1="1037.54" y1="1603.40" x2="1037.54" y2="1608.20" stroke="#111" stroke-width="1.3"/>
<line x1="1041.68" y1="1603.40" x2="1041.68" y2="1608.20" stroke="#111" stroke-width="1.3"/>
<line x1="1045.33" y1="1603.40" x2="1045.33" y2="1608.20" stroke="#111" stroke-width="1.3"/>
<line x1="1048.60" y1="1603.40" x2="1048.60" y2="1611.00" stroke="#111" stroke-width="2.0"/>
<text x="834.10" y="1628.70" font-size="10" font-weight="bold" fill="#111">10</text>
<text x="845.40" y="1621.00" font-size="10" font-weight="bold" fill="#111">4</text>
<text x="905.50" y="1628.70" font-size="10" font-weight="bold" fill="#111">10</text>
<text x="916.80" y="1621.00" font-size="10" font-weight="bold" fill="#111">5</text>
<text x="976.90" y="1628.70" font-size="10" font-weight="bold" fill="#111">10</text>
<text x="988.20" y="1621.00" font-size="10" font-weight="bold" fill="#111">6</text>
<text x="1048.30" y="1628.70" font-size="10" font-weight="bold" fill="#111">10</text>
<text x="1059.60" y="1621.00" font-size="10" font-weight="bold" fill="#111">7</text>
<line x1="911.51" y1="1464.12" x2="1056.45" y2="1464.12" stroke="#111" stroke-width="2.0"/>
<line x1="911.51" y1="1459.62" x2="911.51" y2="1468.62" stroke="#111" stroke-width="2.0"/>
<line x1="1056.45" y1="1459.62" x2="1056.45" y2="1468.62" stroke="#111" stroke-width="2.0"/>
<text x="983.34" y="1436.62" font-size="11" font-weight="bold" text-anchor="middle" fill="#222">HA+</text>
<text x="983.34" y="1450.32" font-size="11" font-weight="bold" text-anchor="middle" fill="#222">23.2</text>
<line x1="40.50" y1="1657.70" x2="40.50" y2="1533.00" stroke="#000" stroke-width="4"/>
<path d="M33.5,1535.0 L40.5,1521.0 L47.5,1535.0 Z" fill="#000" stroke="none" stroke-width="1.5"/>
<line x1="38.50" y1="1655.70" x2="160.00" y2="1655.70" stroke="#000" stroke-width="4"/>
<path d="M158.0,1648.7 L172.0,1655.7 L158.0,1662.7 Z" fill="#000" stroke="none" stroke-width="1.5"/>
<text x="28.00" y="1587.00" font-size="22" text-anchor="middle" transform="rotate(-90 28.00 1587.00)">Count</text>
<text x="32.00" y="1688.00" font-size="22.5">HA (Alexa488)</text>
<text x="1095.50" y="691.00" font-size="40" font-weight="bold" fill="#222">d</text>
<text x="1553.00" y="689.50" font-size="29.4" font-weight="bold" text-anchor="middle" fill="#222">FLUAV-positive cells among MHCII-expressing cells</text>
<text x="1118.00" y="906.00" font-size="19.6" font-weight="bold" text-anchor="middle" transform="rotate(-90 1118.00 906.00)">FLUAV-positive cells</text>
<text x="1146.30" y="906.00" font-size="19.6" font-weight="bold" text-anchor="middle" transform="rotate(-90 1146.30 906.00)">among MHCII-positive cells(%)</text>
<rect x="1276.00" y="915.00" width="38.00" height="113.00" fill="#A8547C" stroke="#000" stroke-width="1.6"/>
<rect x="1333.60" y="870.30" width="38.00" height="157.70" fill="#A8547C" stroke="#000" stroke-width="1.6"/>
<line x1="1295.00" y1="905.70" x2="1295.00" y2="925.40" stroke="#000" stroke-width="1.5"/>
<line x1="1286.00" y1="905.70" x2="1304.00" y2="905.70" stroke="#000" stroke-width="1.5"/>
<line x1="1286.00" y1="925.40" x2="1304.00" y2="925.40" stroke="#000" stroke-width="1.5"/>
<line x1="1352.60" y1="863.90" x2="1352.60" y2="868.00" stroke="#000" stroke-width="1.5"/>
<line x1="1343.60" y1="863.90" x2="1361.60" y2="863.90" stroke="#000" stroke-width="1.5"/>
<line x1="1343.60" y1="868.00" x2="1361.60" y2="868.00" stroke="#000" stroke-width="1.5"/>
<circle cx="1282.40" cy="902.50" r="6.6" fill="#C44F88" stroke="#000" stroke-width="1.5"/>
<circle cx="1308.60" cy="908.90" r="6.6" fill="#C44F88" stroke="#000" stroke-width="1.5"/>
<circle cx="1295.30" cy="937.80" r="6.6" fill="#C44F88" stroke="#000" stroke-width="1.5"/>
<circle cx="1339.60" cy="872.50" r="6.6" fill="#C44F88" stroke="#000" stroke-width="1.5"/>
<circle cx="1365.80" cy="872.50" r="6.6" fill="#C44F88" stroke="#000" stroke-width="1.5"/>
<circle cx="1352.50" cy="859.60" r="6.6" fill="#C44F88" stroke="#000" stroke-width="1.5"/>
<line x1="1236.80" y1="757.40" x2="1353.20" y2="757.40" stroke="#000" stroke-width="3"/>
<line x1="1294.40" y1="821.70" x2="1353.20" y2="821.70" stroke="#000" stroke-width="3"/>
<line x1="1236.80" y1="879.60" x2="1295.60" y2="879.60" stroke="#000" stroke-width="3"/>
<text x="1295.00" y="745.40" font-size="19.3" text-anchor="middle">&lt;0.0001</text>
<text x="1323.80" y="808.80" font-size="19.3" text-anchor="middle">0.0005</text>
<text x="1266.20" y="866.70" font-size="19.3" text-anchor="middle">0.0403</text>
<line x1="1237.40" y1="1028.00" x2="1237.40" y2="1038.60" stroke="#000" stroke-width="2.4"/>
<line x1="1295.00" y1="1028.00" x2="1295.00" y2="1038.60" stroke="#000" stroke-width="2.4"/>
<line x1="1352.60" y1="1028.00" x2="1352.60" y2="1038.60" stroke="#000" stroke-width="2.4"/>
<circle cx="1224.80" cy="1028.00" r="6.6" fill="#C44F88" stroke="#000" stroke-width="1.5"/>
<circle cx="1237.40" cy="1028.00" r="6.6" fill="#C44F88" stroke="#000" stroke-width="1.5"/>
<circle cx="1250.00" cy="1028.00" r="6.6" fill="#C44F88" stroke="#000" stroke-width="1.5"/>
<text x="1241.40" y="1055.50" font-size="18.8" font-weight="bold" text-anchor="end" transform="rotate(-45 1241.40 1055.50)">Empty vector</text>
<text x="1299.00" y="1055.50" font-size="18.8" font-weight="bold" text-anchor="end" transform="rotate(-45 1299.00 1055.50)">HLA-DR</text>
<text x="1356.60" y="1055.50" font-size="18.8" font-weight="bold" text-anchor="end" transform="rotate(-45 1356.60 1055.50)">SLA-DR</text>
<rect x="1486.50" y="915.00" width="38.00" height="113.00" fill="#4150B4" stroke="#000" stroke-width="1.6"/>
<rect x="1544.10" y="845.70" width="38.00" height="182.30" fill="#4150B4" stroke="#000" stroke-width="1.6"/>
<line x1="1505.50" y1="912.00" x2="1505.50" y2="917.50" stroke="#000" stroke-width="1.5"/>
<line x1="1496.50" y1="912.00" x2="1514.50" y2="912.00" stroke="#000" stroke-width="1.5"/>
<line x1="1496.50" y1="917.50" x2="1514.50" y2="917.50" stroke="#000" stroke-width="1.5"/>
<line x1="1563.10" y1="841.40" x2="1563.10" y2="845.50" stroke="#000" stroke-width="1.5"/>
<line x1="1554.10" y1="841.40" x2="1572.10" y2="841.40" stroke="#000" stroke-width="1.5"/>
<line x1="1554.10" y1="845.50" x2="1572.10" y2="845.50" stroke="#000" stroke-width="1.5"/>
<circle cx="1492.90" cy="908.30" r="6.6" fill="#2A29A0" stroke="#000" stroke-width="1.5"/>
<circle cx="1519.00" cy="913.20" r="6.6" fill="#2A29A0" stroke="#000" stroke-width="1.5"/>
<circle cx="1492.90" cy="922.20" r="6.6" fill="#2A29A0" stroke="#000" stroke-width="1.5"/>
<circle cx="1550.70" cy="848.30" r="6.6" fill="#2A29A0" stroke="#000" stroke-width="1.5"/>
<circle cx="1563.10" cy="839.30" r="6.6" fill="#2A29A0" stroke="#000" stroke-width="1.5"/>
<circle cx="1576.40" cy="842.50" r="6.6" fill="#2A29A0" stroke="#000" stroke-width="1.5"/>
<line x1="1447.30" y1="757.40" x2="1563.70" y2="757.40" stroke="#000" stroke-width="3"/>
<line x1="1504.90" y1="821.70" x2="1563.70" y2="821.70" stroke="#000" stroke-width="3"/>
<line x1="1447.30" y1="879.60" x2="1506.10" y2="879.60" stroke="#000" stroke-width="3"/>
<text x="1505.50" y="745.40" font-size="19.3" text-anchor="middle">&lt;0.0001</text>
<text x="1534.30" y="808.80" font-size="19.3" text-anchor="middle">&lt;0.0001</text>
<text x="1476.70" y="866.70" font-size="19.3" text-anchor="middle">0.0402</text>
<line x1="1447.90" y1="1028.00" x2="1447.90" y2="1038.60" stroke="#000" stroke-width="2.4"/>
<line x1="1505.50" y1="1028.00" x2="1505.50" y2="1038.60" stroke="#000" stroke-width="2.4"/>
<line x1="1563.10" y1="1028.00" x2="1563.10" y2="1038.60" stroke="#000" stroke-width="2.4"/>
<circle cx="1435.30" cy="1028.00" r="6.6" fill="#2A29A0" stroke="#000" stroke-width="1.5"/>
<circle cx="1447.90" cy="1028.00" r="6.6" fill="#2A29A0" stroke="#000" stroke-width="1.5"/>
<circle cx="1460.50" cy="1028.00" r="6.6" fill="#2A29A0" stroke="#000" stroke-width="1.5"/>
<text x="1451.90" y="1055.50" font-size="18.8" font-weight="bold" text-anchor="end" transform="rotate(-45 1451.90 1055.50)">Empty vector</text>
<text x="1509.50" y="1055.50" font-size="18.8" font-weight="bold" text-anchor="end" transform="rotate(-45 1509.50 1055.50)">HLA-DR</text>
<text x="1567.10" y="1055.50" font-size="18.8" font-weight="bold" text-anchor="end" transform="rotate(-45 1567.10 1055.50)">SLA-DR</text>
<rect x="1697.50" y="915.00" width="38.00" height="113.00" fill="#A71E22" stroke="#000" stroke-width="1.6"/>
<rect x="1755.10" y="865.00" width="38.00" height="163.00" fill="#A71E22" stroke="#000" stroke-width="1.6"/>
<line x1="1716.50" y1="903.10" x2="1716.50" y2="928.20" stroke="#000" stroke-width="1.5"/>
<line x1="1707.50" y1="903.10" x2="1725.50" y2="903.10" stroke="#000" stroke-width="1.5"/>
<line x1="1707.50" y1="928.20" x2="1725.50" y2="928.20" stroke="#000" stroke-width="1.5"/>
<line x1="1774.10" y1="851.80" x2="1774.10" y2="880.50" stroke="#000" stroke-width="1.5"/>
<line x1="1765.10" y1="851.80" x2="1783.10" y2="851.80" stroke="#000" stroke-width="1.5"/>
<line x1="1765.10" y1="880.50" x2="1783.10" y2="880.50" stroke="#000" stroke-width="1.5"/>
<circle cx="1703.30" cy="905.70" r="6.6" fill="#B5341D" stroke="#000" stroke-width="1.5"/>
<circle cx="1729.00" cy="910.00" r="6.6" fill="#B5341D" stroke="#000" stroke-width="1.5"/>
<circle cx="1716.10" cy="929.70" r="6.6" fill="#B5341D" stroke="#000" stroke-width="1.5"/>
<circle cx="1761.00" cy="853.80" r="6.6" fill="#B5341D" stroke="#000" stroke-width="1.5"/>
<circle cx="1787.20" cy="861.50" r="6.6" fill="#B5341D" stroke="#000" stroke-width="1.5"/>
<circle cx="1774.00" cy="882.20" r="6.6" fill="#B5341D" stroke="#000" stroke-width="1.5"/>
<line x1="1658.30" y1="757.40" x2="1774.70" y2="757.40" stroke="#000" stroke-width="3"/>
<line x1="1715.90" y1="823.80" x2="1774.70" y2="823.80" stroke="#000" stroke-width="3"/>
<line x1="1658.30" y1="879.60" x2="1717.10" y2="879.60" stroke="#000" stroke-width="3"/>
<text x="1716.50" y="745.40" font-size="19.3" text-anchor="middle">&lt;0.0001</text>
<text x="1745.30" y="810.30" font-size="19.3" text-anchor="middle">0.0002</text>
<text x="1687.70" y="866.70" font-size="19.3" text-anchor="middle">0.0398</text>
<line x1="1658.90" y1="1028.00" x2="1658.90" y2="1038.60" stroke="#000" stroke-width="2.4"/>
<line x1="1716.50" y1="1028.00" x2="1716.50" y2="1038.60" stroke="#000" stroke-width="2.4"/>
<line x1="1774.10" y1="1028.00" x2="1774.10" y2="1038.60" stroke="#000" stroke-width="2.4"/>
<circle cx="1646.30" cy="1028.00" r="6.6" fill="#B5341D" stroke="#000" stroke-width="1.5"/>
<circle cx="1658.90" cy="1028.00" r="6.6" fill="#B5341D" stroke="#000" stroke-width="1.5"/>
<circle cx="1671.50" cy="1028.00" r="6.6" fill="#B5341D" stroke="#000" stroke-width="1.5"/>
<text x="1662.90" y="1055.50" font-size="18.8" font-weight="bold" text-anchor="end" transform="rotate(-45 1662.90 1055.50)">Empty vector</text>
<text x="1720.50" y="1055.50" font-size="18.8" font-weight="bold" text-anchor="end" transform="rotate(-45 1720.50 1055.50)">HLA-DR</text>
<text x="1778.10" y="1055.50" font-size="18.8" font-weight="bold" text-anchor="end" transform="rotate(-45 1778.10 1055.50)">SLA-DR</text>
<line x1="1199.60" y1="782.50" x2="1199.60" y2="1029.20" stroke="#000" stroke-width="2.6"/>
<line x1="1198.30" y1="1028.00" x2="1810.60" y2="1028.00" stroke="#000" stroke-width="2.6"/>
<line x1="1189.60" y1="1028.00" x2="1199.60" y2="1028.00" stroke="#000" stroke-width="2.6"/>
<text x="1185.60" y="1035.20" font-size="19.2" font-weight="bold" text-anchor="end">1</text>
<line x1="1189.60" y1="905.80" x2="1199.60" y2="905.80" stroke="#000" stroke-width="2.6"/>
<text x="1185.60" y="913.00" font-size="19.2" font-weight="bold" text-anchor="end">10</text>
<line x1="1189.60" y1="783.60" x2="1199.60" y2="783.60" stroke="#000" stroke-width="2.6"/>
<text x="1185.60" y="790.80" font-size="19.2" font-weight="bold" text-anchor="end">100</text>
<circle cx="1828.80" cy="802.00" r="6.4" fill="#C44F88" stroke="#000" stroke-width="1.5"/>
<text x="1856.60" y="809.00" font-size="19.5">A138S</text>
<circle cx="1828.80" cy="836.15" r="6.4" fill="#2A29A0" stroke="#000" stroke-width="1.5"/>
<text x="1856.60" y="843.15" font-size="19.5">V186G</text>
<circle cx="1828.80" cy="870.30" r="6.4" fill="#B5341D" stroke="#000" stroke-width="1.5"/>
<text x="1856.60" y="877.30" font-size="19.5">F193Y</text>
<text x="1092.00" y="1258.30" font-size="40" font-weight="bold" fill="#222">e</text>
<text x="1564.30" y="1266.00" font-size="29.4" font-weight="bold" text-anchor="middle" fill="#222">FLUAV-positive cells among total cells</text>
<text x="1136.00" y="1482.00" font-size="21.6" font-weight="bold" text-anchor="middle" transform="rotate(-90 1136.00 1482.00)">FLUAV-positive cells (%)</text>
<rect x="1216.60" y="1503.80" width="32.00" height="113.50" fill="#A8547C" stroke="#000" stroke-width="1.6"/>
<line x1="1232.60" y1="1486.00" x2="1232.60" y2="1529.00" stroke="#000" stroke-width="1.5"/>
<line x1="1223.60" y1="1486.00" x2="1241.60" y2="1486.00" stroke="#000" stroke-width="1.5"/>
<line x1="1223.60" y1="1529.00" x2="1241.60" y2="1529.00" stroke="#000" stroke-width="1.5"/>
<circle cx="1232.60" cy="1486.00" r="6.6" fill="#C44F88" stroke="#000" stroke-width="1.5"/>
<circle cx="1232.60" cy="1502.60" r="6.6" fill="#C44F88" stroke="#000" stroke-width="1.5"/>
<circle cx="1232.60" cy="1529.00" r="6.6" fill="#C44F88" stroke="#000" stroke-width="1.5"/>
<rect x="1266.15" y="1607.00" width="32.00" height="10.30" fill="#A8547C" stroke="#000" stroke-width="1.6"/>
<line x1="1282.15" y1="1589.00" x2="1282.15" y2="1617.30" stroke="#000" stroke-width="1.5"/>
<line x1="1273.15" y1="1589.00" x2="1291.15" y2="1589.00" stroke="#000" stroke-width="1.5"/>
<line x1="1273.15" y1="1617.30" x2="1291.15" y2="1617.30" stroke="#000" stroke-width="1.5"/>
<circle cx="1273.20" cy="1617.30" r="6.6" fill="#C44F88" stroke="#000" stroke-width="1.5"/>
<circle cx="1291.40" cy="1617.30" r="6.6" fill="#C44F88" stroke="#000" stroke-width="1.5"/>
<circle cx="1281.80" cy="1589.00" r="6.6" fill="#C44F88" stroke="#000" stroke-width="1.5"/>
<rect x="1315.70" y="1561.70" width="32.00" height="55.60" fill="#A8547C" stroke="#000" stroke-width="1.6"/>
<line x1="1331.70" y1="1544.60" x2="1331.70" y2="1583.50" stroke="#000" stroke-width="1.5"/>
<line x1="1322.70" y1="1544.60" x2="1340.70" y2="1544.60" stroke="#000" stroke-width="1.5"/>
<line x1="1322.70" y1="1583.50" x2="1340.70" y2="1583.50" stroke="#000" stroke-width="1.5"/>
<circle cx="1321.40" cy="1547.60" r="6.6" fill="#C44F88" stroke="#000" stroke-width="1.5"/>
<circle cx="1341.10" cy="1555.30" r="6.6" fill="#C44F88" stroke="#000" stroke-width="1.5"/>
<circle cx="1331.50" cy="1586.00" r="6.6" fill="#C44F88" stroke="#000" stroke-width="1.5"/>
<rect x="1365.25" y="1528.30" width="32.00" height="89.00" fill="#A8547C" stroke="#000" stroke-width="1.6"/>
<line x1="1381.25" y1="1508.60" x2="1381.25" y2="1555.70" stroke="#000" stroke-width="1.5"/>
<line x1="1372.25" y1="1508.60" x2="1390.25" y2="1508.60" stroke="#000" stroke-width="1.5"/>
<line x1="1372.25" y1="1555.70" x2="1390.25" y2="1555.70" stroke="#000" stroke-width="1.5"/>
<circle cx="1380.80" cy="1507.50" r="6.6" fill="#C44F88" stroke="#000" stroke-width="1.5"/>
<circle cx="1380.80" cy="1533.80" r="6.6" fill="#C44F88" stroke="#000" stroke-width="1.5"/>
<circle cx="1380.80" cy="1550.30" r="6.6" fill="#C44F88" stroke="#000" stroke-width="1.5"/>
<line x1="1232.60" y1="1617.30" x2="1232.60" y2="1628.50" stroke="#000" stroke-width="2.4"/>
<text x="1236.60" y="1646.50" font-size="20.6" font-weight="bold" text-anchor="end" transform="rotate(-45 1236.60 1646.50)">Untreated</text>
<line x1="1282.15" y1="1617.30" x2="1282.15" y2="1628.50" stroke="#000" stroke-width="2.4"/>
<text x="1286.15" y="1646.50" font-size="20.6" font-weight="bold" text-anchor="end" transform="rotate(-45 1286.15 1646.50)">Empty vector</text>
<line x1="1331.70" y1="1617.30" x2="1331.70" y2="1628.50" stroke="#000" stroke-width="2.4"/>
<text x="1335.70" y="1646.50" font-size="20.6" font-weight="bold" text-anchor="end" transform="rotate(-45 1335.70 1646.50)">HLA-DR</text>
<line x1="1381.25" y1="1617.30" x2="1381.25" y2="1628.50" stroke="#000" stroke-width="2.4"/>
<text x="1385.25" y="1646.50" font-size="20.6" font-weight="bold" text-anchor="end" transform="rotate(-45 1385.25 1646.50)">SLA-DR</text>
<line x1="1281.55" y1="1373.10" x2="1381.85" y2="1373.10" stroke="#000" stroke-width="3"/>
<text x="1331.70" y="1359.20" font-size="19.3" text-anchor="middle">0.0322</text>
<line x1="1331.10" y1="1432.00" x2="1381.85" y2="1432.00" stroke="#000" stroke-width="3"/>
<text x="1356.47" y="1418.00" font-size="19.3" text-anchor="middle">0.5502</text>
<line x1="1281.55" y1="1491.20" x2="1332.30" y2="1491.20" stroke="#000" stroke-width="3"/>
<text x="1306.92" y="1477.00" font-size="19.3" text-anchor="middle">0.8988</text>
<rect x="1447.40" y="1528.00" width="32.00" height="89.30" fill="#4150B4" stroke="#000" stroke-width="1.6"/>
<line x1="1463.40" y1="1518.60" x2="1463.40" y2="1538.60" stroke="#000" stroke-width="1.5"/>
<line x1="1454.40" y1="1518.60" x2="1472.40" y2="1518.60" stroke="#000" stroke-width="1.5"/>
<line x1="1454.40" y1="1538.60" x2="1472.40" y2="1538.60" stroke="#000" stroke-width="1.5"/>
<circle cx="1453.70" cy="1519.40" r="6.6" fill="#2A29A0" stroke="#000" stroke-width="1.5"/>
<circle cx="1473.40" cy="1525.00" r="6.6" fill="#2A29A0" stroke="#000" stroke-width="1.5"/>
<circle cx="1463.40" cy="1539.40" r="6.6" fill="#2A29A0" stroke="#000" stroke-width="1.5"/>
<line x1="1512.95" y1="1604.30" x2="1512.95" y2="1617.30" stroke="#000" stroke-width="1.5"/>
<line x1="1503.95" y1="1604.30" x2="1521.95" y2="1604.30" stroke="#000" stroke-width="1.5"/>
<line x1="1503.95" y1="1617.30" x2="1521.95" y2="1617.30" stroke="#000" stroke-width="1.5"/>
<circle cx="1502.90" cy="1617.30" r="6.6" fill="#2A29A0" stroke="#000" stroke-width="1.5"/>
<circle cx="1522.00" cy="1617.30" r="6.6" fill="#2A29A0" stroke="#000" stroke-width="1.5"/>
<circle cx="1512.30" cy="1604.30" r="6.6" fill="#2A29A0" stroke="#000" stroke-width="1.5"/>
<rect x="1546.50" y="1562.90" width="32.00" height="54.40" fill="#4150B4" stroke="#000" stroke-width="1.6"/>
<line x1="1562.50" y1="1545.70" x2="1562.50" y2="1582.30" stroke="#000" stroke-width="1.5"/>
<line x1="1553.50" y1="1545.70" x2="1571.50" y2="1545.70" stroke="#000" stroke-width="1.5"/>
<line x1="1553.50" y1="1582.30" x2="1571.50" y2="1582.30" stroke="#000" stroke-width="1.5"/>
<circle cx="1562.00" cy="1545.00" r="6.6" fill="#2A29A0" stroke="#000" stroke-width="1.5"/>
<circle cx="1572.00" cy="1569.00" r="6.6" fill="#2A29A0" stroke="#000" stroke-width="1.5"/>
<circle cx="1552.90" cy="1577.00" r="6.6" fill="#2A29A0" stroke="#000" stroke-width="1.5"/>
<rect x="1596.05" y="1520.90" width="32.00" height="96.40" fill="#4150B4" stroke="#000" stroke-width="1.6"/>
<line x1="1612.05" y1="1510.00" x2="1612.05" y2="1530.90" stroke="#000" stroke-width="1.5"/>
<line x1="1603.05" y1="1510.00" x2="1621.05" y2="1510.00" stroke="#000" stroke-width="1.5"/>
<line x1="1603.05" y1="1530.90" x2="1621.05" y2="1530.90" stroke="#000" stroke-width="1.5"/>
<circle cx="1602.00" cy="1510.90" r="6.6" fill="#2A29A0" stroke="#000" stroke-width="1.5"/>
<circle cx="1621.40" cy="1518.60" r="6.6" fill="#2A29A0" stroke="#000" stroke-width="1.5"/>
<circle cx="1611.40" cy="1532.90" r="6.6" fill="#2A29A0" stroke="#000" stroke-width="1.5"/>
<line x1="1463.40" y1="1617.30" x2="1463.40" y2="1628.50" stroke="#000" stroke-width="2.4"/>
<text x="1467.40" y="1646.50" font-size="20.6" font-weight="bold" text-anchor="end" transform="rotate(-45 1467.40 1646.50)">Untreated</text>
<line x1="1512.95" y1="1617.30" x2="1512.95" y2="1628.50" stroke="#000" stroke-width="2.4"/>
<text x="1516.95" y="1646.50" font-size="20.6" font-weight="bold" text-anchor="end" transform="rotate(-45 1516.95 1646.50)">Empty vector</text>
<line x1="1562.50" y1="1617.30" x2="1562.50" y2="1628.50" stroke="#000" stroke-width="2.4"/>
<text x="1566.50" y="1646.50" font-size="20.6" font-weight="bold" text-anchor="end" transform="rotate(-45 1566.50 1646.50)">HLA-DR</text>
<line x1="1612.05" y1="1617.30" x2="1612.05" y2="1628.50" stroke="#000" stroke-width="2.4"/>
<text x="1616.05" y="1646.50" font-size="20.6" font-weight="bold" text-anchor="end" transform="rotate(-45 1616.05 1646.50)">SLA-DR</text>
<line x1="1512.35" y1="1373.10" x2="1612.65" y2="1373.10" stroke="#000" stroke-width="3"/>
<text x="1562.50" y="1359.20" font-size="19.3" text-anchor="middle">0.0046</text>
<line x1="1512.35" y1="1432.00" x2="1563.10" y2="1432.00" stroke="#000" stroke-width="3"/>
<text x="1537.72" y="1418.00" font-size="19.3" text-anchor="middle">0.8664</text>
<line x1="1561.90" y1="1491.20" x2="1612.65" y2="1491.20" stroke="#000" stroke-width="3"/>
<text x="1587.28" y="1477.00" font-size="19.3" text-anchor="middle">0.1761</text>
<rect x="1677.70" y="1505.70" width="32.00" height="111.60" fill="#A71E22" stroke="#000" stroke-width="1.6"/>
<line x1="1693.70" y1="1496.60" x2="1693.70" y2="1514.30" stroke="#000" stroke-width="1.5"/>
<line x1="1684.70" y1="1496.60" x2="1702.70" y2="1496.60" stroke="#000" stroke-width="1.5"/>
<line x1="1684.70" y1="1514.30" x2="1702.70" y2="1514.30" stroke="#000" stroke-width="1.5"/>
<circle cx="1684.30" cy="1498.60" r="6.6" fill="#B5341D" stroke="#000" stroke-width="1.5"/>
<circle cx="1704.30" cy="1500.90" r="6.6" fill="#B5341D" stroke="#000" stroke-width="1.5"/>
<circle cx="1693.70" cy="1517.70" r="6.6" fill="#B5341D" stroke="#000" stroke-width="1.5"/>
<circle cx="1733.40" cy="1617.30" r="6.6" fill="#B5341D" stroke="#000" stroke-width="1.5"/>
<circle cx="1742.90" cy="1617.30" r="6.6" fill="#B5341D" stroke="#000" stroke-width="1.5"/>
<circle cx="1753.40" cy="1617.30" r="6.6" fill="#B5341D" stroke="#000" stroke-width="1.5"/>
<rect x="1776.80" y="1584.30" width="32.00" height="33.00" fill="#A71E22" stroke="#000" stroke-width="1.6"/>
<line x1="1792.80" y1="1565.70" x2="1792.80" y2="1605.70" stroke="#000" stroke-width="1.5"/>
<line x1="1783.80" y1="1565.70" x2="1801.80" y2="1565.70" stroke="#000" stroke-width="1.5"/>
<line x1="1783.80" y1="1605.70" x2="1801.80" y2="1605.70" stroke="#000" stroke-width="1.5"/>
<circle cx="1792.90" cy="1565.00" r="6.6" fill="#B5341D" stroke="#000" stroke-width="1.5"/>
<circle cx="1792.90" cy="1587.00" r="6.6" fill="#B5341D" stroke="#000" stroke-width="1.5"/>
<circle cx="1792.90" cy="1604.30" r="6.6" fill="#B5341D" stroke="#000" stroke-width="1.5"/>
<rect x="1826.35" y="1530.90" width="32.00" height="86.40" fill="#A71E22" stroke="#000" stroke-width="1.6"/>
<line x1="1842.35" y1="1517.70" x2="1842.35" y2="1546.30" stroke="#000" stroke-width="1.5"/>
<line x1="1833.35" y1="1517.70" x2="1851.35" y2="1517.70" stroke="#000" stroke-width="1.5"/>
<line x1="1833.35" y1="1546.30" x2="1851.35" y2="1546.30" stroke="#000" stroke-width="1.5"/>
<circle cx="1832.90" cy="1520.60" r="6.6" fill="#B5341D" stroke="#000" stroke-width="1.5"/>
<circle cx="1852.90" cy="1525.10" r="6.6" fill="#B5341D" stroke="#000" stroke-width="1.5"/>
<circle cx="1842.30" cy="1548.00" r="6.6" fill="#B5341D" stroke="#000" stroke-width="1.5"/>
<line x1="1693.70" y1="1617.30" x2="1693.70" y2="1628.50" stroke="#000" stroke-width="2.4"/>
<text x="1697.70" y="1646.50" font-size="20.6" font-weight="bold" text-anchor="end" transform="rotate(-45 1697.70 1646.50)">Untreated</text>
<line x1="1743.25" y1="1617.30" x2="1743.25" y2="1628.50" stroke="#000" stroke-width="2.4"/>
<text x="1747.25" y="1646.50" font-size="20.6" font-weight="bold" text-anchor="end" transform="rotate(-45 1747.25 1646.50)">Empty vector</text>
<line x1="1792.80" y1="1617.30" x2="1792.80" y2="1628.50" stroke="#000" stroke-width="2.4"/>
<text x="1796.80" y="1646.50" font-size="20.6" font-weight="bold" text-anchor="end" transform="rotate(-45 1796.80 1646.50)">HLA-DR</text>
<line x1="1842.35" y1="1617.30" x2="1842.35" y2="1628.50" stroke="#000" stroke-width="2.4"/>
<text x="1846.35" y="1646.50" font-size="20.6" font-weight="bold" text-anchor="end" transform="rotate(-45 1846.35 1646.50)">SLA-DR</text>
<line x1="1742.65" y1="1373.10" x2="1842.95" y2="1373.10" stroke="#000" stroke-width="3"/>
<text x="1792.80" y="1359.20" font-size="19.3" text-anchor="middle">0.0294</text>
<line x1="1792.20" y1="1432.00" x2="1842.95" y2="1432.00" stroke="#000" stroke-width="3"/>
<text x="1817.57" y="1418.00" font-size="19.3" text-anchor="middle">0.1798</text>
<line x1="1742.65" y1="1491.20" x2="1793.40" y2="1491.20" stroke="#000" stroke-width="3"/>
<text x="1768.03" y="1477.00" font-size="19.3" text-anchor="middle">0.9987</text>
<line x1="1193.40" y1="1760.70" x2="1364.40" y2="1760.70" stroke="#000" stroke-width="3"/>
<text x="1278.90" y="1781.20" font-size="16" text-anchor="middle">+100 mU</text>
<text x="1278.90" y="1800.50" font-size="16" text-anchor="middle">neuraminidase</text>
<line x1="1424.30" y1="1760.70" x2="1595.20" y2="1760.70" stroke="#000" stroke-width="3"/>
<text x="1509.75" y="1781.20" font-size="16" text-anchor="middle">+100 mU</text>
<text x="1509.75" y="1800.50" font-size="16" text-anchor="middle">neuraminidase</text>
<line x1="1659.60" y1="1760.70" x2="1830.50" y2="1760.70" stroke="#000" stroke-width="3"/>
<text x="1745.05" y="1781.20" font-size="16" text-anchor="middle">+100 mU</text>
<text x="1745.05" y="1800.50" font-size="16" text-anchor="middle">neuraminidase</text>
<line x1="1199.70" y1="1346.00" x2="1199.70" y2="1618.50" stroke="#000" stroke-width="2.6"/>
<line x1="1198.40" y1="1617.30" x2="1875.60" y2="1617.30" stroke="#000" stroke-width="2.6"/>
<line x1="1189.70" y1="1617.30" x2="1199.70" y2="1617.30" stroke="#000" stroke-width="2.6"/>
<text x="1183.70" y="1625.40" font-size="21.5" font-weight="bold" text-anchor="end">1</text>
<line x1="1189.70" y1="1482.00" x2="1199.70" y2="1482.00" stroke="#000" stroke-width="2.6"/>
<text x="1183.70" y="1490.10" font-size="21.5" font-weight="bold" text-anchor="end">10</text>
<line x1="1189.70" y1="1346.70" x2="1199.70" y2="1346.70" stroke="#000" stroke-width="2.6"/>
<text x="1183.70" y="1354.80" font-size="21.5" font-weight="bold" text-anchor="end">100</text>
<text x="5.00" y="1926.50" font-size="40" font-weight="bold" fill="#222">f</text>
<text x="352.09" y="1935.50" font-size="29.1" font-weight="bold" text-anchor="middle">hVIC/11-A138S</text>
<rect x="121.20" y="2227.72" width="461.77" height="50.88" fill="#B4B4B4" stroke="none" stroke-width="1.5"/>
<text x="43.80" y="2127.6" font-size="24.4" font-weight="bold" text-anchor="middle" transform="rotate(-90 43.80 2127.6)">Viral Titer (TCID<tspan font-size="17" dy="5">50</tspan><tspan dy="-5">eq/mL)</tspan></text>
<line x1="108.70" y1="2278.60" x2="121.20" y2="2278.60" stroke="#000" stroke-width="2.8"/>
<text x="93.20" y="2287.60" font-size="24.3" font-weight="bold" text-anchor="end">10</text>
<text x="104.00" y="2280.40" font-size="17.5" font-weight="bold" text-anchor="end">0</text>
<line x1="108.70" y1="2227.72" x2="121.20" y2="2227.72" stroke="#000" stroke-width="2.8"/>
<text x="93.20" y="2236.72" font-size="24.3" font-weight="bold" text-anchor="end">10</text>
<text x="104.00" y="2229.52" font-size="17.5" font-weight="bold" text-anchor="end">1</text>
<line x1="108.70" y1="2176.84" x2="121.20" y2="2176.84" stroke="#000" stroke-width="2.8"/>
<text x="93.20" y="2185.84" font-size="24.3" font-weight="bold" text-anchor="end">10</text>
<text x="104.00" y="2178.64" font-size="17.5" font-weight="bold" text-anchor="end">2</text>
<line x1="108.70" y1="2125.96" x2="121.20" y2="2125.96" stroke="#000" stroke-width="2.8"/>
<text x="93.20" y="2134.96" font-size="24.3" font-weight="bold" text-anchor="end">10</text>
<text x="104.00" y="2127.76" font-size="17.5" font-weight="bold" text-anchor="end">3</text>
<line x1="108.70" y1="2075.08" x2="121.20" y2="2075.08" stroke="#000" stroke-width="2.8"/>
<text x="93.20" y="2084.08" font-size="24.3" font-weight="bold" text-anchor="end">10</text>
<text x="104.00" y="2076.88" font-size="17.5" font-weight="bold" text-anchor="end">4</text>
<line x1="108.70" y1="2024.20" x2="121.20" y2="2024.20" stroke="#000" stroke-width="2.8"/>
<text x="93.20" y="2033.20" font-size="24.3" font-weight="bold" text-anchor="end">10</text>
<text x="104.00" y="2026.00" font-size="17.5" font-weight="bold" text-anchor="end">5</text>
<line x1="108.70" y1="1973.32" x2="121.20" y2="1973.32" stroke="#000" stroke-width="2.8"/>
<text x="93.20" y="1982.32" font-size="24.3" font-weight="bold" text-anchor="end">10</text>
<text x="104.00" y="1975.12" font-size="17.5" font-weight="bold" text-anchor="end">6</text>
<line x1="121.20" y1="2278.60" x2="121.20" y2="2291.10" stroke="#000" stroke-width="2.8"/>
<line x1="134.03" y1="2278.60" x2="134.03" y2="2285.60" stroke="#000" stroke-width="2.4"/>
<line x1="146.85" y1="2278.60" x2="146.85" y2="2285.60" stroke="#000" stroke-width="2.4"/>
<line x1="159.68" y1="2278.60" x2="159.68" y2="2285.60" stroke="#000" stroke-width="2.4"/>
<line x1="172.51" y1="2278.60" x2="172.51" y2="2285.60" stroke="#000" stroke-width="2.4"/>
<line x1="185.34" y1="2278.60" x2="185.34" y2="2285.60" stroke="#000" stroke-width="2.4"/>
<line x1="198.16" y1="2278.60" x2="198.16" y2="2291.10" stroke="#000" stroke-width="2.8"/>
<line x1="210.99" y1="2278.60" x2="210.99" y2="2285.60" stroke="#000" stroke-width="2.4"/>
<line x1="223.82" y1="2278.60" x2="223.82" y2="2285.60" stroke="#000" stroke-width="2.4"/>
<line x1="236.64" y1="2278.60" x2="236.64" y2="2285.60" stroke="#000" stroke-width="2.4"/>
<line x1="249.47" y1="2278.60" x2="249.47" y2="2285.60" stroke="#000" stroke-width="2.4"/>
<line x1="262.30" y1="2278.60" x2="262.30" y2="2285.60" stroke="#000" stroke-width="2.4"/>
<line x1="275.12" y1="2278.60" x2="275.12" y2="2291.10" stroke="#000" stroke-width="2.8"/>
<line x1="287.95" y1="2278.60" x2="287.95" y2="2285.60" stroke="#000" stroke-width="2.4"/>
<line x1="300.78" y1="2278.60" x2="300.78" y2="2285.60" stroke="#000" stroke-width="2.4"/>
<line x1="313.61" y1="2278.60" x2="313.61" y2="2285.60" stroke="#000" stroke-width="2.4"/>
<line x1="326.43" y1="2278.60" x2="326.43" y2="2285.60" stroke="#000" stroke-width="2.4"/>
<line x1="339.26" y1="2278.60" x2="339.26" y2="2285.60" stroke="#000" stroke-width="2.4"/>
<line x1="352.09" y1="2278.60" x2="352.09" y2="2285.60" stroke="#000" stroke-width="2.4"/>
<line x1="364.91" y1="2278.60" x2="364.91" y2="2285.60" stroke="#000" stroke-width="2.4"/>
<line x1="377.74" y1="2278.60" x2="377.74" y2="2285.60" stroke="#000" stroke-width="2.4"/>
<line x1="390.57" y1="2278.60" x2="390.57" y2="2285.60" stroke="#000" stroke-width="2.4"/>
<line x1="403.39" y1="2278.60" x2="403.39" y2="2285.60" stroke="#000" stroke-width="2.4"/>
<line x1="416.22" y1="2278.60" x2="416.22" y2="2285.60" stroke="#000" stroke-width="2.4"/>
<line x1="429.05" y1="2278.60" x2="429.05" y2="2291.10" stroke="#000" stroke-width="2.8"/>
<line x1="441.88" y1="2278.60" x2="441.88" y2="2285.60" stroke="#000" stroke-width="2.4"/>
<line x1="454.70" y1="2278.60" x2="454.70" y2="2285.60" stroke="#000" stroke-width="2.4"/>
<line x1="467.53" y1="2278.60" x2="467.53" y2="2285.60" stroke="#000" stroke-width="2.4"/>
<line x1="480.36" y1="2278.60" x2="480.36" y2="2285.60" stroke="#000" stroke-width="2.4"/>
<line x1="493.18" y1="2278.60" x2="493.18" y2="2285.60" stroke="#000" stroke-width="2.4"/>
<line x1="506.01" y1="2278.60" x2="506.01" y2="2285.60" stroke="#000" stroke-width="2.4"/>
<line x1="518.84" y1="2278.60" x2="518.84" y2="2285.60" stroke="#000" stroke-width="2.4"/>
<line x1="531.66" y1="2278.60" x2="531.66" y2="2285.60" stroke="#000" stroke-width="2.4"/>
<line x1="544.49" y1="2278.60" x2="544.49" y2="2285.60" stroke="#000" stroke-width="2.4"/>
<line x1="557.32" y1="2278.60" x2="557.32" y2="2285.60" stroke="#000" stroke-width="2.4"/>
<line x1="570.14" y1="2278.60" x2="570.14" y2="2285.60" stroke="#000" stroke-width="2.4"/>
<line x1="582.97" y1="2278.60" x2="582.97" y2="2291.10" stroke="#000" stroke-width="2.8"/>
<text x="121.20" y="2316.70" font-size="21" font-weight="bold" text-anchor="middle">0</text>
<text x="198.16" y="2316.70" font-size="21" font-weight="bold" text-anchor="middle">12</text>
<text x="275.12" y="2316.70" font-size="21" font-weight="bold" text-anchor="middle">24</text>
<text x="429.05" y="2316.70" font-size="21" font-weight="bold" text-anchor="middle">48</text>
<text x="582.97" y="2316.70" font-size="21" font-weight="bold" text-anchor="middle">72</text>
<text x="352.09" y="2352.50" font-size="24.5" font-weight="bold" text-anchor="middle">Hours post infection</text>
<text x="602.70" y="2233.90" font-size="25.5">L.D</text>
<line x1="121.20" y1="2227.72" x2="582.97" y2="2227.72" stroke="#000" stroke-width="2.0" stroke-dasharray="1.6 4.6"/>
<path d="M121.20,2211.40 L198.16,2103.20 L275.12,2068.90 L429.05,1998.90 L582.97,2000.80" fill="none" stroke="#111" stroke-width="1.7"/>
<path d="M121.20,2198.00 L198.16,2157.30 L275.12,2116.00 L429.05,2089.50 L582.97,2106.70" fill="none" stroke="#F09828" stroke-width="1.7"/>
<path d="M121.20,2193.10 L198.16,2125.40 L275.12,2082.10 L429.05,2068.60 L582.97,2074.30" fill="none" stroke="#111" stroke-width="1.7"/>
<path d="M121.20,2228.00 L198.16,2228.00 L275.12,2228.00 L429.05,2228.00 L582.97,2228.00" fill="none" stroke="#3D50F0" stroke-width="1.7"/>
<path d="M121.20,2177.10 L198.16,2071.40 L275.12,2046.90 L429.05,1991.60 L582.97,1990.50" fill="none" stroke="#E0203A" stroke-width="1.7"/>
<line x1="198.16" y1="2091.10" x2="198.16" y2="2103.20" stroke="#000" stroke-width="1.6"/>
<line x1="190.26" y1="2091.10" x2="206.06" y2="2091.10" stroke="#000" stroke-width="1.6"/>
<line x1="275.12" y1="2059.00" x2="275.12" y2="2068.90" stroke="#000" stroke-width="1.6"/>
<line x1="267.22" y1="2059.00" x2="283.02" y2="2059.00" stroke="#000" stroke-width="1.6"/>
<line x1="429.05" y1="1983.60" x2="429.05" y2="1998.90" stroke="#000" stroke-width="1.6"/>
<line x1="421.15" y1="1983.60" x2="436.95" y2="1983.60" stroke="#000" stroke-width="1.6"/>
<line x1="429.05" y1="1998.90" x2="429.05" y2="2035.40" stroke="#000" stroke-width="1.6"/>
<line x1="421.15" y1="2035.40" x2="436.95" y2="2035.40" stroke="#000" stroke-width="1.6"/>
<line x1="582.97" y1="2000.80" x2="582.97" y2="2007.60" stroke="#000" stroke-width="1.6"/>
<line x1="575.07" y1="2007.60" x2="590.87" y2="2007.60" stroke="#000" stroke-width="1.6"/>
<line x1="198.16" y1="2142.00" x2="198.16" y2="2157.30" stroke="#000" stroke-width="1.6"/>
<line x1="190.26" y1="2142.00" x2="206.06" y2="2142.00" stroke="#000" stroke-width="1.6"/>
<line x1="275.12" y1="2108.20" x2="275.12" y2="2116.00" stroke="#000" stroke-width="1.6"/>
<line x1="267.22" y1="2108.20" x2="283.02" y2="2108.20" stroke="#000" stroke-width="1.6"/>
<line x1="275.12" y1="2116.00" x2="275.12" y2="2142.00" stroke="#000" stroke-width="1.6"/>
<line x1="267.22" y1="2142.00" x2="283.02" y2="2142.00" stroke="#000" stroke-width="1.6"/>
<line x1="429.05" y1="2089.50" x2="429.05" y2="2137.90" stroke="#000" stroke-width="1.6"/>
<line x1="421.15" y1="2137.90" x2="436.95" y2="2137.90" stroke="#000" stroke-width="1.6"/>
<line x1="582.97" y1="2095.20" x2="582.97" y2="2106.70" stroke="#000" stroke-width="1.6"/>
<line x1="575.07" y1="2095.20" x2="590.87" y2="2095.20" stroke="#000" stroke-width="1.6"/>
<line x1="582.97" y1="2106.70" x2="582.97" y2="2134.50" stroke="#000" stroke-width="1.6"/>
<line x1="575.07" y1="2134.50" x2="590.87" y2="2134.50" stroke="#000" stroke-width="1.6"/>
<line x1="275.12" y1="2082.10" x2="275.12" y2="2104.60" stroke="#000" stroke-width="1.6"/>
<line x1="267.22" y1="2104.60" x2="283.02" y2="2104.60" stroke="#000" stroke-width="1.6"/>
<line x1="429.05" y1="2062.00" x2="429.05" y2="2068.60" stroke="#000" stroke-width="1.6"/>
<line x1="421.15" y1="2062.00" x2="436.95" y2="2062.00" stroke="#000" stroke-width="1.6"/>
<line x1="582.97" y1="2065.90" x2="582.97" y2="2074.30" stroke="#000" stroke-width="1.6"/>
<line x1="575.07" y1="2065.90" x2="590.87" y2="2065.90" stroke="#000" stroke-width="1.6"/>
<line x1="582.97" y1="2074.30" x2="582.97" y2="2088.80" stroke="#000" stroke-width="1.6"/>
<line x1="575.07" y1="2088.80" x2="590.87" y2="2088.80" stroke="#000" stroke-width="1.6"/>
<line x1="121.20" y1="2163.80" x2="121.20" y2="2177.10" stroke="#000" stroke-width="1.6"/>
<line x1="113.30" y1="2163.80" x2="129.10" y2="2163.80" stroke="#000" stroke-width="1.6"/>
<line x1="198.16" y1="2063.90" x2="198.16" y2="2071.40" stroke="#000" stroke-width="1.6"/>
<line x1="190.26" y1="2063.90" x2="206.06" y2="2063.90" stroke="#000" stroke-width="1.6"/>
<line x1="198.16" y1="2071.40" x2="198.16" y2="2084.30" stroke="#000" stroke-width="1.6"/>
<line x1="190.26" y1="2084.30" x2="206.06" y2="2084.30" stroke="#000" stroke-width="1.6"/>
<line x1="275.12" y1="2038.00" x2="275.12" y2="2046.90" stroke="#000" stroke-width="1.6"/>
<line x1="267.22" y1="2038.00" x2="283.02" y2="2038.00" stroke="#000" stroke-width="1.6"/>
<line x1="275.12" y1="2046.90" x2="275.12" y2="2059.30" stroke="#000" stroke-width="1.6"/>
<line x1="267.22" y1="2059.30" x2="283.02" y2="2059.30" stroke="#000" stroke-width="1.6"/>
<line x1="429.05" y1="1983.60" x2="429.05" y2="1991.60" stroke="#000" stroke-width="1.6"/>
<line x1="421.15" y1="1983.60" x2="436.95" y2="1983.60" stroke="#000" stroke-width="1.6"/>
<line x1="121.20" y1="2227.72" x2="582.97" y2="2227.72" stroke="#000" stroke-width="1.6" stroke-dasharray="1.6 4.6" opacity="0.75"/>
<circle cx="121.20" cy="2211.40" r="7.4" fill="#fff" stroke="#000" stroke-width="1.6"/>
<circle cx="198.16" cy="2103.20" r="7.4" fill="#fff" stroke="#000" stroke-width="1.6"/>
<circle cx="275.12" cy="2068.90" r="7.4" fill="#fff" stroke="#000" stroke-width="1.6"/>
<circle cx="429.05" cy="1998.90" r="7.4" fill="#fff" stroke="#000" stroke-width="1.6"/>
<circle cx="582.97" cy="2000.80" r="7.4" fill="#fff" stroke="#000" stroke-width="1.6"/>
<circle cx="121.20" cy="2198.00" r="7.4" fill="#EE9A2E" stroke="#000" stroke-width="1.6"/>
<circle cx="198.16" cy="2157.30" r="7.4" fill="#EE9A2E" stroke="#000" stroke-width="1.6"/>
<circle cx="275.12" cy="2116.00" r="7.4" fill="#EE9A2E" stroke="#000" stroke-width="1.6"/>
<circle cx="429.05" cy="2089.50" r="7.4" fill="#EE9A2E" stroke="#000" stroke-width="1.6"/>
<circle cx="582.97" cy="2106.70" r="7.4" fill="#EE9A2E" stroke="#000" stroke-width="1.6"/>
<circle cx="121.20" cy="2193.10" r="7.4" fill="#1E1E1E" stroke="#000" stroke-width="1.6"/>
<circle cx="198.16" cy="2125.40" r="7.4" fill="#1E1E1E" stroke="#000" stroke-width="1.6"/>
<circle cx="275.12" cy="2082.10" r="7.4" fill="#1E1E1E" stroke="#000" stroke-width="1.6"/>
<circle cx="429.05" cy="2068.60" r="7.4" fill="#1E1E1E" stroke="#000" stroke-width="1.6"/>
<circle cx="582.97" cy="2074.30" r="7.4" fill="#1E1E1E" stroke="#000" stroke-width="1.6"/>
<circle cx="121.20" cy="2228.00" r="7.4" fill="#4257F2" stroke="#000" stroke-width="1.6"/>
<circle cx="198.16" cy="2228.00" r="7.4" fill="#4257F2" stroke="#000" stroke-width="1.6"/>
<circle cx="275.12" cy="2228.00" r="7.4" fill="#4257F2" stroke="#000" stroke-width="1.6"/>
<circle cx="429.05" cy="2228.00" r="7.4" fill="#4257F2" stroke="#000" stroke-width="1.6"/>
<circle cx="582.97" cy="2228.00" r="7.4" fill="#4257F2" stroke="#000" stroke-width="1.6"/>
<circle cx="121.20" cy="2177.10" r="7.4" fill="#D42138" stroke="#000" stroke-width="1.6"/>
<circle cx="198.16" cy="2071.40" r="7.4" fill="#D42138" stroke="#000" stroke-width="1.6"/>
<circle cx="275.12" cy="2046.90" r="7.4" fill="#D42138" stroke="#000" stroke-width="1.6"/>
<circle cx="429.05" cy="1991.60" r="7.4" fill="#D42138" stroke="#000" stroke-width="1.6"/>
<circle cx="582.97" cy="1990.50" r="7.4" fill="#D42138" stroke="#000" stroke-width="1.6"/>
<line x1="121.20" y1="1972.00" x2="121.20" y2="2280.00" stroke="#000" stroke-width="2.8"/>
<line x1="119.80" y1="2278.60" x2="584.37" y2="2278.60" stroke="#000" stroke-width="2.8"/>
<text x="652.50" y="1926.50" font-size="40" font-weight="bold" fill="#222">g</text>
<text x="988.19" y="1935.50" font-size="29.1" font-weight="bold" text-anchor="middle">hVIC/11-V186G</text>
<rect x="757.30" y="2227.72" width="461.77" height="50.88" fill="#B4B4B4" stroke="none" stroke-width="1.5"/>
<text x="679.90" y="2127.6" font-size="24.4" font-weight="bold" text-anchor="middle" transform="rotate(-90 679.90 2127.6)">Viral Titer (TCID<tspan font-size="17" dy="5">50</tspan><tspan dy="-5">eq/mL)</tspan></text>
<line x1="744.80" y1="2278.60" x2="757.30" y2="2278.60" stroke="#000" stroke-width="2.8"/>
<text x="729.30" y="2287.60" font-size="24.3" font-weight="bold" text-anchor="end">10</text>
<text x="740.10" y="2280.40" font-size="17.5" font-weight="bold" text-anchor="end">0</text>
<line x1="744.80" y1="2227.72" x2="757.30" y2="2227.72" stroke="#000" stroke-width="2.8"/>
<text x="729.30" y="2236.72" font-size="24.3" font-weight="bold" text-anchor="end">10</text>
<text x="740.10" y="2229.52" font-size="17.5" font-weight="bold" text-anchor="end">1</text>
<line x1="744.80" y1="2176.84" x2="757.30" y2="2176.84" stroke="#000" stroke-width="2.8"/>
<text x="729.30" y="2185.84" font-size="24.3" font-weight="bold" text-anchor="end">10</text>
<text x="740.10" y="2178.64" font-size="17.5" font-weight="bold" text-anchor="end">2</text>
<line x1="744.80" y1="2125.96" x2="757.30" y2="2125.96" stroke="#000" stroke-width="2.8"/>
<text x="729.30" y="2134.96" font-size="24.3" font-weight="bold" text-anchor="end">10</text>
<text x="740.10" y="2127.76" font-size="17.5" font-weight="bold" text-anchor="end">3</text>
<line x1="744.80" y1="2075.08" x2="757.30" y2="2075.08" stroke="#000" stroke-width="2.8"/>
<text x="729.30" y="2084.08" font-size="24.3" font-weight="bold" text-anchor="end">10</text>
<text x="740.10" y="2076.88" font-size="17.5" font-weight="bold" text-anchor="end">4</text>
<line x1="744.80" y1="2024.20" x2="757.30" y2="2024.20" stroke="#000" stroke-width="2.8"/>
<text x="729.30" y="2033.20" font-size="24.3" font-weight="bold" text-anchor="end">10</text>
<text x="740.10" y="2026.00" font-size="17.5" font-weight="bold" text-anchor="end">5</text>
<line x1="744.80" y1="1973.32" x2="757.30" y2="1973.32" stroke="#000" stroke-width="2.8"/>
<text x="729.30" y="1982.32" font-size="24.3" font-weight="bold" text-anchor="end">10</text>
<text x="740.10" y="1975.12" font-size="17.5" font-weight="bold" text-anchor="end">6</text>
<line x1="757.30" y1="2278.60" x2="757.30" y2="2291.10" stroke="#000" stroke-width="2.8"/>
<line x1="770.13" y1="2278.60" x2="770.13" y2="2285.60" stroke="#000" stroke-width="2.4"/>
<line x1="782.95" y1="2278.60" x2="782.95" y2="2285.60" stroke="#000" stroke-width="2.4"/>
<line x1="795.78" y1="2278.60" x2="795.78" y2="2285.60" stroke="#000" stroke-width="2.4"/>
<line x1="808.61" y1="2278.60" x2="808.61" y2="2285.60" stroke="#000" stroke-width="2.4"/>
<line x1="821.43" y1="2278.60" x2="821.43" y2="2285.60" stroke="#000" stroke-width="2.4"/>
<line x1="834.26" y1="2278.60" x2="834.26" y2="2291.10" stroke="#000" stroke-width="2.8"/>
<line x1="847.09" y1="2278.60" x2="847.09" y2="2285.60" stroke="#000" stroke-width="2.4"/>
<line x1="859.92" y1="2278.60" x2="859.92" y2="2285.60" stroke="#000" stroke-width="2.4"/>
<line x1="872.74" y1="2278.60" x2="872.74" y2="2285.60" stroke="#000" stroke-width="2.4"/>
<line x1="885.57" y1="2278.60" x2="885.57" y2="2285.60" stroke="#000" stroke-width="2.4"/>
<line x1="898.40" y1="2278.60" x2="898.40" y2="2285.60" stroke="#000" stroke-width="2.4"/>
<line x1="911.22" y1="2278.60" x2="911.22" y2="2291.10" stroke="#000" stroke-width="2.8"/>
<line x1="924.05" y1="2278.60" x2="924.05" y2="2285.60" stroke="#000" stroke-width="2.4"/>
<line x1="936.88" y1="2278.60" x2="936.88" y2="2285.60" stroke="#000" stroke-width="2.4"/>
<line x1="949.70" y1="2278.60" x2="949.70" y2="2285.60" stroke="#000" stroke-width="2.4"/>
<line x1="962.53" y1="2278.60" x2="962.53" y2="2285.60" stroke="#000" stroke-width="2.4"/>
<line x1="975.36" y1="2278.60" x2="975.36" y2="2285.60" stroke="#000" stroke-width="2.4"/>
<line x1="988.19" y1="2278.60" x2="988.19" y2="2285.60" stroke="#000" stroke-width="2.4"/>
<line x1="1001.01" y1="2278.60" x2="1001.01" y2="2285.60" stroke="#000" stroke-width="2.4"/>
<line x1="1013.84" y1="2278.60" x2="1013.84" y2="2285.60" stroke="#000" stroke-width="2.4"/>
<line x1="1026.67" y1="2278.60" x2="1026.67" y2="2285.60" stroke="#000" stroke-width="2.4"/>
<line x1="1039.49" y1="2278.60" x2="1039.49" y2="2285.60" stroke="#000" stroke-width="2.4"/>
<line x1="1052.32" y1="2278.60" x2="1052.32" y2="2285.60" stroke="#000" stroke-width="2.4"/>
<line x1="1065.15" y1="2278.60" x2="1065.15" y2="2291.10" stroke="#000" stroke-width="2.8"/>
<line x1="1077.97" y1="2278.60" x2="1077.97" y2="2285.60" stroke="#000" stroke-width="2.4"/>
<line x1="1090.80" y1="2278.60" x2="1090.80" y2="2285.60" stroke="#000" stroke-width="2.4"/>
<line x1="1103.63" y1="2278.60" x2="1103.63" y2="2285.60" stroke="#000" stroke-width="2.4"/>
<line x1="1116.46" y1="2278.60" x2="1116.46" y2="2285.60" stroke="#000" stroke-width="2.4"/>
<line x1="1129.28" y1="2278.60" x2="1129.28" y2="2285.60" stroke="#000" stroke-width="2.4"/>
<line x1="1142.11" y1="2278.60" x2="1142.11" y2="2285.60" stroke="#000" stroke-width="2.4"/>
<line x1="1154.94" y1="2278.60" x2="1154.94" y2="2285.60" stroke="#000" stroke-width="2.4"/>
<line x1="1167.76" y1="2278.60" x2="1167.76" y2="2285.60" stroke="#000" stroke-width="2.4"/>
<line x1="1180.59" y1="2278.60" x2="1180.59" y2="2285.60" stroke="#000" stroke-width="2.4"/>
<line x1="1193.42" y1="2278.60" x2="1193.42" y2="2285.60" stroke="#000" stroke-width="2.4"/>
<line x1="1206.24" y1="2278.60" x2="1206.24" y2="2285.60" stroke="#000" stroke-width="2.4"/>
<line x1="1219.07" y1="2278.60" x2="1219.07" y2="2291.10" stroke="#000" stroke-width="2.8"/>
<text x="757.30" y="2316.70" font-size="21" font-weight="bold" text-anchor="middle">0</text>
<text x="834.26" y="2316.70" font-size="21" font-weight="bold" text-anchor="middle">12</text>
<text x="911.22" y="2316.70" font-size="21" font-weight="bold" text-anchor="middle">24</text>
<text x="1065.15" y="2316.70" font-size="21" font-weight="bold" text-anchor="middle">48</text>
<text x="1219.07" y="2316.70" font-size="21" font-weight="bold" text-anchor="middle">72</text>
<text x="988.19" y="2352.50" font-size="24.5" font-weight="bold" text-anchor="middle">Hours post infection</text>
<text x="1239.20" y="2234.20" font-size="25.5">L.D</text>
<line x1="757.30" y1="2227.72" x2="1219.07" y2="2227.72" stroke="#000" stroke-width="2.0" stroke-dasharray="1.6 4.6"/>
<path d="M757.30,2205.00 L834.26,2130.30 L911.22,2067.40 L1065.15,2017.10 L1219.07,2024.00" fill="none" stroke="#111" stroke-width="1.7"/>
<path d="M757.30,2224.80 L834.26,2189.30 L911.22,2154.30 L1065.15,2142.90 L1219.07,2125.70" fill="none" stroke="#F09828" stroke-width="1.7"/>
<path d="M757.30,2208.40 L834.26,2184.00 L911.22,2137.10 L1065.15,2099.00 L1219.07,2115.40" fill="none" stroke="#111" stroke-width="1.7"/>
<path d="M757.30,2198.10 L834.26,2228.00 L911.22,2228.00 L1065.15,2228.00 L1219.07,2228.00" fill="none" stroke="#3D50F0" stroke-width="1.7"/>
<path d="M757.30,2182.90 L834.26,2098.30 L911.22,2039.20 L1065.15,1995.00 L1219.07,1993.50" fill="none" stroke="#E0203A" stroke-width="1.7"/>
<line x1="834.26" y1="2116.20" x2="834.26" y2="2130.30" stroke="#000" stroke-width="1.6"/>
<line x1="826.36" y1="2116.20" x2="842.16" y2="2116.20" stroke="#000" stroke-width="1.6"/>
<line x1="834.26" y1="2130.30" x2="834.26" y2="2170.70" stroke="#000" stroke-width="1.6"/>
<line x1="826.36" y1="2170.70" x2="842.16" y2="2170.70" stroke="#000" stroke-width="1.6"/>
<line x1="911.22" y1="2067.40" x2="911.22" y2="2077.30" stroke="#000" stroke-width="1.6"/>
<line x1="903.32" y1="2077.30" x2="919.12" y2="2077.30" stroke="#000" stroke-width="1.6"/>
<line x1="1219.07" y1="2011.40" x2="1219.07" y2="2024.00" stroke="#000" stroke-width="1.6"/>
<line x1="1211.17" y1="2011.40" x2="1226.97" y2="2011.40" stroke="#000" stroke-width="1.6"/>
<line x1="1219.07" y1="2024.00" x2="1219.07" y2="2056.00" stroke="#000" stroke-width="1.6"/>
<line x1="1211.17" y1="2056.00" x2="1226.97" y2="2056.00" stroke="#000" stroke-width="1.6"/>
<line x1="911.22" y1="2154.30" x2="911.22" y2="2181.70" stroke="#000" stroke-width="1.6"/>
<line x1="903.32" y1="2181.70" x2="919.12" y2="2181.70" stroke="#000" stroke-width="1.6"/>
<line x1="1065.15" y1="2142.90" x2="1065.15" y2="2151.20" stroke="#000" stroke-width="1.6"/>
<line x1="1057.25" y1="2151.20" x2="1073.05" y2="2151.20" stroke="#000" stroke-width="1.6"/>
<line x1="1219.07" y1="2120.00" x2="1219.07" y2="2125.70" stroke="#000" stroke-width="1.6"/>
<line x1="1211.17" y1="2120.00" x2="1226.97" y2="2120.00" stroke="#000" stroke-width="1.6"/>
<line x1="1219.07" y1="2125.70" x2="1219.07" y2="2132.20" stroke="#000" stroke-width="1.6"/>
<line x1="1211.17" y1="2132.20" x2="1226.97" y2="2132.20" stroke="#000" stroke-width="1.6"/>
<line x1="757.30" y1="2196.00" x2="757.30" y2="2208.40" stroke="#000" stroke-width="1.6"/>
<line x1="749.40" y1="2196.00" x2="765.20" y2="2196.00" stroke="#000" stroke-width="1.6"/>
<line x1="834.26" y1="2173.30" x2="834.26" y2="2184.00" stroke="#000" stroke-width="1.6"/>
<line x1="826.36" y1="2173.30" x2="842.16" y2="2173.30" stroke="#000" stroke-width="1.6"/>
<line x1="834.26" y1="2184.00" x2="834.26" y2="2201.90" stroke="#000" stroke-width="1.6"/>
<line x1="826.36" y1="2201.90" x2="842.16" y2="2201.90" stroke="#000" stroke-width="1.6"/>
<line x1="911.22" y1="2126.90" x2="911.22" y2="2137.10" stroke="#000" stroke-width="1.6"/>
<line x1="903.32" y1="2126.90" x2="919.12" y2="2126.90" stroke="#000" stroke-width="1.6"/>
<line x1="1065.15" y1="2088.80" x2="1065.15" y2="2099.00" stroke="#000" stroke-width="1.6"/>
<line x1="1057.25" y1="2088.80" x2="1073.05" y2="2088.80" stroke="#000" stroke-width="1.6"/>
<line x1="1065.15" y1="2099.00" x2="1065.15" y2="2119.20" stroke="#000" stroke-width="1.6"/>
<line x1="1057.25" y1="2119.20" x2="1073.05" y2="2119.20" stroke="#000" stroke-width="1.6"/>
<line x1="1219.07" y1="2105.50" x2="1219.07" y2="2115.40" stroke="#000" stroke-width="1.6"/>
<line x1="1211.17" y1="2105.50" x2="1226.97" y2="2105.50" stroke="#000" stroke-width="1.6"/>
<line x1="757.30" y1="2171.40" x2="757.30" y2="2182.90" stroke="#000" stroke-width="1.6"/>
<line x1="749.40" y1="2171.40" x2="765.20" y2="2171.40" stroke="#000" stroke-width="1.6"/>
<line x1="834.26" y1="2085.00" x2="834.26" y2="2098.30" stroke="#000" stroke-width="1.6"/>
<line x1="826.36" y1="2085.00" x2="842.16" y2="2085.00" stroke="#000" stroke-width="1.6"/>
<line x1="834.26" y1="2098.30" x2="834.26" y2="2113.00" stroke="#000" stroke-width="1.6"/>
<line x1="826.36" y1="2113.00" x2="842.16" y2="2113.00" stroke="#000" stroke-width="1.6"/>
<line x1="911.22" y1="2031.60" x2="911.22" y2="2039.20" stroke="#000" stroke-width="1.6"/>
<line x1="903.32" y1="2031.60" x2="919.12" y2="2031.60" stroke="#000" stroke-width="1.6"/>
<line x1="911.22" y1="2039.20" x2="911.22" y2="2052.20" stroke="#000" stroke-width="1.6"/>
<line x1="903.32" y1="2052.20" x2="919.12" y2="2052.20" stroke="#000" stroke-width="1.6"/>
<line x1="1065.15" y1="1987.80" x2="1065.15" y2="1995.00" stroke="#000" stroke-width="1.6"/>
<line x1="1057.25" y1="1987.80" x2="1073.05" y2="1987.80" stroke="#000" stroke-width="1.6"/>
<line x1="1065.15" y1="1995.00" x2="1065.15" y2="2003.80" stroke="#000" stroke-width="1.6"/>
<line x1="1057.25" y1="2003.80" x2="1073.05" y2="2003.80" stroke="#000" stroke-width="1.6"/>
<line x1="757.30" y1="2227.72" x2="1219.07" y2="2227.72" stroke="#000" stroke-width="1.6" stroke-dasharray="1.6 4.6" opacity="0.75"/>
<circle cx="757.30" cy="2205.00" r="7.4" fill="#fff" stroke="#000" stroke-width="1.6"/>
<circle cx="834.26" cy="2130.30" r="7.4" fill="#fff" stroke="#000" stroke-width="1.6"/>
<circle cx="911.22" cy="2067.40" r="7.4" fill="#fff" stroke="#000" stroke-width="1.6"/>
<circle cx="1065.15" cy="2017.10" r="7.4" fill="#fff" stroke="#000" stroke-width="1.6"/>
<circle cx="1219.07" cy="2024.00" r="7.4" fill="#fff" stroke="#000" stroke-width="1.6"/>
<circle cx="757.30" cy="2224.80" r="7.4" fill="#EE9A2E" stroke="#000" stroke-width="1.6"/>
<circle cx="834.26" cy="2189.30" r="7.4" fill="#EE9A2E" stroke="#000" stroke-width="1.6"/>
<circle cx="911.22" cy="2154.30" r="7.4" fill="#EE9A2E" stroke="#000" stroke-width="1.6"/>
<circle cx="1065.15" cy="2142.90" r="7.4" fill="#EE9A2E" stroke="#000" stroke-width="1.6"/>
<circle cx="1219.07" cy="2125.70" r="7.4" fill="#EE9A2E" stroke="#000" stroke-width="1.6"/>
<circle cx="757.30" cy="2208.40" r="7.4" fill="#1E1E1E" stroke="#000" stroke-width="1.6"/>
<circle cx="834.26" cy="2184.00" r="7.4" fill="#1E1E1E" stroke="#000" stroke-width="1.6"/>
<circle cx="911.22" cy="2137.10" r="7.4" fill="#1E1E1E" stroke="#000" stroke-width="1.6"/>
<circle cx="1065.15" cy="2099.00" r="7.4" fill="#1E1E1E" stroke="#000" stroke-width="1.6"/>
<circle cx="1219.07" cy="2115.40" r="7.4" fill="#1E1E1E" stroke="#000" stroke-width="1.6"/>
<circle cx="757.30" cy="2198.10" r="7.4" fill="#4257F2" stroke="#000" stroke-width="1.6"/>
<circle cx="834.26" cy="2228.00" r="7.4" fill="#4257F2" stroke="#000" stroke-width="1.6"/>
<circle cx="911.22" cy="2228.00" r="7.4" fill="#4257F2" stroke="#000" stroke-width="1.6"/>
<circle cx="1065.15" cy="2228.00" r="7.4" fill="#4257F2" stroke="#000" stroke-width="1.6"/>
<circle cx="1219.07" cy="2228.00" r="7.4" fill="#4257F2" stroke="#000" stroke-width="1.6"/>
<circle cx="757.30" cy="2182.90" r="7.4" fill="#D42138" stroke="#000" stroke-width="1.6"/>
<circle cx="834.26" cy="2098.30" r="7.4" fill="#D42138" stroke="#000" stroke-width="1.6"/>
<circle cx="911.22" cy="2039.20" r="7.4" fill="#D42138" stroke="#000" stroke-width="1.6"/>
<circle cx="1065.15" cy="1995.00" r="7.4" fill="#D42138" stroke="#000" stroke-width="1.6"/>
<circle cx="1219.07" cy="1993.50" r="7.4" fill="#D42138" stroke="#000" stroke-width="1.6"/>
<line x1="757.30" y1="1972.00" x2="757.30" y2="2280.00" stroke="#000" stroke-width="2.8"/>
<line x1="755.90" y1="2278.60" x2="1220.47" y2="2278.60" stroke="#000" stroke-width="2.8"/>
<text x="1312.00" y="1926.50" font-size="40" font-weight="bold" fill="#222">h</text>
<text x="1625.29" y="1935.50" font-size="29.1" font-weight="bold" text-anchor="middle">hVIC/11-F193Y</text>
<rect x="1394.40" y="2227.72" width="461.77" height="50.88" fill="#B4B4B4" stroke="none" stroke-width="1.5"/>
<text x="1317.00" y="2127.6" font-size="24.4" font-weight="bold" text-anchor="middle" transform="rotate(-90 1317.00 2127.6)">Viral Titer (TCID<tspan font-size="17" dy="5">50</tspan><tspan dy="-5">eq/mL)</tspan></text>
<line x1="1381.90" y1="2278.60" x2="1394.40" y2="2278.60" stroke="#000" stroke-width="2.8"/>
<text x="1366.40" y="2287.60" font-size="24.3" font-weight="bold" text-anchor="end">10</text>
<text x="1377.20" y="2280.40" font-size="17.5" font-weight="bold" text-anchor="end">0</text>
<line x1="1381.90" y1="2227.72" x2="1394.40" y2="2227.72" stroke="#000" stroke-width="2.8"/>
<text x="1366.40" y="2236.72" font-size="24.3" font-weight="bold" text-anchor="end">10</text>
<text x="1377.20" y="2229.52" font-size="17.5" font-weight="bold" text-anchor="end">1</text>
<line x1="1381.90" y1="2176.84" x2="1394.40" y2="2176.84" stroke="#000" stroke-width="2.8"/>
<text x="1366.40" y="2185.84" font-size="24.3" font-weight="bold" text-anchor="end">10</text>
<text x="1377.20" y="2178.64" font-size="17.5" font-weight="bold" text-anchor="end">2</text>
<line x1="1381.90" y1="2125.96" x2="1394.40" y2="2125.96" stroke="#000" stroke-width="2.8"/>
<text x="1366.40" y="2134.96" font-size="24.3" font-weight="bold" text-anchor="end">10</text>
<text x="1377.20" y="2127.76" font-size="17.5" font-weight="bold" text-anchor="end">3</text>
<line x1="1381.90" y1="2075.08" x2="1394.40" y2="2075.08" stroke="#000" stroke-width="2.8"/>
<text x="1366.40" y="2084.08" font-size="24.3" font-weight="bold" text-anchor="end">10</text>
<text x="1377.20" y="2076.88" font-size="17.5" font-weight="bold" text-anchor="end">4</text>
<line x1="1381.90" y1="2024.20" x2="1394.40" y2="2024.20" stroke="#000" stroke-width="2.8"/>
<text x="1366.40" y="2033.20" font-size="24.3" font-weight="bold" text-anchor="end">10</text>
<text x="1377.20" y="2026.00" font-size="17.5" font-weight="bold" text-anchor="end">5</text>
<line x1="1381.90" y1="1973.32" x2="1394.40" y2="1973.32" stroke="#000" stroke-width="2.8"/>
<text x="1366.40" y="1982.32" font-size="24.3" font-weight="bold" text-anchor="end">10</text>
<text x="1377.20" y="1975.12" font-size="17.5" font-weight="bold" text-anchor="end">6</text>
<line x1="1394.40" y1="2278.60" x2="1394.40" y2="2291.10" stroke="#000" stroke-width="2.8"/>
<line x1="1407.23" y1="2278.60" x2="1407.23" y2="2285.60" stroke="#000" stroke-width="2.4"/>
<line x1="1420.05" y1="2278.60" x2="1420.05" y2="2285.60" stroke="#000" stroke-width="2.4"/>
<line x1="1432.88" y1="2278.60" x2="1432.88" y2="2285.60" stroke="#000" stroke-width="2.4"/>
<line x1="1445.71" y1="2278.60" x2="1445.71" y2="2285.60" stroke="#000" stroke-width="2.4"/>
<line x1="1458.54" y1="2278.60" x2="1458.54" y2="2285.60" stroke="#000" stroke-width="2.4"/>
<line x1="1471.36" y1="2278.60" x2="1471.36" y2="2291.10" stroke="#000" stroke-width="2.8"/>
<line x1="1484.19" y1="2278.60" x2="1484.19" y2="2285.60" stroke="#000" stroke-width="2.4"/>
<line x1="1497.02" y1="2278.60" x2="1497.02" y2="2285.60" stroke="#000" stroke-width="2.4"/>
<line x1="1509.84" y1="2278.60" x2="1509.84" y2="2285.60" stroke="#000" stroke-width="2.4"/>
<line x1="1522.67" y1="2278.60" x2="1522.67" y2="2285.60" stroke="#000" stroke-width="2.4"/>
<line x1="1535.50" y1="2278.60" x2="1535.50" y2="2285.60" stroke="#000" stroke-width="2.4"/>
<line x1="1548.32" y1="2278.60" x2="1548.32" y2="2291.10" stroke="#000" stroke-width="2.8"/>
<line x1="1561.15" y1="2278.60" x2="1561.15" y2="2285.60" stroke="#000" stroke-width="2.4"/>
<line x1="1573.98" y1="2278.60" x2="1573.98" y2="2285.60" stroke="#000" stroke-width="2.4"/>
<line x1="1586.81" y1="2278.60" x2="1586.81" y2="2285.60" stroke="#000" stroke-width="2.4"/>
<line x1="1599.63" y1="2278.60" x2="1599.63" y2="2285.60" stroke="#000" stroke-width="2.4"/>
<line x1="1612.46" y1="2278.60" x2="1612.46" y2="2285.60" stroke="#000" stroke-width="2.4"/>
<line x1="1625.29" y1="2278.60" x2="1625.29" y2="2285.60" stroke="#000" stroke-width="2.4"/>
<line x1="1638.11" y1="2278.60" x2="1638.11" y2="2285.60" stroke="#000" stroke-width="2.4"/>
<line x1="1650.94" y1="2278.60" x2="1650.94" y2="2285.60" stroke="#000" stroke-width="2.4"/>
<line x1="1663.77" y1="2278.60" x2="1663.77" y2="2285.60" stroke="#000" stroke-width="2.4"/>
<line x1="1676.59" y1="2278.60" x2="1676.59" y2="2285.60" stroke="#000" stroke-width="2.4"/>
<line x1="1689.42" y1="2278.60" x2="1689.42" y2="2285.60" stroke="#000" stroke-width="2.4"/>
<line x1="1702.25" y1="2278.60" x2="1702.25" y2="2291.10" stroke="#000" stroke-width="2.8"/>
<line x1="1715.08" y1="2278.60" x2="1715.08" y2="2285.60" stroke="#000" stroke-width="2.4"/>
<line x1="1727.90" y1="2278.60" x2="1727.90" y2="2285.60" stroke="#000" stroke-width="2.4"/>
<line x1="1740.73" y1="2278.60" x2="1740.73" y2="2285.60" stroke="#000" stroke-width="2.4"/>
<line x1="1753.56" y1="2278.60" x2="1753.56" y2="2285.60" stroke="#000" stroke-width="2.4"/>
<line x1="1766.38" y1="2278.60" x2="1766.38" y2="2285.60" stroke="#000" stroke-width="2.4"/>
<line x1="1779.21" y1="2278.60" x2="1779.21" y2="2285.60" stroke="#000" stroke-width="2.4"/>
<line x1="1792.04" y1="2278.60" x2="1792.04" y2="2285.60" stroke="#000" stroke-width="2.4"/>
<line x1="1804.86" y1="2278.60" x2="1804.86" y2="2285.60" stroke="#000" stroke-width="2.4"/>
<line x1="1817.69" y1="2278.60" x2="1817.69" y2="2285.60" stroke="#000" stroke-width="2.4"/>
<line x1="1830.52" y1="2278.60" x2="1830.52" y2="2285.60" stroke="#000" stroke-width="2.4"/>
<line x1="1843.35" y1="2278.60" x2="1843.35" y2="2285.60" stroke="#000" stroke-width="2.4"/>
<line x1="1856.17" y1="2278.60" x2="1856.17" y2="2291.10" stroke="#000" stroke-width="2.8"/>
<text x="1394.40" y="2316.70" font-size="21" font-weight="bold" text-anchor="middle">0</text>
<text x="1471.36" y="2316.70" font-size="21" font-weight="bold" text-anchor="middle">12</text>
<text x="1548.32" y="2316.70" font-size="21" font-weight="bold" text-anchor="middle">24</text>
<text x="1702.25" y="2316.70" font-size="21" font-weight="bold" text-anchor="middle">48</text>
<text x="1856.17" y="2316.70" font-size="21" font-weight="bold" text-anchor="middle">72</text>
<text x="1625.29" y="2352.50" font-size="24.5" font-weight="bold" text-anchor="middle">Hours post infection</text>
<text x="1881.70" y="2236.00" font-size="25.5">L.D</text>
<line x1="1394.40" y1="2227.72" x2="1856.17" y2="2227.72" stroke="#000" stroke-width="2.0" stroke-dasharray="1.6 4.6"/>
<path d="M1394.40,2184.80 L1471.36,2120.80 L1548.32,2097.90 L1702.25,1994.30 L1856.17,2000.40" fill="none" stroke="#111" stroke-width="1.7"/>
<path d="M1394.40,2212.20 L1471.36,2191.60 L1548.32,2154.30 L1702.25,2118.90 L1856.17,2111.20" fill="none" stroke="#F09828" stroke-width="1.7"/>
<path d="M1394.40,2228.00 L1471.36,2156.20 L1548.32,2137.10 L1702.25,2122.70 L1856.17,2075.00" fill="none" stroke="#111" stroke-width="1.7"/>
<path d="M1394.40,2199.20 L1471.36,2228.00 L1548.32,2228.00 L1702.25,2228.00 L1856.17,2228.00" fill="none" stroke="#3D50F0" stroke-width="1.7"/>
<path d="M1394.40,2192.40 L1471.36,2135.20 L1548.32,2043.80 L1702.25,2000.00 L1856.17,2012.60" fill="none" stroke="#E0203A" stroke-width="1.7"/>
<line x1="1394.40" y1="2173.30" x2="1394.40" y2="2184.80" stroke="#000" stroke-width="1.6"/>
<line x1="1386.50" y1="2173.30" x2="1402.30" y2="2173.30" stroke="#000" stroke-width="1.6"/>
<line x1="1471.36" y1="2105.50" x2="1471.36" y2="2120.80" stroke="#000" stroke-width="1.6"/>
<line x1="1463.46" y1="2105.50" x2="1479.26" y2="2105.50" stroke="#000" stroke-width="1.6"/>
<line x1="1548.32" y1="2089.50" x2="1548.32" y2="2097.90" stroke="#000" stroke-width="1.6"/>
<line x1="1540.42" y1="2089.50" x2="1556.22" y2="2089.50" stroke="#000" stroke-width="1.6"/>
<line x1="1548.32" y1="2097.90" x2="1548.32" y2="2108.60" stroke="#000" stroke-width="1.6"/>
<line x1="1540.42" y1="2108.60" x2="1556.22" y2="2108.60" stroke="#000" stroke-width="1.6"/>
<line x1="1702.25" y1="1985.90" x2="1702.25" y2="1994.30" stroke="#000" stroke-width="1.6"/>
<line x1="1694.35" y1="1985.90" x2="1710.15" y2="1985.90" stroke="#000" stroke-width="1.6"/>
<line x1="1702.25" y1="1994.30" x2="1702.25" y2="2011.40" stroke="#000" stroke-width="1.6"/>
<line x1="1694.35" y1="2011.40" x2="1710.15" y2="2011.40" stroke="#000" stroke-width="1.6"/>
<line x1="1856.17" y1="1991.20" x2="1856.17" y2="2000.40" stroke="#000" stroke-width="1.6"/>
<line x1="1848.27" y1="1991.20" x2="1864.07" y2="1991.20" stroke="#000" stroke-width="1.6"/>
<line x1="1471.36" y1="2182.90" x2="1471.36" y2="2191.60" stroke="#000" stroke-width="1.6"/>
<line x1="1463.46" y1="2182.90" x2="1479.26" y2="2182.90" stroke="#000" stroke-width="1.6"/>
<line x1="1471.36" y1="2191.60" x2="1471.36" y2="2247.60" stroke="#000" stroke-width="1.6"/>
<line x1="1463.46" y1="2247.60" x2="1479.26" y2="2247.60" stroke="#000" stroke-width="1.6"/>
<line x1="1548.32" y1="2146.70" x2="1548.32" y2="2154.30" stroke="#000" stroke-width="1.6"/>
<line x1="1540.42" y1="2146.70" x2="1556.22" y2="2146.70" stroke="#000" stroke-width="1.6"/>
<line x1="1548.32" y1="2154.30" x2="1548.32" y2="2165.00" stroke="#000" stroke-width="1.6"/>
<line x1="1540.42" y1="2165.00" x2="1556.22" y2="2165.00" stroke="#000" stroke-width="1.6"/>
<line x1="1856.17" y1="2120.00" x2="1856.17" y2="2111.20" stroke="#000" stroke-width="1.6"/>
<line x1="1848.27" y1="2120.00" x2="1864.07" y2="2120.00" stroke="#000" stroke-width="1.6"/>
<line x1="1856.17" y1="2111.20" x2="1856.17" y2="2129.50" stroke="#000" stroke-width="1.6"/>
<line x1="1848.27" y1="2129.50" x2="1864.07" y2="2129.50" stroke="#000" stroke-width="1.6"/>
<line x1="1471.36" y1="2145.90" x2="1471.36" y2="2156.20" stroke="#000" stroke-width="1.6"/>
<line x1="1463.46" y1="2145.90" x2="1479.26" y2="2145.90" stroke="#000" stroke-width="1.6"/>
<line x1="1471.36" y1="2156.20" x2="1471.36" y2="2204.60" stroke="#000" stroke-width="1.6"/>
<line x1="1463.46" y1="2204.60" x2="1479.26" y2="2204.60" stroke="#000" stroke-width="1.6"/>
<line x1="1548.32" y1="2125.70" x2="1548.32" y2="2137.10" stroke="#000" stroke-width="1.6"/>
<line x1="1540.42" y1="2125.70" x2="1556.22" y2="2125.70" stroke="#000" stroke-width="1.6"/>
<line x1="1548.32" y1="2137.10" x2="1548.32" y2="2148.60" stroke="#000" stroke-width="1.6"/>
<line x1="1540.42" y1="2148.60" x2="1556.22" y2="2148.60" stroke="#000" stroke-width="1.6"/>
<line x1="1702.25" y1="2111.60" x2="1702.25" y2="2122.70" stroke="#000" stroke-width="1.6"/>
<line x1="1694.35" y1="2111.60" x2="1710.15" y2="2111.60" stroke="#000" stroke-width="1.6"/>
<line x1="1702.25" y1="2122.70" x2="1702.25" y2="2133.30" stroke="#000" stroke-width="1.6"/>
<line x1="1694.35" y1="2133.30" x2="1710.15" y2="2133.30" stroke="#000" stroke-width="1.6"/>
<line x1="1856.17" y1="2061.00" x2="1856.17" y2="2075.00" stroke="#000" stroke-width="1.6"/>
<line x1="1848.27" y1="2061.00" x2="1864.07" y2="2061.00" stroke="#000" stroke-width="1.6"/>
<line x1="1856.17" y1="2075.00" x2="1856.17" y2="2129.50" stroke="#000" stroke-width="1.6"/>
<line x1="1848.27" y1="2129.50" x2="1864.07" y2="2129.50" stroke="#000" stroke-width="1.6"/>
<line x1="1471.36" y1="2135.20" x2="1471.36" y2="2144.80" stroke="#000" stroke-width="1.6"/>
<line x1="1463.46" y1="2144.80" x2="1479.26" y2="2144.80" stroke="#000" stroke-width="1.6"/>
<line x1="1548.32" y1="2029.30" x2="1548.32" y2="2043.80" stroke="#000" stroke-width="1.6"/>
<line x1="1540.42" y1="2029.30" x2="1556.22" y2="2029.30" stroke="#000" stroke-width="1.6"/>
<line x1="1548.32" y1="2043.80" x2="1548.32" y2="2108.00" stroke="#000" stroke-width="1.6"/>
<line x1="1540.42" y1="2108.00" x2="1556.22" y2="2108.00" stroke="#000" stroke-width="1.6"/>
<line x1="1702.25" y1="2000.00" x2="1702.25" y2="2014.00" stroke="#000" stroke-width="1.6"/>
<line x1="1694.35" y1="2014.00" x2="1710.15" y2="2014.00" stroke="#000" stroke-width="1.6"/>
<line x1="1856.17" y1="2012.60" x2="1856.17" y2="2024.00" stroke="#000" stroke-width="1.6"/>
<line x1="1848.27" y1="2024.00" x2="1864.07" y2="2024.00" stroke="#000" stroke-width="1.6"/>
<line x1="1394.40" y1="2227.72" x2="1856.17" y2="2227.72" stroke="#000" stroke-width="1.6" stroke-dasharray="1.6 4.6" opacity="0.75"/>
<circle cx="1394.40" cy="2184.80" r="7.4" fill="#fff" stroke="#000" stroke-width="1.6"/>
<circle cx="1471.36" cy="2120.80" r="7.4" fill="#fff" stroke="#000" stroke-width="1.6"/>
<circle cx="1548.32" cy="2097.90" r="7.4" fill="#fff" stroke="#000" stroke-width="1.6"/>
<circle cx="1702.25" cy="1994.30" r="7.4" fill="#fff" stroke="#000" stroke-width="1.6"/>
<circle cx="1856.17" cy="2000.40" r="7.4" fill="#fff" stroke="#000" stroke-width="1.6"/>
<circle cx="1394.40" cy="2212.20" r="7.4" fill="#EE9A2E" stroke="#000" stroke-width="1.6"/>
<circle cx="1471.36" cy="2191.60" r="7.4" fill="#EE9A2E" stroke="#000" stroke-width="1.6"/>
<circle cx="1548.32" cy="2154.30" r="7.4" fill="#EE9A2E" stroke="#000" stroke-width="1.6"/>
<circle cx="1702.25" cy="2118.90" r="7.4" fill="#EE9A2E" stroke="#000" stroke-width="1.6"/>
<circle cx="1856.17" cy="2111.20" r="7.4" fill="#EE9A2E" stroke="#000" stroke-width="1.6"/>
<circle cx="1394.40" cy="2228.00" r="7.4" fill="#1E1E1E" stroke="#000" stroke-width="1.6"/>
<circle cx="1471.36" cy="2156.20" r="7.4" fill="#1E1E1E" stroke="#000" stroke-width="1.6"/>
<circle cx="1548.32" cy="2137.10" r="7.4" fill="#1E1E1E" stroke="#000" stroke-width="1.6"/>
<circle cx="1702.25" cy="2122.70" r="7.4" fill="#1E1E1E" stroke="#000" stroke-width="1.6"/>
<circle cx="1856.17" cy="2075.00" r="7.4" fill="#1E1E1E" stroke="#000" stroke-width="1.6"/>
<circle cx="1394.40" cy="2199.20" r="7.4" fill="#4257F2" stroke="#000" stroke-width="1.6"/>
<circle cx="1471.36" cy="2228.00" r="7.4" fill="#4257F2" stroke="#000" stroke-width="1.6"/>
<circle cx="1548.32" cy="2228.00" r="7.4" fill="#4257F2" stroke="#000" stroke-width="1.6"/>
<circle cx="1702.25" cy="2228.00" r="7.4" fill="#4257F2" stroke="#000" stroke-width="1.6"/>
<circle cx="1856.17" cy="2228.00" r="7.4" fill="#4257F2" stroke="#000" stroke-width="1.6"/>
<circle cx="1394.40" cy="2192.40" r="7.4" fill="#D42138" stroke="#000" stroke-width="1.6"/>
<circle cx="1471.36" cy="2135.20" r="7.4" fill="#D42138" stroke="#000" stroke-width="1.6"/>
<circle cx="1548.32" cy="2043.80" r="7.4" fill="#D42138" stroke="#000" stroke-width="1.6"/>
<circle cx="1702.25" cy="2000.00" r="7.4" fill="#D42138" stroke="#000" stroke-width="1.6"/>
<circle cx="1856.17" cy="2012.60" r="7.4" fill="#D42138" stroke="#000" stroke-width="1.6"/>
<line x1="1394.40" y1="1972.00" x2="1394.40" y2="2280.00" stroke="#000" stroke-width="2.8"/>
<line x1="1393.00" y1="2278.60" x2="1857.57" y2="2278.60" stroke="#000" stroke-width="2.8"/>
<line x1="483.90" y1="2427.90" x2="517.90" y2="2427.90" stroke="#E0203A" stroke-width="1.5"/>
<circle cx="500.90" cy="2427.90" r="7.3" fill="#D42138" stroke="#000" stroke-width="1.5"/>
<text x="535.80" y="2436.50" font-size="24.4">shRNA-scrambled</text>
<line x1="756.20" y1="2427.90" x2="790.20" y2="2427.90" stroke="#3D50F0" stroke-width="1.5"/>
<circle cx="773.20" cy="2427.90" r="7.3" fill="#4257F2" stroke="#000" stroke-width="1.5"/>
<text x="808.80" y="2436.50" font-size="24.4">Empty vector</text>
<line x1="983.20" y1="2427.90" x2="1017.20" y2="2427.90" stroke="#111" stroke-width="1.5"/>
<circle cx="1000.20" cy="2427.90" r="7.3" fill="#1E1E1E" stroke="#000" stroke-width="1.5"/>
<text x="1035.80" y="2436.50" font-size="24.4">HLA-DR</text>
<line x1="1160.30" y1="2427.90" x2="1194.30" y2="2427.90" stroke="#F09828" stroke-width="1.5"/>
<circle cx="1177.30" cy="2427.90" r="7.3" fill="#EE9A2E" stroke="#000" stroke-width="1.5"/>
<text x="1212.20" y="2436.50" font-size="24.4">SLA-DR</text>
<line x1="1323.00" y1="2427.90" x2="1357.00" y2="2427.90" stroke="#111" stroke-width="1.5"/>
<circle cx="1340.00" cy="2427.90" r="7.3" fill="#fff" stroke="#000" stroke-width="1.5"/>
<text x="1375.30" y="2436.50" font-size="24.4">CMAS</text>
<path d="M754,2450.4 L754,2469.6 L1452.7,2469.6 L1452.7,2450.4" fill="none" stroke="#000" stroke-width="1.6"/>
<text x="1119.00" y="2496.60" font-size="22.4" text-anchor="middle">shRNA-CMAS</text>
</svg></body></html>
